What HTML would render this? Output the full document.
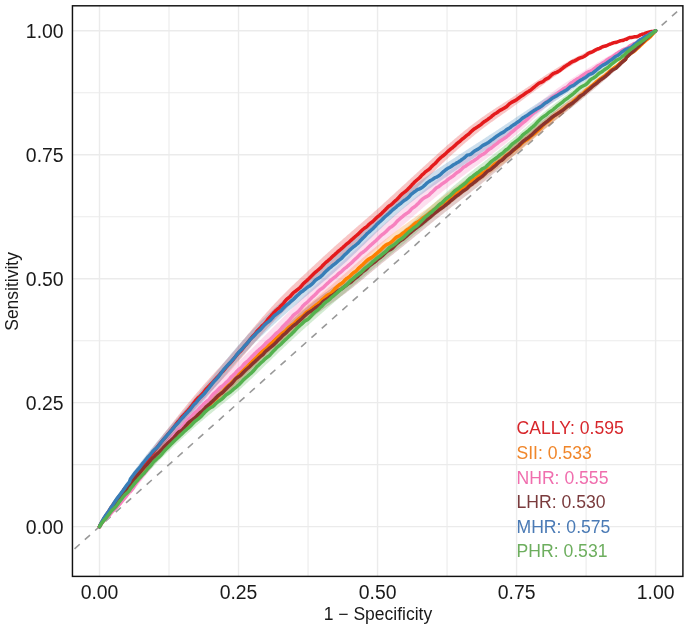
<!DOCTYPE html>
<html><head><meta charset="utf-8"><style>
html,body{margin:0;padding:0;background:#fff;}
body{width:685px;height:630px;position:relative;overflow:hidden;}
svg{position:absolute;left:0;top:0;font-family:"Liberation Sans",sans-serif;filter:blur(0.35px);}
</style></head><body>
<svg width="685" height="630" viewBox="0 0 685 630">
<defs><clipPath id="cp"><rect x="72.3" y="5.7" width="610.4" height="570.7"/></clipPath></defs>
<line x1="169.01" y1="5.7" x2="169.01" y2="576.4" stroke="#EBEBEB" stroke-width="1.1"/>
<line x1="72.3" y1="464.62" x2="682.7" y2="464.62" stroke="#EBEBEB" stroke-width="1.1"/>
<line x1="308.04" y1="5.7" x2="308.04" y2="576.4" stroke="#EBEBEB" stroke-width="1.1"/>
<line x1="72.3" y1="340.68" x2="682.7" y2="340.68" stroke="#EBEBEB" stroke-width="1.1"/>
<line x1="447.06" y1="5.7" x2="447.06" y2="576.4" stroke="#EBEBEB" stroke-width="1.1"/>
<line x1="72.3" y1="216.73" x2="682.7" y2="216.73" stroke="#EBEBEB" stroke-width="1.1"/>
<line x1="586.09" y1="5.7" x2="586.09" y2="576.4" stroke="#EBEBEB" stroke-width="1.1"/>
<line x1="72.3" y1="92.78" x2="682.7" y2="92.78" stroke="#EBEBEB" stroke-width="1.1"/>
<line x1="99.50" y1="5.7" x2="99.50" y2="576.4" stroke="#EBEBEB" stroke-width="1.4"/>
<line x1="72.3" y1="526.60" x2="682.7" y2="526.60" stroke="#EBEBEB" stroke-width="1.4"/>
<line x1="238.53" y1="5.7" x2="238.53" y2="576.4" stroke="#EBEBEB" stroke-width="1.4"/>
<line x1="72.3" y1="402.65" x2="682.7" y2="402.65" stroke="#EBEBEB" stroke-width="1.4"/>
<line x1="377.55" y1="5.7" x2="377.55" y2="576.4" stroke="#EBEBEB" stroke-width="1.4"/>
<line x1="72.3" y1="278.70" x2="682.7" y2="278.70" stroke="#EBEBEB" stroke-width="1.4"/>
<line x1="516.58" y1="5.7" x2="516.58" y2="576.4" stroke="#EBEBEB" stroke-width="1.4"/>
<line x1="72.3" y1="154.75" x2="682.7" y2="154.75" stroke="#EBEBEB" stroke-width="1.4"/>
<line x1="655.60" y1="5.7" x2="655.60" y2="576.4" stroke="#EBEBEB" stroke-width="1.4"/>
<line x1="72.3" y1="30.80" x2="682.7" y2="30.80" stroke="#EBEBEB" stroke-width="1.4"/>
<g clip-path="url(#cp)">
<line x1="72.30" y1="550.85" x2="682.70" y2="6.64" stroke="#999999" stroke-width="1.6" stroke-dasharray="6.9 6.9" stroke-dashoffset="-3.0"/>
<path d="M99.5 526.6 L100.5 524.2 L101.5 522.1 L102.5 520.2 L103.5 518.4 L104.5 516.6 L105.5 514.8 L106.5 513.1 L107.5 511.5 L108.5 509.8 L109.5 508.2 L110.5 506.6 L111.5 505.0 L112.5 503.4 L113.5 501.9 L114.5 500.4 L115.5 498.9 L116.5 497.5 L117.5 496.0 L118.5 494.6 L119.5 493.2 L120.5 491.9 L121.5 490.5 L122.5 489.1 L123.5 487.8 L124.5 486.4 L125.5 485.1 L126.5 483.8 L127.5 482.5 L128.5 481.2 L129.5 479.9 L130.5 476.8 L131.5 475.5 L132.5 474.2 L133.5 472.9 L134.5 471.6 L135.5 470.3 L136.5 469.0 L137.5 467.7 L138.5 466.4 L139.5 465.1 L140.5 463.8 L141.5 462.5 L142.5 461.2 L143.5 459.9 L144.5 458.6 L145.5 457.2 L146.5 455.9 L147.5 454.6 L148.5 453.3 L149.5 452.0 L150.5 450.7 L151.5 449.5 L152.5 448.2 L153.5 446.9 L154.5 445.6 L155.5 444.3 L156.5 443.0 L157.5 441.8 L158.5 440.5 L159.5 439.2 L160.5 437.9 L161.5 436.7 L162.5 435.4 L163.5 434.1 L164.5 432.8 L165.5 431.6 L166.5 430.3 L167.5 429.0 L168.5 427.7 L169.5 426.5 L170.5 425.2 L171.5 423.9 L172.5 422.7 L173.5 421.4 L174.5 420.1 L175.5 418.9 L176.5 417.6 L177.5 416.4 L178.5 415.1 L179.5 413.9 L180.5 412.6 L181.5 411.4 L182.5 410.1 L183.5 408.9 L184.5 407.7 L185.5 406.4 L186.5 405.2 L187.5 404.0 L188.5 402.8 L189.5 401.6 L190.5 400.4 L191.5 399.2 L192.5 398.0 L193.5 396.8 L194.5 395.6 L195.5 394.4 L196.5 393.2 L197.5 392.0 L198.5 390.9 L199.5 389.7 L200.5 388.5 L201.5 387.4 L202.5 386.2 L203.5 385.1 L204.5 383.9 L205.5 382.8 L206.5 381.7 L207.5 380.6 L208.5 379.4 L209.5 378.3 L210.5 377.2 L211.5 376.1 L212.5 375.0 L213.5 373.9 L214.5 372.8 L215.5 371.7 L216.5 370.6 L217.5 369.6 L218.5 368.5 L219.5 367.4 L220.5 366.3 L221.5 365.2 L222.5 364.1 L223.5 363.0 L224.5 361.9 L225.5 360.7 L226.5 359.6 L227.5 358.5 L228.5 357.3 L229.5 356.2 L230.5 355.0 L231.5 353.9 L232.5 352.7 L233.5 351.5 L234.5 350.4 L235.5 349.2 L236.5 348.0 L237.5 346.8 L238.5 345.6 L239.5 344.4 L240.5 343.2 L241.5 342.0 L242.5 340.8 L243.5 339.6 L244.5 338.4 L245.5 337.2 L246.5 336.0 L247.5 334.8 L248.5 333.6 L249.5 332.4 L250.5 331.2 L251.5 330.0 L252.5 328.8 L253.5 327.6 L254.5 326.5 L255.5 325.3 L256.5 324.1 L257.5 322.9 L258.5 321.8 L259.5 320.6 L260.5 319.4 L261.5 318.3 L262.5 317.1 L263.5 316.0 L264.5 314.9 L265.5 313.7 L266.5 312.6 L267.5 311.5 L268.5 310.4 L269.5 309.3 L270.5 308.2 L271.5 307.1 L272.5 306.0 L273.5 304.9 L274.5 303.8 L275.5 302.8 L276.5 301.7 L277.5 300.7 L278.5 299.6 L279.5 298.6 L280.5 297.5 L281.5 296.5 L282.5 295.5 L283.5 294.5 L284.5 293.5 L285.5 292.5 L286.5 291.5 L287.5 290.5 L288.5 289.5 L289.5 288.5 L290.5 287.6 L291.5 286.6 L292.5 285.6 L293.5 284.7 L294.5 283.7 L295.5 282.8 L296.5 281.8 L297.5 280.9 L298.5 279.9 L299.5 279.0 L300.5 278.0 L301.5 277.1 L302.5 276.2 L303.5 275.2 L304.5 274.3 L305.5 273.4 L306.5 272.4 L307.5 271.5 L308.5 270.5 L309.5 269.6 L310.5 268.7 L311.5 267.8 L312.5 266.8 L313.5 265.9 L314.5 265.0 L315.5 264.0 L316.5 263.1 L317.5 262.2 L318.5 261.2 L319.5 260.3 L320.5 259.4 L321.5 258.5 L322.5 257.6 L323.5 256.6 L324.5 255.7 L325.5 254.8 L326.5 253.9 L327.5 253.0 L328.5 252.1 L329.5 251.2 L330.5 250.2 L331.5 249.3 L332.5 248.4 L333.5 247.5 L334.5 246.6 L335.5 245.7 L336.5 244.8 L337.5 243.9 L338.5 243.1 L339.5 242.2 L340.5 241.3 L341.5 240.4 L342.5 239.5 L343.5 238.6 L344.5 237.7 L345.5 236.9 L346.5 236.0 L347.5 235.1 L348.5 234.2 L349.5 233.4 L350.5 232.5 L351.5 231.6 L352.5 230.8 L353.5 229.9 L354.5 229.1 L355.5 228.2 L356.5 227.3 L357.5 226.5 L358.5 225.6 L359.5 224.7 L360.5 223.9 L361.5 223.0 L362.5 222.2 L363.5 221.3 L364.5 220.4 L365.5 219.6 L366.5 218.7 L367.5 217.8 L368.5 216.9 L369.5 216.1 L370.5 215.2 L371.5 214.3 L372.5 213.4 L373.5 212.5 L374.5 211.6 L375.5 210.8 L376.5 209.9 L377.5 209.0 L378.5 208.1 L379.5 207.2 L380.5 206.3 L381.5 205.4 L382.5 204.4 L383.5 203.5 L384.5 202.6 L385.5 201.7 L386.5 200.8 L387.5 199.9 L388.5 199.0 L389.5 198.1 L390.5 197.1 L391.5 196.2 L392.5 195.3 L393.5 194.4 L394.5 193.5 L395.5 192.6 L396.5 191.6 L397.5 190.7 L398.5 189.8 L399.5 188.9 L400.5 188.0 L401.5 187.0 L402.5 186.1 L403.5 185.2 L404.5 184.3 L405.5 183.4 L406.5 182.4 L407.5 181.5 L408.5 180.6 L409.5 179.7 L410.5 178.8 L411.5 177.8 L412.5 176.9 L413.5 176.0 L414.5 175.1 L415.5 174.2 L416.5 173.3 L417.5 172.3 L418.5 171.4 L419.5 170.5 L420.5 169.6 L421.5 168.7 L422.5 167.7 L423.5 166.8 L424.5 165.9 L425.5 165.0 L426.5 164.1 L427.5 163.2 L428.5 162.2 L429.5 161.3 L430.5 160.4 L431.5 159.5 L432.5 158.6 L433.5 157.7 L434.5 156.8 L435.5 155.9 L436.5 154.9 L437.5 154.0 L438.5 153.1 L439.5 152.2 L440.5 151.3 L441.5 150.4 L442.5 149.6 L443.5 148.7 L444.5 147.8 L445.5 146.9 L446.5 146.0 L447.5 145.1 L448.5 144.3 L449.5 143.4 L450.5 142.5 L451.5 141.7 L452.5 140.8 L453.5 139.9 L454.5 139.1 L455.5 138.2 L456.5 137.4 L457.5 136.6 L458.5 135.7 L459.5 134.9 L460.5 134.1 L461.5 133.2 L462.5 132.4 L463.5 131.6 L464.5 130.8 L465.5 130.0 L466.5 129.2 L467.5 128.4 L468.5 127.6 L469.5 126.8 L470.5 126.1 L471.5 125.3 L472.5 124.5 L473.5 123.8 L474.5 123.0 L475.5 122.2 L476.5 121.5 L477.5 120.8 L478.5 120.0 L479.5 119.3 L480.5 118.6 L481.5 117.8 L482.5 117.1 L483.5 116.4 L484.5 115.7 L485.5 115.0 L486.5 114.3 L487.5 113.6 L488.5 112.9 L489.5 112.3 L490.5 111.6 L491.5 110.9 L492.5 110.3 L493.5 109.6 L494.5 108.9 L495.5 108.3 L496.5 107.6 L497.5 107.0 L498.5 106.3 L499.5 105.7 L500.5 105.0 L501.5 104.4 L502.5 103.7 L503.5 103.1 L504.5 102.5 L505.5 101.8 L506.5 101.2 L507.5 100.5 L508.5 99.9 L509.5 99.2 L510.5 98.6 L511.5 97.9 L512.5 97.2 L513.5 96.6 L514.5 95.9 L515.5 95.3 L516.5 94.6 L517.5 93.9 L518.5 93.3 L519.5 92.6 L520.5 91.9 L521.5 91.3 L522.5 90.6 L523.5 89.9 L524.5 89.3 L525.5 88.6 L526.5 87.9 L527.5 87.2 L528.5 86.6 L529.5 85.9 L530.5 85.2 L531.5 84.6 L532.5 83.9 L533.5 83.2 L534.5 82.5 L535.5 81.9 L536.5 81.2 L537.5 80.5 L538.5 79.9 L539.5 79.2 L540.5 78.6 L541.5 77.9 L542.5 77.2 L543.5 76.6 L544.5 75.9 L545.5 75.3 L546.5 74.6 L547.5 74.0 L548.5 73.3 L549.5 72.7 L550.5 72.1 L551.5 71.4 L552.5 70.8 L553.5 70.2 L554.5 69.5 L555.5 68.9 L556.5 68.3 L557.5 67.7 L558.5 67.1 L559.5 66.5 L560.5 65.9 L561.5 65.3 L562.5 64.7 L563.5 64.1 L564.5 63.5 L565.5 62.9 L566.5 62.4 L567.5 61.8 L568.5 61.2 L569.5 60.7 L570.5 60.1 L571.5 59.6 L572.5 59.0 L573.5 58.5 L574.5 58.0 L575.5 57.5 L576.5 56.9 L577.5 56.4 L578.5 55.9 L579.5 55.4 L580.5 54.9 L581.5 54.5 L582.5 54.0 L583.5 53.5 L584.5 53.0 L585.5 52.6 L586.5 52.1 L587.5 51.6 L588.5 51.2 L589.5 50.7 L590.5 50.3 L591.5 49.9 L592.5 49.4 L593.5 49.0 L594.5 48.6 L595.5 48.2 L596.5 47.8 L597.5 47.4 L598.5 47.0 L599.5 46.6 L600.5 46.2 L601.5 45.8 L602.5 45.4 L603.5 45.0 L604.5 44.7 L605.5 44.3 L606.5 43.9 L607.5 43.6 L608.5 43.2 L609.5 42.9 L610.5 42.6 L611.5 42.2 L612.5 41.9 L613.5 41.6 L614.5 41.3 L615.5 40.9 L616.5 40.6 L617.5 40.3 L618.5 40.0 L619.5 39.7 L620.5 39.4 L621.5 39.1 L622.5 38.8 L623.5 38.5 L624.5 38.2 L625.5 37.9 L626.5 38.4 L627.5 38.1 L628.5 37.8 L629.5 37.5 L630.5 37.1 L631.5 36.8 L632.5 36.5 L633.5 36.2 L634.5 35.9 L635.5 35.5 L636.5 35.2 L637.5 34.9 L638.5 34.6 L639.5 34.3 L640.5 34.0 L641.5 33.7 L642.5 33.4 L643.5 33.2 L644.5 32.9 L645.5 32.7 L646.5 32.4 L647.5 32.2 L648.5 32.0 L649.5 31.8 L650.5 31.6 L651.5 31.5 L652.5 31.3 L653.5 31.1 L654.5 31.0 L655.5 30.8 L655.6 30.8 L655.6 30.8 L655.5 30.8 L654.5 31.1 L653.5 31.4 L652.5 31.6 L651.5 31.9 L650.5 32.1 L649.5 32.4 L648.5 32.6 L647.5 32.9 L646.5 33.2 L645.5 33.5 L644.5 33.8 L643.5 34.2 L642.5 34.5 L641.5 34.9 L640.5 35.3 L639.5 35.6 L638.5 36.0 L637.5 36.4 L636.5 36.8 L635.5 37.2 L634.5 37.6 L633.5 38.0 L632.5 38.4 L631.5 38.8 L630.5 39.2 L629.5 39.5 L628.5 39.9 L627.5 40.3 L626.5 40.7 L625.5 40.1 L624.5 40.5 L623.5 40.8 L622.5 41.2 L621.5 41.6 L620.5 41.9 L619.5 42.3 L618.5 42.7 L617.5 43.0 L616.5 43.4 L615.5 43.8 L614.5 44.1 L613.5 44.5 L612.5 44.9 L611.5 45.3 L610.5 45.7 L609.5 46.1 L608.5 46.5 L607.5 46.9 L606.5 47.3 L605.5 47.7 L604.5 48.2 L603.5 48.6 L602.5 49.1 L601.5 49.5 L600.5 50.0 L599.5 50.4 L598.5 50.9 L597.5 51.3 L596.5 51.8 L595.5 52.3 L594.5 52.8 L593.5 53.3 L592.5 53.8 L591.5 54.3 L590.5 54.8 L589.5 55.3 L588.5 55.8 L587.5 56.3 L586.5 56.8 L585.5 57.4 L584.5 57.9 L583.5 58.4 L582.5 59.0 L581.5 59.5 L580.5 60.1 L579.5 60.7 L578.5 61.2 L577.5 61.8 L576.5 62.4 L575.5 63.0 L574.5 63.6 L573.5 64.2 L572.5 64.8 L571.5 65.4 L570.5 66.0 L569.5 66.6 L568.5 67.3 L567.5 67.9 L566.5 68.5 L565.5 69.2 L564.5 69.8 L563.5 70.5 L562.5 71.2 L561.5 71.8 L560.5 72.5 L559.5 73.2 L558.5 73.9 L557.5 74.5 L556.5 75.2 L555.5 75.9 L554.5 76.6 L553.5 77.3 L552.5 78.0 L551.5 78.7 L550.5 79.5 L549.5 80.2 L548.5 80.9 L547.5 81.6 L546.5 82.3 L545.5 83.0 L544.5 83.8 L543.5 84.5 L542.5 85.2 L541.5 86.0 L540.5 86.7 L539.5 87.4 L538.5 88.2 L537.5 88.9 L536.5 89.6 L535.5 90.4 L534.5 91.1 L533.5 91.9 L532.5 92.6 L531.5 93.3 L530.5 94.1 L529.5 94.8 L528.5 95.6 L527.5 96.3 L526.5 97.0 L525.5 97.8 L524.5 98.5 L523.5 99.2 L522.5 100.0 L521.5 100.7 L520.5 101.4 L519.5 102.2 L518.5 102.9 L517.5 103.6 L516.5 104.4 L515.5 105.1 L514.5 105.8 L513.5 106.5 L512.5 107.3 L511.5 108.0 L510.5 108.7 L509.5 109.4 L508.5 110.1 L507.5 110.8 L506.5 111.5 L505.5 112.2 L504.5 112.9 L503.5 113.6 L502.5 114.3 L501.5 115.0 L500.5 115.7 L499.5 116.4 L498.5 117.1 L497.5 117.8 L496.5 118.5 L495.5 119.2 L494.5 120.0 L493.5 120.7 L492.5 121.4 L491.5 122.1 L490.5 122.8 L489.5 123.5 L488.5 124.3 L487.5 125.0 L486.5 125.8 L485.5 126.5 L484.5 127.3 L483.5 128.0 L482.5 128.8 L481.5 129.6 L480.5 130.3 L479.5 131.1 L478.5 131.9 L477.5 132.7 L476.5 133.5 L475.5 134.3 L474.5 135.1 L473.5 135.9 L472.5 136.7 L471.5 137.6 L470.5 138.4 L469.5 139.2 L468.5 140.1 L467.5 140.9 L466.5 141.7 L465.5 142.6 L464.5 143.5 L463.5 144.3 L462.5 145.2 L461.5 146.1 L460.5 146.9 L459.5 147.8 L458.5 148.7 L457.5 149.6 L456.5 150.5 L455.5 151.4 L454.5 152.3 L453.5 153.2 L452.5 154.1 L451.5 155.0 L450.5 155.9 L449.5 156.8 L448.5 157.7 L447.5 158.7 L446.5 159.6 L445.5 160.5 L444.5 161.5 L443.5 162.4 L442.5 163.3 L441.5 164.3 L440.5 165.2 L439.5 166.2 L438.5 167.1 L437.5 168.1 L436.5 169.0 L435.5 170.0 L434.5 170.9 L433.5 171.9 L432.5 172.9 L431.5 173.8 L430.5 174.8 L429.5 175.7 L428.5 176.7 L427.5 177.7 L426.5 178.6 L425.5 179.6 L424.5 180.5 L423.5 181.5 L422.5 182.5 L421.5 183.4 L420.5 184.4 L419.5 185.3 L418.5 186.3 L417.5 187.3 L416.5 188.2 L415.5 189.2 L414.5 190.1 L413.5 191.1 L412.5 192.1 L411.5 193.0 L410.5 194.0 L409.5 194.9 L408.5 195.9 L407.5 196.8 L406.5 197.8 L405.5 198.7 L404.5 199.7 L403.5 200.7 L402.5 201.6 L401.5 202.6 L400.5 203.5 L399.5 204.5 L398.5 205.4 L397.5 206.4 L396.5 207.3 L395.5 208.3 L394.5 209.2 L393.5 210.2 L392.5 211.1 L391.5 212.1 L390.5 213.0 L389.5 213.9 L388.5 214.9 L387.5 215.8 L386.5 216.8 L385.5 217.7 L384.5 218.7 L383.5 219.6 L382.5 220.5 L381.5 221.5 L380.5 222.4 L379.5 223.3 L378.5 224.2 L377.5 225.2 L376.5 226.1 L375.5 227.0 L374.5 227.9 L373.5 228.8 L372.5 229.7 L371.5 230.6 L370.5 231.5 L369.5 232.4 L368.5 233.3 L367.5 234.2 L366.5 235.1 L365.5 236.0 L364.5 236.9 L363.5 237.8 L362.5 238.7 L361.5 239.5 L360.5 240.4 L359.5 241.3 L358.5 242.2 L357.5 243.1 L356.5 243.9 L355.5 244.8 L354.5 245.7 L353.5 246.6 L352.5 247.5 L351.5 248.3 L350.5 249.2 L349.5 250.1 L348.5 251.0 L347.5 251.9 L346.5 252.7 L345.5 253.6 L344.5 254.5 L343.5 255.4 L342.5 256.3 L341.5 257.2 L340.5 258.1 L339.5 259.0 L338.5 259.9 L337.5 260.8 L336.5 261.7 L335.5 262.6 L334.5 263.5 L333.5 264.4 L332.5 265.3 L331.5 266.2 L330.5 267.2 L329.5 268.1 L328.5 269.0 L327.5 269.9 L326.5 270.8 L325.5 271.8 L324.5 272.7 L323.5 273.6 L322.5 274.5 L321.5 275.4 L320.5 276.4 L319.5 277.3 L318.5 278.2 L317.5 279.2 L316.5 280.1 L315.5 281.0 L314.5 282.0 L313.5 282.9 L312.5 283.8 L311.5 284.7 L310.5 285.7 L309.5 286.6 L308.5 287.5 L307.5 288.5 L306.5 289.4 L305.5 290.3 L304.5 291.3 L303.5 292.2 L302.5 293.2 L301.5 294.1 L300.5 295.0 L299.5 296.0 L298.5 296.9 L297.5 297.8 L296.5 298.8 L295.5 299.7 L294.5 300.7 L293.5 301.6 L292.5 302.6 L291.5 303.5 L290.5 304.5 L289.5 305.5 L288.5 306.4 L287.5 307.4 L286.5 308.4 L285.5 309.4 L284.5 310.4 L283.5 311.4 L282.5 312.4 L281.5 313.4 L280.5 314.4 L279.5 315.4 L278.5 316.4 L277.5 317.5 L276.5 318.5 L275.5 319.6 L274.5 320.6 L273.5 321.7 L272.5 322.7 L271.5 323.8 L270.5 324.9 L269.5 326.0 L268.5 327.0 L267.5 328.1 L266.5 329.2 L265.5 330.3 L264.5 331.4 L263.5 332.6 L262.5 333.7 L261.5 334.8 L260.5 335.9 L259.5 337.1 L258.5 338.2 L257.5 339.4 L256.5 340.5 L255.5 341.6 L254.5 342.8 L253.5 344.0 L252.5 345.1 L251.5 346.3 L250.5 347.4 L249.5 348.6 L248.5 349.8 L247.5 350.9 L246.5 352.1 L245.5 353.3 L244.5 354.4 L243.5 355.6 L242.5 356.8 L241.5 357.9 L240.5 359.1 L239.5 360.3 L238.5 361.4 L237.5 362.6 L236.5 363.7 L235.5 364.9 L234.5 366.0 L233.5 367.2 L232.5 368.3 L231.5 369.4 L230.5 370.5 L229.5 371.7 L228.5 372.8 L227.5 373.9 L226.5 374.9 L225.5 376.0 L224.5 377.1 L223.5 378.2 L222.5 379.2 L221.5 380.3 L220.5 381.4 L219.5 382.4 L218.5 383.5 L217.5 384.5 L216.5 385.6 L215.5 386.6 L214.5 387.6 L213.5 388.7 L212.5 389.7 L211.5 390.8 L210.5 391.8 L209.5 392.9 L208.5 394.0 L207.5 395.0 L206.5 396.1 L205.5 397.2 L204.5 398.3 L203.5 399.3 L202.5 400.4 L201.5 401.5 L200.5 402.6 L199.5 403.7 L198.5 404.8 L197.5 405.9 L196.5 407.1 L195.5 408.2 L194.5 409.3 L193.5 410.4 L192.5 411.6 L191.5 412.7 L190.5 413.8 L189.5 415.0 L188.5 416.1 L187.5 417.2 L186.5 418.4 L185.5 419.5 L184.5 420.7 L183.5 421.9 L182.5 423.0 L181.5 424.2 L180.5 425.3 L179.5 426.5 L178.5 427.7 L177.5 428.9 L176.5 430.0 L175.5 431.2 L174.5 432.4 L173.5 433.6 L172.5 434.7 L171.5 435.9 L170.5 437.1 L169.5 438.3 L168.5 439.5 L167.5 440.6 L166.5 441.8 L165.5 443.0 L164.5 444.2 L163.5 445.4 L162.5 446.6 L161.5 447.7 L160.5 448.9 L159.5 450.1 L158.5 451.3 L157.5 452.5 L156.5 453.6 L155.5 454.8 L154.5 456.0 L153.5 457.2 L152.5 458.3 L151.5 459.5 L150.5 460.7 L149.5 461.9 L148.5 463.1 L147.5 464.2 L146.5 465.4 L145.5 466.6 L144.5 467.8 L143.5 469.0 L142.5 470.2 L141.5 471.4 L140.5 472.6 L139.5 473.8 L138.5 475.0 L137.5 476.1 L136.5 477.3 L135.5 478.5 L134.5 479.7 L133.5 480.8 L132.5 482.0 L131.5 483.2 L130.5 484.3 L129.5 487.1 L128.5 488.2 L127.5 489.4 L126.5 490.6 L125.5 491.7 L124.5 492.9 L123.5 494.1 L122.5 495.3 L121.5 496.5 L120.5 497.7 L119.5 498.9 L118.5 500.1 L117.5 501.4 L116.5 502.6 L115.5 503.9 L114.5 505.2 L113.5 506.5 L112.5 507.8 L111.5 509.1 L110.5 510.5 L109.5 511.8 L108.5 513.2 L107.5 514.6 L106.5 516.0 L105.5 517.5 L104.5 518.9 L103.5 520.4 L102.5 521.9 L101.5 523.4 L100.5 525.0 L99.5 526.6Z" fill="#E41A1C" fill-opacity="0.25"/>
<path d="M99.5 526.6 L100.5 524.6 L101.5 522.9 L102.5 521.3 L103.5 519.8 L104.5 518.3 L105.5 516.8 L106.5 515.4 L107.5 513.9 L108.5 512.5 L109.5 511.1 L110.5 509.7 L111.5 508.3 L112.5 506.9 L113.5 505.5 L114.5 504.1 L115.5 502.8 L116.5 501.4 L117.5 500.1 L118.5 498.8 L119.5 497.4 L120.5 496.1 L121.5 494.8 L122.5 493.6 L123.5 492.3 L124.5 491.0 L125.5 489.8 L126.5 488.5 L127.5 487.3 L128.5 486.1 L129.5 484.8 L130.5 482.2 L131.5 480.9 L132.5 479.7 L133.5 478.4 L134.5 477.1 L135.5 475.9 L136.5 474.6 L137.5 473.4 L138.5 472.2 L139.5 470.9 L140.5 469.7 L141.5 468.5 L142.5 467.3 L143.5 466.1 L144.5 465.0 L145.5 463.8 L146.5 462.6 L147.5 461.5 L148.5 460.3 L149.5 459.2 L150.5 458.0 L151.5 456.9 L152.5 455.8 L153.5 454.7 L154.5 453.6 L155.5 452.5 L156.5 451.4 L157.5 450.3 L158.5 449.2 L159.5 448.1 L160.5 447.1 L161.5 446.0 L162.5 444.9 L163.5 443.9 L164.5 442.8 L165.5 441.8 L166.5 440.8 L167.5 439.8 L168.5 438.7 L169.5 437.7 L170.5 436.7 L171.5 435.7 L172.5 434.7 L173.5 433.7 L174.5 432.7 L175.5 431.8 L176.5 430.8 L177.5 429.8 L178.5 428.8 L179.5 427.9 L180.5 426.9 L181.5 426.0 L182.5 425.0 L183.5 424.0 L184.5 423.1 L185.5 422.1 L186.5 421.2 L187.5 420.3 L188.5 419.3 L189.5 418.4 L190.5 417.4 L191.5 416.5 L192.5 415.6 L193.5 414.6 L194.5 413.7 L195.5 412.7 L196.5 411.8 L197.5 410.8 L198.5 409.9 L199.5 409.0 L200.5 408.0 L201.5 407.0 L202.5 406.1 L203.5 405.1 L204.5 404.2 L205.5 403.2 L206.5 402.2 L207.5 401.2 L208.5 400.3 L209.5 399.3 L210.5 398.3 L211.5 397.3 L212.5 396.3 L213.5 395.3 L214.5 394.2 L215.5 393.2 L216.5 392.2 L217.5 391.2 L218.5 390.1 L219.5 389.1 L220.5 388.1 L221.5 387.0 L222.5 386.0 L223.5 384.9 L224.5 383.9 L225.5 382.8 L226.5 381.8 L227.5 380.7 L228.5 379.7 L229.5 378.6 L230.5 377.6 L231.5 376.5 L232.5 375.5 L233.5 374.4 L234.5 373.4 L235.5 372.4 L236.5 371.3 L237.5 370.3 L238.5 369.2 L239.5 368.2 L240.5 367.2 L241.5 366.1 L242.5 365.1 L243.5 364.1 L244.5 363.0 L245.5 362.0 L246.5 361.0 L247.5 360.0 L248.5 359.0 L249.5 358.0 L250.5 356.9 L251.5 355.9 L252.5 354.9 L253.5 353.9 L254.5 352.9 L255.5 351.9 L256.5 350.9 L257.5 350.0 L258.5 349.0 L259.5 348.0 L260.5 347.0 L261.5 346.0 L262.5 345.1 L263.5 344.1 L264.5 343.1 L265.5 342.2 L266.5 341.2 L267.5 340.3 L268.5 339.3 L269.5 338.4 L270.5 337.4 L271.5 336.5 L272.5 335.6 L273.5 334.6 L274.5 333.7 L275.5 332.8 L276.5 331.9 L277.5 331.0 L278.5 330.0 L279.5 329.1 L280.5 328.2 L281.5 327.3 L282.5 326.4 L283.5 325.5 L284.5 324.6 L285.5 323.8 L286.5 322.9 L287.5 322.0 L288.5 321.1 L289.5 320.2 L290.5 319.4 L291.5 318.5 L292.5 317.6 L293.5 316.8 L294.5 315.9 L295.5 315.1 L296.5 314.2 L297.5 313.3 L298.5 312.5 L299.5 311.7 L300.5 310.8 L301.5 310.0 L302.5 309.1 L303.5 308.3 L304.5 307.5 L305.5 306.6 L306.5 305.8 L307.5 305.0 L308.5 304.1 L309.5 303.3 L310.5 302.5 L311.5 301.7 L312.5 300.8 L313.5 300.0 L314.5 299.2 L315.5 298.4 L316.5 297.5 L317.5 296.7 L318.5 295.9 L319.5 295.1 L320.5 294.2 L321.5 293.4 L322.5 292.6 L323.5 291.7 L324.5 290.9 L325.5 290.1 L326.5 289.2 L327.5 288.4 L328.5 287.5 L329.5 286.7 L330.5 285.9 L331.5 285.0 L332.5 284.2 L333.5 283.3 L334.5 282.5 L335.5 281.6 L336.5 280.8 L337.5 279.9 L338.5 279.1 L339.5 278.2 L340.5 277.3 L341.5 276.5 L342.5 275.6 L343.5 274.8 L344.5 273.9 L345.5 273.0 L346.5 272.2 L347.5 271.3 L348.5 270.4 L349.5 269.5 L350.5 268.7 L351.5 267.8 L352.5 266.9 L353.5 266.0 L354.5 265.1 L355.5 264.3 L356.5 263.4 L357.5 262.5 L358.5 261.6 L359.5 260.7 L360.5 259.9 L361.5 259.0 L362.5 258.1 L363.5 257.2 L364.5 256.4 L365.5 255.5 L366.5 254.7 L367.5 253.8 L368.5 253.0 L369.5 252.1 L370.5 251.3 L371.5 250.4 L372.5 249.6 L373.5 248.8 L374.5 247.9 L375.5 247.1 L376.5 246.3 L377.5 245.5 L378.5 244.7 L379.5 243.9 L380.5 243.1 L381.5 242.3 L382.5 241.5 L383.5 240.7 L384.5 239.9 L385.5 239.1 L386.5 238.4 L387.5 237.6 L388.5 236.8 L389.5 236.1 L390.5 235.3 L391.5 234.5 L392.5 233.8 L393.5 233.0 L394.5 232.3 L395.5 231.5 L396.5 230.8 L397.5 230.0 L398.5 229.3 L399.5 228.5 L400.5 227.8 L401.5 227.1 L402.5 226.3 L403.5 225.6 L404.5 224.9 L405.5 224.2 L406.5 223.4 L407.5 222.7 L408.5 222.0 L409.5 221.3 L410.5 220.5 L411.5 219.8 L412.5 219.1 L413.5 218.4 L414.5 217.7 L415.5 217.0 L416.5 216.2 L417.5 215.5 L418.5 214.8 L419.5 214.1 L420.5 213.3 L421.5 212.6 L422.5 211.9 L423.5 211.1 L424.5 210.4 L425.5 209.7 L426.5 208.9 L427.5 208.2 L428.5 207.4 L429.5 206.7 L430.5 205.9 L431.5 205.2 L432.5 204.4 L433.5 203.7 L434.5 202.9 L435.5 202.1 L436.5 201.4 L437.5 200.6 L438.5 199.9 L439.5 199.1 L440.5 198.4 L441.5 197.6 L442.5 196.8 L443.5 196.1 L444.5 195.3 L445.5 194.6 L446.5 193.8 L447.5 193.0 L448.5 192.3 L449.5 191.5 L450.5 190.8 L451.5 190.0 L452.5 189.3 L453.5 188.5 L454.5 187.8 L455.5 187.0 L456.5 186.3 L457.5 185.5 L458.5 184.8 L459.5 184.1 L460.5 183.3 L461.5 182.6 L462.5 181.8 L463.5 181.1 L464.5 180.4 L465.5 179.6 L466.5 178.9 L467.5 178.2 L468.5 177.4 L469.5 176.7 L470.5 176.0 L471.5 175.2 L472.5 174.5 L473.5 173.8 L474.5 173.1 L475.5 172.3 L476.5 171.6 L477.5 170.9 L478.5 170.2 L479.5 169.5 L480.5 168.8 L481.5 168.0 L482.5 167.3 L483.5 166.6 L484.5 165.9 L485.5 165.2 L486.5 164.5 L487.5 163.8 L488.5 163.1 L489.5 162.4 L490.5 161.7 L491.5 161.0 L492.5 160.3 L493.5 159.6 L494.5 158.9 L495.5 158.2 L496.5 157.4 L497.5 156.7 L498.5 156.0 L499.5 155.3 L500.5 154.6 L501.5 153.9 L502.5 153.2 L503.5 152.4 L504.5 151.7 L505.5 151.0 L506.5 150.2 L507.5 149.5 L508.5 148.7 L509.5 148.0 L510.5 147.2 L511.5 146.5 L512.5 145.7 L513.5 145.0 L514.5 144.2 L515.5 143.4 L516.5 142.6 L517.5 141.9 L518.5 141.1 L519.5 140.3 L520.5 139.5 L521.5 138.7 L522.5 137.9 L523.5 137.1 L524.5 136.3 L525.5 135.5 L526.5 134.7 L527.5 133.8 L528.5 133.0 L529.5 132.2 L530.5 131.4 L531.5 130.6 L532.5 129.8 L533.5 128.9 L534.5 128.1 L535.5 127.3 L536.5 126.5 L537.5 125.7 L538.5 124.8 L539.5 124.0 L540.5 123.2 L541.5 122.4 L542.5 121.5 L543.5 120.7 L544.5 119.9 L545.5 119.1 L546.5 118.3 L547.5 117.5 L548.5 116.6 L549.5 115.8 L550.5 115.0 L551.5 114.2 L552.5 113.4 L553.5 112.6 L554.5 111.8 L555.5 111.0 L556.5 110.2 L557.5 109.4 L558.5 108.6 L559.5 107.8 L560.5 107.1 L561.5 106.3 L562.5 105.5 L563.5 104.7 L564.5 103.9 L565.5 103.1 L566.5 102.4 L567.5 101.6 L568.5 100.8 L569.5 100.0 L570.5 99.3 L571.5 98.5 L572.5 97.7 L573.5 96.9 L574.5 96.1 L575.5 95.4 L576.5 94.6 L577.5 93.8 L578.5 93.0 L579.5 92.3 L580.5 91.5 L581.5 90.7 L582.5 89.9 L583.5 89.1 L584.5 88.4 L585.5 87.6 L586.5 86.8 L587.5 86.0 L588.5 85.3 L589.5 84.5 L590.5 83.7 L591.5 82.9 L592.5 82.1 L593.5 81.4 L594.5 80.6 L595.5 79.8 L596.5 79.0 L597.5 78.2 L598.5 77.5 L599.5 76.7 L600.5 75.9 L601.5 75.1 L602.5 74.4 L603.5 73.6 L604.5 72.8 L605.5 72.0 L606.5 71.3 L607.5 70.5 L608.5 69.7 L609.5 68.9 L610.5 68.2 L611.5 67.4 L612.5 66.6 L613.5 65.9 L614.5 65.1 L615.5 64.4 L616.5 63.7 L617.5 62.9 L618.5 62.2 L619.5 61.5 L620.5 60.7 L621.5 60.0 L622.5 59.3 L623.5 58.6 L624.5 57.8 L625.5 57.1 L626.5 55.0 L627.5 54.2 L628.5 53.4 L629.5 52.7 L630.5 51.9 L631.5 51.1 L632.5 50.3 L633.5 49.5 L634.5 48.8 L635.5 48.0 L636.5 47.2 L637.5 46.4 L638.5 45.7 L639.5 44.9 L640.5 44.1 L641.5 43.4 L642.5 42.6 L643.5 41.8 L644.5 41.1 L645.5 40.3 L646.5 39.5 L647.5 38.6 L648.5 37.7 L649.5 36.7 L650.5 35.7 L651.5 34.7 L652.5 33.8 L653.5 32.8 L654.5 31.8 L655.5 30.9 L655.6 30.8 L655.6 30.8 L655.5 30.9 L654.5 32.2 L653.5 33.5 L652.5 34.7 L651.5 35.9 L650.5 37.1 L649.5 38.3 L648.5 39.4 L647.5 40.5 L646.5 41.5 L645.5 42.5 L644.5 43.4 L643.5 44.3 L642.5 45.1 L641.5 46.0 L640.5 46.9 L639.5 47.8 L638.5 48.7 L637.5 49.5 L636.5 50.4 L635.5 51.3 L634.5 52.2 L633.5 53.1 L632.5 53.9 L631.5 54.8 L630.5 55.7 L629.5 56.6 L628.5 57.5 L627.5 58.3 L626.5 59.2 L625.5 61.6 L624.5 62.4 L623.5 63.2 L622.5 64.0 L621.5 64.8 L620.5 65.6 L619.5 66.4 L618.5 67.2 L617.5 68.0 L616.5 68.8 L615.5 69.6 L614.5 70.5 L613.5 71.3 L612.5 72.1 L611.5 73.0 L610.5 73.8 L609.5 74.7 L608.5 75.5 L607.5 76.4 L606.5 77.2 L605.5 78.1 L604.5 78.9 L603.5 79.8 L602.5 80.6 L601.5 81.5 L600.5 82.3 L599.5 83.2 L598.5 84.0 L597.5 84.9 L596.5 85.7 L595.5 86.5 L594.5 87.4 L593.5 88.2 L592.5 89.1 L591.5 89.9 L590.5 90.8 L589.5 91.6 L588.5 92.5 L587.5 93.3 L586.5 94.2 L585.5 95.0 L584.5 95.8 L583.5 96.7 L582.5 97.5 L581.5 98.4 L580.5 99.2 L579.5 100.1 L578.5 100.9 L577.5 101.7 L576.5 102.6 L575.5 103.4 L574.5 104.2 L573.5 105.1 L572.5 105.9 L571.5 106.7 L570.5 107.6 L569.5 108.4 L568.5 109.2 L567.5 110.1 L566.5 110.9 L565.5 111.8 L564.5 112.6 L563.5 113.4 L562.5 114.3 L561.5 115.1 L560.5 115.9 L559.5 116.8 L558.5 117.6 L557.5 118.5 L556.5 119.3 L555.5 120.2 L554.5 121.0 L553.5 121.9 L552.5 122.7 L551.5 123.6 L550.5 124.4 L549.5 125.3 L548.5 126.2 L547.5 127.0 L546.5 127.9 L545.5 128.8 L544.5 129.6 L543.5 130.5 L542.5 131.4 L541.5 132.2 L540.5 133.1 L539.5 134.0 L538.5 134.8 L537.5 135.7 L536.5 136.6 L535.5 137.5 L534.5 138.3 L533.5 139.2 L532.5 140.1 L531.5 140.9 L530.5 141.8 L529.5 142.6 L528.5 143.5 L527.5 144.4 L526.5 145.2 L525.5 146.1 L524.5 146.9 L523.5 147.8 L522.5 148.6 L521.5 149.5 L520.5 150.3 L519.5 151.1 L518.5 152.0 L517.5 152.8 L516.5 153.6 L515.5 154.4 L514.5 155.2 L513.5 156.0 L512.5 156.8 L511.5 157.6 L510.5 158.4 L509.5 159.2 L508.5 160.0 L507.5 160.8 L506.5 161.6 L505.5 162.3 L504.5 163.1 L503.5 163.9 L502.5 164.6 L501.5 165.4 L500.5 166.1 L499.5 166.9 L498.5 167.6 L497.5 168.4 L496.5 169.1 L495.5 169.8 L494.5 170.6 L493.5 171.3 L492.5 172.0 L491.5 172.8 L490.5 173.5 L489.5 174.2 L488.5 175.0 L487.5 175.7 L486.5 176.4 L485.5 177.2 L484.5 177.9 L483.5 178.7 L482.5 179.4 L481.5 180.1 L480.5 180.9 L479.5 181.6 L478.5 182.3 L477.5 183.1 L476.5 183.8 L475.5 184.6 L474.5 185.3 L473.5 186.1 L472.5 186.8 L471.5 187.6 L470.5 188.3 L469.5 189.1 L468.5 189.8 L467.5 190.6 L466.5 191.4 L465.5 192.1 L464.5 192.9 L463.5 193.6 L462.5 194.4 L461.5 195.2 L460.5 195.9 L459.5 196.7 L458.5 197.5 L457.5 198.2 L456.5 199.0 L455.5 199.8 L454.5 200.5 L453.5 201.3 L452.5 202.1 L451.5 202.9 L450.5 203.6 L449.5 204.4 L448.5 205.2 L447.5 206.0 L446.5 206.7 L445.5 207.5 L444.5 208.3 L443.5 209.1 L442.5 209.9 L441.5 210.6 L440.5 211.4 L439.5 212.2 L438.5 213.0 L437.5 213.7 L436.5 214.5 L435.5 215.3 L434.5 216.1 L433.5 216.9 L432.5 217.6 L431.5 218.4 L430.5 219.2 L429.5 219.9 L428.5 220.7 L427.5 221.5 L426.5 222.2 L425.5 223.0 L424.5 223.7 L423.5 224.5 L422.5 225.2 L421.5 226.0 L420.5 226.7 L419.5 227.5 L418.5 228.2 L417.5 229.0 L416.5 229.7 L415.5 230.4 L414.5 231.2 L413.5 231.9 L412.5 232.6 L411.5 233.4 L410.5 234.1 L409.5 234.8 L408.5 235.6 L407.5 236.3 L406.5 237.0 L405.5 237.8 L404.5 238.5 L403.5 239.2 L402.5 240.0 L401.5 240.7 L400.5 241.5 L399.5 242.2 L398.5 243.0 L397.5 243.7 L396.5 244.5 L395.5 245.2 L394.5 246.0 L393.5 246.7 L392.5 247.5 L391.5 248.3 L390.5 249.1 L389.5 249.8 L388.5 250.6 L387.5 251.4 L386.5 252.2 L385.5 253.0 L384.5 253.8 L383.5 254.5 L382.5 255.3 L381.5 256.1 L380.5 256.9 L379.5 257.8 L378.5 258.6 L377.5 259.4 L376.5 260.2 L375.5 261.0 L374.5 261.8 L373.5 262.7 L372.5 263.5 L371.5 264.4 L370.5 265.2 L369.5 266.0 L368.5 266.9 L367.5 267.8 L366.5 268.6 L365.5 269.5 L364.5 270.3 L363.5 271.2 L362.5 272.1 L361.5 273.0 L360.5 273.8 L359.5 274.7 L358.5 275.6 L357.5 276.5 L356.5 277.4 L355.5 278.3 L354.5 279.1 L353.5 280.0 L352.5 280.9 L351.5 281.8 L350.5 282.7 L349.5 283.5 L348.5 284.4 L347.5 285.3 L346.5 286.2 L345.5 287.0 L344.5 287.9 L343.5 288.8 L342.5 289.6 L341.5 290.5 L340.5 291.3 L339.5 292.2 L338.5 293.0 L337.5 293.9 L336.5 294.8 L335.5 295.6 L334.5 296.4 L333.5 297.3 L332.5 298.1 L331.5 299.0 L330.5 299.8 L329.5 300.7 L328.5 301.5 L327.5 302.3 L326.5 303.2 L325.5 304.0 L324.5 304.8 L323.5 305.7 L322.5 306.5 L321.5 307.3 L320.5 308.1 L319.5 309.0 L318.5 309.8 L317.5 310.6 L316.5 311.4 L315.5 312.2 L314.5 313.1 L313.5 313.9 L312.5 314.7 L311.5 315.5 L310.5 316.3 L309.5 317.1 L308.5 318.0 L307.5 318.8 L306.5 319.6 L305.5 320.4 L304.5 321.2 L303.5 322.1 L302.5 322.9 L301.5 323.7 L300.5 324.6 L299.5 325.4 L298.5 326.2 L297.5 327.1 L296.5 327.9 L295.5 328.7 L294.5 329.6 L293.5 330.4 L292.5 331.3 L291.5 332.1 L290.5 333.0 L289.5 333.8 L288.5 334.7 L287.5 335.6 L286.5 336.4 L285.5 337.3 L284.5 338.2 L283.5 339.0 L282.5 339.9 L281.5 340.8 L280.5 341.7 L279.5 342.6 L278.5 343.5 L277.5 344.4 L276.5 345.3 L275.5 346.2 L274.5 347.1 L273.5 348.0 L272.5 348.9 L271.5 349.8 L270.5 350.7 L269.5 351.6 L268.5 352.5 L267.5 353.5 L266.5 354.4 L265.5 355.3 L264.5 356.3 L263.5 357.2 L262.5 358.1 L261.5 359.1 L260.5 360.0 L259.5 361.0 L258.5 361.9 L257.5 362.9 L256.5 363.9 L255.5 364.8 L254.5 365.8 L253.5 366.8 L252.5 367.7 L251.5 368.7 L250.5 369.7 L249.5 370.7 L248.5 371.7 L247.5 372.6 L246.5 373.6 L245.5 374.6 L244.5 375.6 L243.5 376.6 L242.5 377.6 L241.5 378.6 L240.5 379.6 L239.5 380.6 L238.5 381.6 L237.5 382.6 L236.5 383.6 L235.5 384.6 L234.5 385.6 L233.5 386.6 L232.5 387.6 L231.5 388.6 L230.5 389.7 L229.5 390.7 L228.5 391.7 L227.5 392.7 L226.5 393.7 L225.5 394.7 L224.5 395.7 L223.5 396.7 L222.5 397.7 L221.5 398.7 L220.5 399.7 L219.5 400.7 L218.5 401.7 L217.5 402.7 L216.5 403.7 L215.5 404.7 L214.5 405.6 L213.5 406.6 L212.5 407.6 L211.5 408.5 L210.5 409.5 L209.5 410.4 L208.5 411.4 L207.5 412.3 L206.5 413.3 L205.5 414.2 L204.5 415.1 L203.5 416.0 L202.5 417.0 L201.5 417.9 L200.5 418.8 L199.5 419.7 L198.5 420.6 L197.5 421.5 L196.5 422.4 L195.5 423.3 L194.5 424.2 L193.5 425.1 L192.5 425.9 L191.5 426.8 L190.5 427.7 L189.5 428.6 L188.5 429.5 L187.5 430.4 L186.5 431.3 L185.5 432.2 L184.5 433.1 L183.5 434.0 L182.5 434.9 L181.5 435.8 L180.5 436.7 L179.5 437.6 L178.5 438.5 L177.5 439.4 L176.5 440.3 L175.5 441.2 L174.5 442.2 L173.5 443.1 L172.5 444.0 L171.5 445.0 L170.5 445.9 L169.5 446.8 L168.5 447.8 L167.5 448.7 L166.5 449.7 L165.5 450.7 L164.5 451.6 L163.5 452.6 L162.5 453.6 L161.5 454.6 L160.5 455.6 L159.5 456.6 L158.5 457.6 L157.5 458.6 L156.5 459.6 L155.5 460.6 L154.5 461.6 L153.5 462.7 L152.5 463.7 L151.5 464.7 L150.5 465.8 L149.5 466.8 L148.5 467.9 L147.5 469.0 L146.5 470.0 L145.5 471.1 L144.5 472.2 L143.5 473.3 L142.5 474.4 L141.5 475.5 L140.5 476.6 L139.5 477.7 L138.5 478.8 L137.5 479.9 L136.5 481.1 L135.5 482.2 L134.5 483.4 L133.5 484.5 L132.5 485.7 L131.5 486.8 L130.5 488.0 L129.5 490.4 L128.5 491.5 L127.5 492.6 L126.5 493.7 L125.5 494.8 L124.5 496.0 L123.5 497.1 L122.5 498.2 L121.5 499.4 L120.5 500.6 L119.5 501.7 L118.5 502.9 L117.5 504.1 L116.5 505.3 L115.5 506.5 L114.5 507.7 L113.5 508.9 L112.5 510.1 L111.5 511.3 L110.5 512.6 L109.5 513.8 L108.5 515.0 L107.5 516.2 L106.5 517.5 L105.5 518.7 L104.5 520.0 L103.5 521.2 L102.5 522.5 L101.5 523.8 L100.5 525.2 L99.5 526.6Z" fill="#FF7F00" fill-opacity="0.25"/>
<path d="M99.5 526.6 L100.5 524.8 L101.5 523.3 L102.5 521.9 L103.5 520.6 L104.5 519.3 L105.5 518.1 L106.5 516.9 L107.5 515.8 L108.5 514.6 L109.5 513.5 L110.5 512.3 L111.5 511.2 L112.5 510.0 L113.5 508.8 L114.5 507.7 L115.5 506.5 L116.5 505.3 L117.5 504.1 L118.5 502.9 L119.5 501.7 L120.5 500.4 L121.5 499.1 L122.5 497.8 L123.5 496.5 L124.5 495.2 L125.5 493.9 L126.5 492.5 L127.5 491.1 L128.5 489.7 L129.5 488.4 L130.5 488.0 L131.5 486.6 L132.5 485.2 L133.5 483.8 L134.5 482.4 L135.5 481.0 L136.5 479.6 L137.5 478.2 L138.5 476.8 L139.5 475.4 L140.5 474.0 L141.5 472.6 L142.5 471.2 L143.5 469.8 L144.5 468.4 L145.5 467.0 L146.5 465.6 L147.5 464.3 L148.5 462.9 L149.5 461.5 L150.5 460.1 L151.5 458.7 L152.5 457.4 L153.5 456.0 L154.5 454.6 L155.5 453.2 L156.5 451.9 L157.5 450.5 L158.5 449.2 L159.5 447.8 L160.5 446.5 L161.5 445.1 L162.5 443.8 L163.5 442.5 L164.5 441.2 L165.5 439.9 L166.5 438.6 L167.5 437.3 L168.5 436.0 L169.5 434.8 L170.5 433.5 L171.5 432.3 L172.5 431.1 L173.5 429.9 L174.5 428.7 L175.5 427.5 L176.5 426.3 L177.5 425.1 L178.5 424.0 L179.5 422.8 L180.5 421.7 L181.5 420.5 L182.5 419.4 L183.5 418.3 L184.5 417.2 L185.5 416.1 L186.5 415.0 L187.5 413.9 L188.5 412.8 L189.5 411.7 L190.5 410.6 L191.5 409.6 L192.5 408.5 L193.5 407.4 L194.5 406.4 L195.5 405.3 L196.5 404.2 L197.5 403.2 L198.5 402.1 L199.5 401.1 L200.5 400.1 L201.5 399.0 L202.5 398.0 L203.5 396.9 L204.5 395.9 L205.5 394.9 L206.5 393.9 L207.5 392.9 L208.5 391.8 L209.5 390.8 L210.5 389.8 L211.5 388.8 L212.5 387.8 L213.5 386.8 L214.5 385.8 L215.5 384.8 L216.5 383.8 L217.5 382.8 L218.5 381.8 L219.5 380.8 L220.5 379.8 L221.5 378.8 L222.5 377.8 L223.5 376.8 L224.5 375.8 L225.5 374.8 L226.5 373.8 L227.5 372.8 L228.5 371.8 L229.5 370.8 L230.5 369.8 L231.5 368.8 L232.5 367.8 L233.5 366.8 L234.5 365.8 L235.5 364.8 L236.5 363.8 L237.5 362.8 L238.5 361.8 L239.5 360.8 L240.5 359.8 L241.5 358.8 L242.5 357.8 L243.5 356.8 L244.5 355.8 L245.5 354.8 L246.5 353.8 L247.5 352.8 L248.5 351.8 L249.5 350.8 L250.5 349.9 L251.5 348.9 L252.5 347.9 L253.5 346.9 L254.5 345.9 L255.5 344.9 L256.5 343.9 L257.5 343.0 L258.5 342.0 L259.5 341.0 L260.5 340.0 L261.5 339.0 L262.5 338.0 L263.5 337.1 L264.5 336.1 L265.5 335.1 L266.5 334.1 L267.5 333.1 L268.5 332.1 L269.5 331.1 L270.5 330.1 L271.5 329.1 L272.5 328.1 L273.5 327.1 L274.5 326.1 L275.5 325.1 L276.5 324.1 L277.5 323.1 L278.5 322.1 L279.5 321.1 L280.5 320.1 L281.5 319.1 L282.5 318.1 L283.5 317.0 L284.5 316.0 L285.5 315.0 L286.5 314.0 L287.5 313.0 L288.5 311.9 L289.5 310.9 L290.5 309.9 L291.5 308.9 L292.5 307.9 L293.5 306.8 L294.5 305.8 L295.5 304.8 L296.5 303.8 L297.5 302.8 L298.5 301.8 L299.5 300.8 L300.5 299.8 L301.5 298.8 L302.5 297.8 L303.5 296.8 L304.5 295.8 L305.5 294.8 L306.5 293.9 L307.5 292.9 L308.5 291.9 L309.5 291.0 L310.5 290.0 L311.5 289.1 L312.5 288.2 L313.5 287.2 L314.5 286.3 L315.5 285.4 L316.5 284.5 L317.5 283.6 L318.5 282.7 L319.5 281.8 L320.5 280.9 L321.5 280.0 L322.5 279.1 L323.5 278.2 L324.5 277.3 L325.5 276.4 L326.5 275.5 L327.5 274.6 L328.5 273.8 L329.5 272.9 L330.5 272.0 L331.5 271.1 L332.5 270.3 L333.5 269.4 L334.5 268.5 L335.5 267.6 L336.5 266.7 L337.5 265.9 L338.5 265.0 L339.5 264.1 L340.5 263.2 L341.5 262.3 L342.5 261.5 L343.5 260.6 L344.5 259.7 L345.5 258.8 L346.5 257.9 L347.5 257.0 L348.5 256.1 L349.5 255.2 L350.5 254.3 L351.5 253.4 L352.5 252.5 L353.5 251.6 L354.5 250.7 L355.5 249.8 L356.5 248.9 L357.5 247.9 L358.5 247.0 L359.5 246.1 L360.5 245.2 L361.5 244.3 L362.5 243.4 L363.5 242.5 L364.5 241.6 L365.5 240.7 L366.5 239.8 L367.5 238.9 L368.5 238.0 L369.5 237.1 L370.5 236.2 L371.5 235.3 L372.5 234.4 L373.5 233.5 L374.5 232.6 L375.5 231.7 L376.5 230.8 L377.5 230.0 L378.5 229.1 L379.5 228.2 L380.5 227.3 L381.5 226.5 L382.5 225.6 L383.5 224.7 L384.5 223.9 L385.5 223.0 L386.5 222.1 L387.5 221.3 L388.5 220.4 L389.5 219.6 L390.5 218.7 L391.5 217.9 L392.5 217.0 L393.5 216.1 L394.5 215.3 L395.5 214.4 L396.5 213.6 L397.5 212.7 L398.5 211.9 L399.5 211.0 L400.5 210.2 L401.5 209.3 L402.5 208.5 L403.5 207.6 L404.5 206.8 L405.5 205.9 L406.5 205.1 L407.5 204.2 L408.5 203.4 L409.5 202.5 L410.5 201.7 L411.5 200.8 L412.5 200.0 L413.5 199.1 L414.5 198.3 L415.5 197.4 L416.5 196.6 L417.5 195.7 L418.5 194.9 L419.5 194.1 L420.5 193.2 L421.5 192.4 L422.5 191.5 L423.5 190.7 L424.5 189.9 L425.5 189.1 L426.5 188.3 L427.5 187.4 L428.5 186.6 L429.5 185.8 L430.5 185.0 L431.5 184.2 L432.5 183.4 L433.5 182.6 L434.5 181.8 L435.5 181.0 L436.5 180.3 L437.5 179.5 L438.5 178.7 L439.5 177.9 L440.5 177.2 L441.5 176.4 L442.5 175.6 L443.5 174.9 L444.5 174.1 L445.5 173.4 L446.5 172.6 L447.5 171.9 L448.5 171.1 L449.5 170.4 L450.5 169.6 L451.5 168.9 L452.5 168.2 L453.5 167.4 L454.5 166.7 L455.5 166.0 L456.5 165.3 L457.5 164.5 L458.5 163.8 L459.5 163.1 L460.5 162.4 L461.5 161.7 L462.5 161.0 L463.5 160.3 L464.5 159.6 L465.5 158.9 L466.5 158.2 L467.5 157.5 L468.5 156.8 L469.5 156.1 L470.5 155.4 L471.5 154.7 L472.5 154.0 L473.5 153.3 L474.5 152.6 L475.5 151.9 L476.5 151.2 L477.5 150.5 L478.5 149.8 L479.5 149.1 L480.5 148.4 L481.5 147.7 L482.5 147.0 L483.5 146.3 L484.5 145.6 L485.5 144.9 L486.5 144.2 L487.5 143.5 L488.5 142.7 L489.5 142.0 L490.5 141.3 L491.5 140.6 L492.5 139.9 L493.5 139.1 L494.5 138.4 L495.5 137.7 L496.5 136.9 L497.5 136.2 L498.5 135.5 L499.5 134.7 L500.5 134.0 L501.5 133.2 L502.5 132.5 L503.5 131.7 L504.5 131.0 L505.5 130.2 L506.5 129.5 L507.5 128.7 L508.5 127.9 L509.5 127.1 L510.5 126.4 L511.5 125.6 L512.5 124.8 L513.5 124.0 L514.5 123.2 L515.5 122.5 L516.5 121.7 L517.5 120.9 L518.5 120.1 L519.5 119.3 L520.5 118.4 L521.5 117.6 L522.5 116.8 L523.5 116.0 L524.5 115.2 L525.5 114.3 L526.5 113.5 L527.5 112.7 L528.5 111.8 L529.5 111.0 L530.5 110.1 L531.5 109.3 L532.5 108.4 L533.5 107.6 L534.5 106.7 L535.5 105.9 L536.5 105.0 L537.5 104.2 L538.5 103.3 L539.5 102.5 L540.5 101.6 L541.5 100.8 L542.5 99.9 L543.5 99.1 L544.5 98.3 L545.5 97.5 L546.5 96.7 L547.5 95.9 L548.5 95.1 L549.5 94.3 L550.5 93.5 L551.5 92.8 L552.5 92.0 L553.5 91.2 L554.5 90.5 L555.5 89.8 L556.5 89.0 L557.5 88.3 L558.5 87.6 L559.5 86.9 L560.5 86.2 L561.5 85.5 L562.5 84.8 L563.5 84.1 L564.5 83.5 L565.5 82.8 L566.5 82.1 L567.5 81.5 L568.5 80.8 L569.5 80.1 L570.5 79.5 L571.5 78.8 L572.5 78.2 L573.5 77.5 L574.5 76.9 L575.5 76.2 L576.5 75.6 L577.5 75.0 L578.5 74.3 L579.5 73.7 L580.5 73.1 L581.5 72.4 L582.5 71.8 L583.5 71.2 L584.5 70.5 L585.5 69.9 L586.5 69.3 L587.5 68.7 L588.5 68.1 L589.5 67.4 L590.5 66.8 L591.5 66.2 L592.5 65.6 L593.5 65.0 L594.5 64.4 L595.5 63.8 L596.5 63.2 L597.5 62.6 L598.5 62.0 L599.5 61.4 L600.5 60.8 L601.5 60.2 L602.5 59.6 L603.5 59.0 L604.5 58.4 L605.5 57.8 L606.5 57.2 L607.5 56.7 L608.5 56.1 L609.5 55.5 L610.5 54.9 L611.5 54.3 L612.5 53.8 L613.5 53.2 L614.5 52.6 L615.5 52.0 L616.5 51.4 L617.5 50.9 L618.5 50.3 L619.5 49.7 L620.5 49.2 L621.5 48.6 L622.5 48.0 L623.5 47.5 L624.5 46.9 L625.5 46.4 L626.5 46.2 L627.5 45.7 L628.5 45.1 L629.5 44.5 L630.5 44.0 L631.5 43.4 L632.5 42.9 L633.5 42.3 L634.5 41.8 L635.5 41.2 L636.5 40.7 L637.5 40.1 L638.5 39.6 L639.5 39.0 L640.5 38.5 L641.5 38.0 L642.5 37.4 L643.5 36.9 L644.5 36.4 L645.5 35.9 L646.5 35.3 L647.5 34.8 L648.5 34.3 L649.5 33.8 L650.5 33.3 L651.5 32.8 L652.5 32.3 L653.5 31.8 L654.5 31.3 L655.5 30.8 L655.6 30.8 L655.6 30.8 L655.5 30.9 L654.5 31.6 L653.5 32.3 L652.5 33.0 L651.5 33.7 L650.5 34.4 L649.5 35.0 L648.5 35.7 L647.5 36.4 L646.5 37.0 L645.5 37.7 L644.5 38.3 L643.5 39.0 L642.5 39.7 L641.5 40.3 L640.5 41.0 L639.5 41.6 L638.5 42.3 L637.5 42.9 L636.5 43.6 L635.5 44.3 L634.5 44.9 L633.5 45.6 L632.5 46.2 L631.5 46.9 L630.5 47.6 L629.5 48.2 L628.5 48.9 L627.5 49.6 L626.5 50.2 L625.5 50.4 L624.5 51.1 L623.5 51.7 L622.5 52.4 L621.5 53.0 L620.5 53.7 L619.5 54.4 L618.5 55.0 L617.5 55.7 L616.5 56.4 L615.5 57.0 L614.5 57.7 L613.5 58.4 L612.5 59.1 L611.5 59.7 L610.5 60.4 L609.5 61.1 L608.5 61.8 L607.5 62.4 L606.5 63.1 L605.5 63.8 L604.5 64.4 L603.5 65.1 L602.5 65.8 L601.5 66.5 L600.5 67.2 L599.5 67.8 L598.5 68.5 L597.5 69.2 L596.5 69.9 L595.5 70.6 L594.5 71.3 L593.5 71.9 L592.5 72.6 L591.5 73.3 L590.5 74.0 L589.5 74.7 L588.5 75.4 L587.5 76.1 L586.5 76.8 L585.5 77.5 L584.5 78.2 L583.5 78.9 L582.5 79.6 L581.5 80.3 L580.5 81.0 L579.5 81.7 L578.5 82.5 L577.5 83.2 L576.5 83.9 L575.5 84.6 L574.5 85.3 L573.5 86.0 L572.5 86.8 L571.5 87.5 L570.5 88.2 L569.5 89.0 L568.5 89.7 L567.5 90.4 L566.5 91.2 L565.5 91.9 L564.5 92.7 L563.5 93.4 L562.5 94.2 L561.5 94.9 L560.5 95.7 L559.5 96.5 L558.5 97.3 L557.5 98.0 L556.5 98.8 L555.5 99.6 L554.5 100.4 L553.5 101.3 L552.5 102.1 L551.5 102.9 L550.5 103.8 L549.5 104.6 L548.5 105.5 L547.5 106.4 L546.5 107.2 L545.5 108.1 L544.5 109.0 L543.5 109.9 L542.5 110.8 L541.5 111.7 L540.5 112.7 L539.5 113.6 L538.5 114.5 L537.5 115.4 L536.5 116.4 L535.5 117.3 L534.5 118.2 L533.5 119.1 L532.5 120.1 L531.5 121.0 L530.5 121.9 L529.5 122.8 L528.5 123.8 L527.5 124.7 L526.5 125.6 L525.5 126.5 L524.5 127.4 L523.5 128.3 L522.5 129.2 L521.5 130.0 L520.5 130.9 L519.5 131.8 L518.5 132.7 L517.5 133.5 L516.5 134.4 L515.5 135.3 L514.5 136.1 L513.5 137.0 L512.5 137.8 L511.5 138.6 L510.5 139.5 L509.5 140.3 L508.5 141.1 L507.5 142.0 L506.5 142.8 L505.5 143.6 L504.5 144.4 L503.5 145.2 L502.5 146.0 L501.5 146.8 L500.5 147.6 L499.5 148.4 L498.5 149.2 L497.5 150.0 L496.5 150.8 L495.5 151.6 L494.5 152.3 L493.5 153.1 L492.5 153.9 L491.5 154.7 L490.5 155.4 L489.5 156.2 L488.5 157.0 L487.5 157.7 L486.5 158.5 L485.5 159.2 L484.5 160.0 L483.5 160.7 L482.5 161.5 L481.5 162.2 L480.5 162.9 L479.5 163.7 L478.5 164.4 L477.5 165.2 L476.5 165.9 L475.5 166.6 L474.5 167.4 L473.5 168.1 L472.5 168.8 L471.5 169.6 L470.5 170.3 L469.5 171.1 L468.5 171.8 L467.5 172.5 L466.5 173.3 L465.5 174.0 L464.5 174.8 L463.5 175.5 L462.5 176.2 L461.5 177.0 L460.5 177.7 L459.5 178.5 L458.5 179.2 L457.5 180.0 L456.5 180.8 L455.5 181.5 L454.5 182.3 L453.5 183.0 L452.5 183.8 L451.5 184.6 L450.5 185.3 L449.5 186.1 L448.5 186.9 L447.5 187.7 L446.5 188.5 L445.5 189.2 L444.5 190.0 L443.5 190.8 L442.5 191.6 L441.5 192.4 L440.5 193.2 L439.5 194.0 L438.5 194.8 L437.5 195.6 L436.5 196.4 L435.5 197.3 L434.5 198.1 L433.5 198.9 L432.5 199.7 L431.5 200.5 L430.5 201.4 L429.5 202.2 L428.5 203.1 L427.5 203.9 L426.5 204.7 L425.5 205.6 L424.5 206.4 L423.5 207.3 L422.5 208.2 L421.5 209.0 L420.5 209.9 L419.5 210.8 L418.5 211.6 L417.5 212.5 L416.5 213.4 L415.5 214.2 L414.5 215.1 L413.5 216.0 L412.5 216.9 L411.5 217.7 L410.5 218.6 L409.5 219.5 L408.5 220.4 L407.5 221.3 L406.5 222.1 L405.5 223.0 L404.5 223.9 L403.5 224.8 L402.5 225.6 L401.5 226.5 L400.5 227.4 L399.5 228.3 L398.5 229.1 L397.5 230.0 L396.5 230.9 L395.5 231.8 L394.5 232.6 L393.5 233.5 L392.5 234.4 L391.5 235.3 L390.5 236.1 L389.5 237.0 L388.5 237.9 L387.5 238.8 L386.5 239.6 L385.5 240.5 L384.5 241.4 L383.5 242.3 L382.5 243.2 L381.5 244.1 L380.5 244.9 L379.5 245.8 L378.5 246.7 L377.5 247.6 L376.5 248.5 L375.5 249.4 L374.5 250.3 L373.5 251.2 L372.5 252.1 L371.5 253.0 L370.5 253.9 L369.5 254.8 L368.5 255.7 L367.5 256.6 L366.5 257.6 L365.5 258.5 L364.5 259.4 L363.5 260.3 L362.5 261.2 L361.5 262.2 L360.5 263.1 L359.5 264.0 L358.5 264.9 L357.5 265.8 L356.5 266.8 L355.5 267.7 L354.5 268.6 L353.5 269.5 L352.5 270.4 L351.5 271.3 L350.5 272.2 L349.5 273.2 L348.5 274.1 L347.5 275.0 L346.5 275.9 L345.5 276.8 L344.5 277.7 L343.5 278.5 L342.5 279.4 L341.5 280.3 L340.5 281.2 L339.5 282.1 L338.5 283.0 L337.5 283.9 L336.5 284.7 L335.5 285.6 L334.5 286.5 L333.5 287.4 L332.5 288.3 L331.5 289.1 L330.5 290.0 L329.5 290.9 L328.5 291.8 L327.5 292.6 L326.5 293.5 L325.5 294.4 L324.5 295.3 L323.5 296.2 L322.5 297.1 L321.5 297.9 L320.5 298.8 L319.5 299.7 L318.5 300.6 L317.5 301.5 L316.5 302.4 L315.5 303.3 L314.5 304.3 L313.5 305.2 L312.5 306.1 L311.5 307.0 L310.5 308.0 L309.5 308.9 L308.5 309.8 L307.5 310.8 L306.5 311.7 L305.5 312.7 L304.5 313.7 L303.5 314.6 L302.5 315.6 L301.5 316.6 L300.5 317.6 L299.5 318.6 L298.5 319.6 L297.5 320.5 L296.5 321.5 L295.5 322.5 L294.5 323.5 L293.5 324.5 L292.5 325.5 L291.5 326.5 L290.5 327.5 L289.5 328.5 L288.5 329.6 L287.5 330.6 L286.5 331.6 L285.5 332.6 L284.5 333.6 L283.5 334.5 L282.5 335.5 L281.5 336.5 L280.5 337.5 L279.5 338.5 L278.5 339.5 L277.5 340.5 L276.5 341.5 L275.5 342.5 L274.5 343.4 L273.5 344.4 L272.5 345.4 L271.5 346.4 L270.5 347.3 L269.5 348.3 L268.5 349.3 L267.5 350.2 L266.5 351.2 L265.5 352.1 L264.5 353.1 L263.5 354.1 L262.5 355.0 L261.5 356.0 L260.5 356.9 L259.5 357.9 L258.5 358.8 L257.5 359.8 L256.5 360.7 L255.5 361.7 L254.5 362.6 L253.5 363.6 L252.5 364.5 L251.5 365.5 L250.5 366.5 L249.5 367.4 L248.5 368.4 L247.5 369.3 L246.5 370.3 L245.5 371.2 L244.5 372.2 L243.5 373.1 L242.5 374.1 L241.5 375.0 L240.5 376.0 L239.5 376.9 L238.5 377.9 L237.5 378.9 L236.5 379.8 L235.5 380.8 L234.5 381.7 L233.5 382.7 L232.5 383.7 L231.5 384.6 L230.5 385.6 L229.5 386.5 L228.5 387.5 L227.5 388.5 L226.5 389.4 L225.5 390.4 L224.5 391.3 L223.5 392.3 L222.5 393.2 L221.5 394.2 L220.5 395.1 L219.5 396.1 L218.5 397.0 L217.5 398.0 L216.5 398.9 L215.5 399.9 L214.5 400.8 L213.5 401.8 L212.5 402.7 L211.5 403.7 L210.5 404.6 L209.5 405.6 L208.5 406.5 L207.5 407.5 L206.5 408.5 L205.5 409.4 L204.5 410.4 L203.5 411.4 L202.5 412.3 L201.5 413.3 L200.5 414.3 L199.5 415.3 L198.5 416.3 L197.5 417.2 L196.5 418.2 L195.5 419.2 L194.5 420.2 L193.5 421.2 L192.5 422.2 L191.5 423.2 L190.5 424.2 L189.5 425.2 L188.5 426.2 L187.5 427.3 L186.5 428.3 L185.5 429.3 L184.5 430.3 L183.5 431.4 L182.5 432.4 L181.5 433.5 L180.5 434.5 L179.5 435.6 L178.5 436.6 L177.5 437.7 L176.5 438.8 L175.5 439.9 L174.5 441.0 L173.5 442.1 L172.5 443.2 L171.5 444.3 L170.5 445.5 L169.5 446.6 L168.5 447.8 L167.5 448.9 L166.5 450.1 L165.5 451.3 L164.5 452.5 L163.5 453.7 L162.5 454.9 L161.5 456.1 L160.5 457.4 L159.5 458.6 L158.5 459.8 L157.5 461.1 L156.5 462.3 L155.5 463.5 L154.5 464.8 L153.5 466.0 L152.5 467.3 L151.5 468.5 L150.5 469.8 L149.5 471.0 L148.5 472.3 L147.5 473.5 L146.5 474.7 L145.5 476.0 L144.5 477.2 L143.5 478.5 L142.5 479.7 L141.5 481.0 L140.5 482.2 L139.5 483.5 L138.5 484.7 L137.5 486.0 L136.5 487.2 L135.5 488.5 L134.5 489.7 L133.5 491.0 L132.5 492.2 L131.5 493.4 L130.5 494.7 L129.5 494.9 L128.5 496.2 L127.5 497.4 L126.5 498.6 L125.5 499.8 L124.5 500.9 L123.5 502.1 L122.5 503.2 L121.5 504.3 L120.5 505.4 L119.5 506.5 L118.5 507.5 L117.5 508.6 L116.5 509.6 L115.5 510.6 L114.5 511.6 L113.5 512.6 L112.5 513.6 L111.5 514.5 L110.5 515.5 L109.5 516.5 L108.5 517.4 L107.5 518.4 L106.5 519.3 L105.5 520.3 L104.5 521.2 L103.5 522.2 L102.5 523.3 L101.5 524.3 L100.5 525.4 L99.5 526.6Z" fill="#F781BF" fill-opacity="0.25"/>
<path d="M99.5 526.6 L100.5 524.4 L101.5 522.6 L102.5 520.8 L103.5 519.2 L104.5 517.6 L105.5 516.1 L106.5 514.6 L107.5 513.2 L108.5 511.7 L109.5 510.3 L110.5 508.9 L111.5 507.4 L112.5 506.0 L113.5 504.6 L114.5 503.2 L115.5 501.8 L116.5 500.4 L117.5 499.0 L118.5 497.6 L119.5 496.2 L120.5 494.9 L121.5 493.5 L122.5 492.2 L123.5 490.9 L124.5 489.6 L125.5 488.3 L126.5 487.0 L127.5 485.8 L128.5 484.5 L129.5 483.3 L130.5 480.6 L131.5 479.4 L132.5 478.1 L133.5 476.8 L134.5 475.6 L135.5 474.3 L136.5 473.1 L137.5 471.8 L138.5 470.6 L139.5 469.4 L140.5 468.2 L141.5 467.0 L142.5 465.8 L143.5 464.6 L144.5 463.5 L145.5 462.3 L146.5 461.1 L147.5 460.0 L148.5 458.9 L149.5 457.7 L150.5 456.6 L151.5 455.5 L152.5 454.4 L153.5 453.3 L154.5 452.2 L155.5 451.1 L156.5 450.0 L157.5 449.0 L158.5 447.9 L159.5 446.9 L160.5 445.8 L161.5 444.8 L162.5 443.7 L163.5 442.7 L164.5 441.7 L165.5 440.7 L166.5 439.6 L167.5 438.6 L168.5 437.6 L169.5 436.6 L170.5 435.6 L171.5 434.6 L172.5 433.7 L173.5 432.7 L174.5 431.7 L175.5 430.7 L176.5 429.7 L177.5 428.7 L178.5 427.8 L179.5 426.8 L180.5 425.8 L181.5 424.8 L182.5 423.9 L183.5 422.9 L184.5 421.9 L185.5 420.9 L186.5 420.0 L187.5 419.0 L188.5 418.0 L189.5 417.0 L190.5 416.1 L191.5 415.1 L192.5 414.1 L193.5 413.1 L194.5 412.2 L195.5 411.2 L196.5 410.2 L197.5 409.3 L198.5 408.3 L199.5 407.3 L200.5 406.4 L201.5 405.4 L202.5 404.5 L203.5 403.5 L204.5 402.5 L205.5 401.6 L206.5 400.6 L207.5 399.7 L208.5 398.7 L209.5 397.8 L210.5 396.8 L211.5 395.9 L212.5 394.9 L213.5 394.0 L214.5 393.0 L215.5 392.1 L216.5 391.1 L217.5 390.2 L218.5 389.2 L219.5 388.3 L220.5 387.3 L221.5 386.4 L222.5 385.4 L223.5 384.5 L224.5 383.5 L225.5 382.6 L226.5 381.6 L227.5 380.7 L228.5 379.7 L229.5 378.8 L230.5 377.8 L231.5 376.9 L232.5 375.9 L233.5 375.0 L234.5 374.0 L235.5 373.1 L236.5 372.1 L237.5 371.2 L238.5 370.2 L239.5 369.3 L240.5 368.4 L241.5 367.4 L242.5 366.5 L243.5 365.5 L244.5 364.6 L245.5 363.6 L246.5 362.7 L247.5 361.8 L248.5 360.8 L249.5 359.9 L250.5 358.9 L251.5 358.0 L252.5 357.1 L253.5 356.1 L254.5 355.2 L255.5 354.2 L256.5 353.3 L257.5 352.4 L258.5 351.4 L259.5 350.5 L260.5 349.5 L261.5 348.6 L262.5 347.6 L263.5 346.7 L264.5 345.8 L265.5 344.8 L266.5 343.9 L267.5 342.9 L268.5 342.0 L269.5 341.0 L270.5 340.1 L271.5 339.2 L272.5 338.2 L273.5 337.3 L274.5 336.3 L275.5 335.4 L276.5 334.4 L277.5 333.5 L278.5 332.5 L279.5 331.6 L280.5 330.7 L281.5 329.7 L282.5 328.8 L283.5 327.8 L284.5 326.9 L285.5 326.0 L286.5 325.0 L287.5 324.1 L288.5 323.2 L289.5 322.2 L290.5 321.3 L291.5 320.4 L292.5 319.5 L293.5 318.6 L294.5 317.7 L295.5 316.8 L296.5 315.9 L297.5 315.0 L298.5 314.1 L299.5 313.2 L300.5 312.4 L301.5 311.5 L302.5 310.6 L303.5 309.8 L304.5 308.9 L305.5 308.1 L306.5 307.2 L307.5 306.4 L308.5 305.6 L309.5 304.8 L310.5 304.0 L311.5 303.2 L312.5 302.4 L313.5 301.6 L314.5 300.8 L315.5 300.1 L316.5 299.3 L317.5 298.5 L318.5 297.8 L319.5 297.0 L320.5 296.3 L321.5 295.5 L322.5 294.8 L323.5 294.1 L324.5 293.3 L325.5 292.6 L326.5 291.9 L327.5 291.2 L328.5 290.5 L329.5 289.8 L330.5 289.0 L331.5 288.3 L332.5 287.6 L333.5 286.9 L334.5 286.2 L335.5 285.5 L336.5 284.8 L337.5 284.0 L338.5 283.3 L339.5 282.6 L340.5 281.9 L341.5 281.1 L342.5 280.4 L343.5 279.7 L344.5 278.9 L345.5 278.2 L346.5 277.4 L347.5 276.6 L348.5 275.9 L349.5 275.1 L350.5 274.3 L351.5 273.5 L352.5 272.7 L353.5 271.9 L354.5 271.1 L355.5 270.3 L356.5 269.5 L357.5 268.7 L358.5 267.9 L359.5 267.0 L360.5 266.2 L361.5 265.4 L362.5 264.5 L363.5 263.7 L364.5 262.8 L365.5 262.0 L366.5 261.2 L367.5 260.3 L368.5 259.5 L369.5 258.6 L370.5 257.8 L371.5 257.0 L372.5 256.1 L373.5 255.3 L374.5 254.5 L375.5 253.6 L376.5 252.8 L377.5 252.0 L378.5 251.2 L379.5 250.4 L380.5 249.5 L381.5 248.7 L382.5 247.9 L383.5 247.1 L384.5 246.3 L385.5 245.5 L386.5 244.7 L387.5 243.9 L388.5 243.1 L389.5 242.3 L390.5 241.5 L391.5 240.7 L392.5 239.9 L393.5 239.1 L394.5 238.3 L395.5 237.5 L396.5 236.7 L397.5 235.9 L398.5 235.1 L399.5 234.3 L400.5 233.5 L401.5 232.7 L402.5 231.9 L403.5 231.2 L404.5 230.4 L405.5 229.6 L406.5 228.8 L407.5 228.0 L408.5 227.2 L409.5 226.4 L410.5 225.6 L411.5 224.8 L412.5 224.0 L413.5 223.2 L414.5 222.4 L415.5 221.6 L416.5 220.8 L417.5 220.0 L418.5 219.2 L419.5 218.4 L420.5 217.6 L421.5 216.8 L422.5 216.0 L423.5 215.2 L424.5 214.4 L425.5 213.6 L426.5 212.8 L427.5 212.0 L428.5 211.2 L429.5 210.4 L430.5 209.6 L431.5 208.8 L432.5 208.0 L433.5 207.2 L434.5 206.4 L435.5 205.6 L436.5 204.8 L437.5 204.0 L438.5 203.2 L439.5 202.5 L440.5 201.7 L441.5 200.9 L442.5 200.1 L443.5 199.4 L444.5 198.6 L445.5 197.8 L446.5 197.0 L447.5 196.3 L448.5 195.5 L449.5 194.8 L450.5 194.0 L451.5 193.2 L452.5 192.5 L453.5 191.7 L454.5 191.0 L455.5 190.2 L456.5 189.5 L457.5 188.7 L458.5 188.0 L459.5 187.2 L460.5 186.5 L461.5 185.7 L462.5 185.0 L463.5 184.2 L464.5 183.5 L465.5 182.7 L466.5 182.0 L467.5 181.3 L468.5 180.5 L469.5 179.8 L470.5 179.0 L471.5 178.3 L472.5 177.5 L473.5 176.7 L474.5 176.0 L475.5 175.2 L476.5 174.5 L477.5 173.7 L478.5 172.9 L479.5 172.1 L480.5 171.4 L481.5 170.6 L482.5 169.8 L483.5 169.0 L484.5 168.2 L485.5 167.4 L486.5 166.6 L487.5 165.8 L488.5 165.0 L489.5 164.2 L490.5 163.4 L491.5 162.6 L492.5 161.7 L493.5 160.9 L494.5 160.1 L495.5 159.3 L496.5 158.4 L497.5 157.6 L498.5 156.8 L499.5 155.9 L500.5 155.1 L501.5 154.2 L502.5 153.4 L503.5 152.5 L504.5 151.7 L505.5 150.9 L506.5 150.0 L507.5 149.2 L508.5 148.3 L509.5 147.5 L510.5 146.6 L511.5 145.8 L512.5 144.9 L513.5 144.1 L514.5 143.2 L515.5 142.4 L516.5 141.6 L517.5 140.7 L518.5 139.9 L519.5 139.0 L520.5 138.2 L521.5 137.4 L522.5 136.5 L523.5 135.7 L524.5 134.9 L525.5 134.0 L526.5 133.2 L527.5 132.4 L528.5 131.6 L529.5 130.7 L530.5 129.9 L531.5 129.1 L532.5 128.3 L533.5 127.5 L534.5 126.7 L535.5 125.9 L536.5 125.1 L537.5 124.3 L538.5 123.5 L539.5 122.7 L540.5 121.9 L541.5 121.1 L542.5 120.3 L543.5 119.5 L544.5 118.7 L545.5 118.0 L546.5 117.2 L547.5 116.4 L548.5 115.7 L549.5 114.9 L550.5 114.2 L551.5 113.4 L552.5 112.7 L553.5 111.9 L554.5 111.2 L555.5 110.4 L556.5 109.7 L557.5 109.0 L558.5 108.3 L559.5 107.5 L560.5 106.8 L561.5 106.1 L562.5 105.4 L563.5 104.6 L564.5 103.9 L565.5 103.2 L566.5 102.5 L567.5 101.8 L568.5 101.0 L569.5 100.3 L570.5 99.6 L571.5 98.8 L572.5 98.1 L573.5 97.4 L574.5 96.6 L575.5 95.9 L576.5 95.1 L577.5 94.4 L578.5 93.6 L579.5 92.9 L580.5 92.1 L581.5 91.4 L582.5 90.6 L583.5 89.8 L584.5 89.1 L585.5 88.3 L586.5 87.5 L587.5 86.8 L588.5 86.0 L589.5 85.2 L590.5 84.4 L591.5 83.7 L592.5 82.9 L593.5 82.1 L594.5 81.3 L595.5 80.6 L596.5 79.8 L597.5 79.0 L598.5 78.2 L599.5 77.4 L600.5 76.6 L601.5 75.8 L602.5 75.1 L603.5 74.3 L604.5 73.5 L605.5 72.7 L606.5 71.9 L607.5 71.1 L608.5 70.3 L609.5 69.5 L610.5 68.8 L611.5 68.0 L612.5 67.2 L613.5 66.4 L614.5 65.7 L615.5 64.9 L616.5 64.1 L617.5 63.3 L618.5 62.6 L619.5 61.8 L620.5 61.0 L621.5 60.2 L622.5 59.4 L623.5 58.6 L624.5 57.8 L625.5 57.0 L626.5 55.0 L627.5 54.2 L628.5 53.4 L629.5 52.6 L630.5 51.8 L631.5 50.9 L632.5 50.1 L633.5 49.3 L634.5 48.5 L635.5 47.6 L636.5 46.8 L637.5 45.9 L638.5 45.1 L639.5 44.2 L640.5 43.3 L641.5 42.3 L642.5 41.4 L643.5 40.5 L644.5 39.6 L645.5 38.6 L646.5 37.7 L647.5 36.9 L648.5 36.1 L649.5 35.3 L650.5 34.5 L651.5 33.7 L652.5 33.0 L653.5 32.3 L654.5 31.5 L655.5 30.9 L655.6 30.8 L655.6 30.8 L655.5 30.9 L654.5 31.9 L653.5 32.9 L652.5 33.8 L651.5 34.8 L650.5 35.7 L649.5 36.6 L648.5 37.6 L647.5 38.6 L646.5 39.6 L645.5 40.7 L644.5 41.8 L643.5 42.9 L642.5 44.0 L641.5 45.0 L640.5 46.1 L639.5 47.2 L638.5 48.2 L637.5 49.2 L636.5 50.2 L635.5 51.1 L634.5 52.1 L633.5 53.0 L632.5 54.0 L631.5 54.9 L630.5 55.8 L629.5 56.8 L628.5 57.7 L627.5 58.6 L626.5 59.5 L625.5 61.8 L624.5 62.7 L623.5 63.6 L622.5 64.5 L621.5 65.4 L620.5 66.3 L619.5 67.1 L618.5 68.0 L617.5 68.9 L616.5 69.7 L615.5 70.6 L614.5 71.4 L613.5 72.3 L612.5 73.2 L611.5 74.0 L610.5 74.9 L609.5 75.8 L608.5 76.6 L607.5 77.5 L606.5 78.4 L605.5 79.2 L604.5 80.1 L603.5 81.0 L602.5 81.9 L601.5 82.7 L600.5 83.6 L599.5 84.4 L598.5 85.3 L597.5 86.2 L596.5 87.0 L595.5 87.9 L594.5 88.7 L593.5 89.6 L592.5 90.4 L591.5 91.3 L590.5 92.1 L589.5 93.0 L588.5 93.8 L587.5 94.7 L586.5 95.5 L585.5 96.3 L584.5 97.2 L583.5 98.0 L582.5 98.8 L581.5 99.7 L580.5 100.5 L579.5 101.3 L578.5 102.1 L577.5 102.9 L576.5 103.7 L575.5 104.5 L574.5 105.3 L573.5 106.1 L572.5 106.9 L571.5 107.7 L570.5 108.5 L569.5 109.3 L568.5 110.1 L567.5 110.9 L566.5 111.7 L565.5 112.5 L564.5 113.2 L563.5 114.0 L562.5 114.8 L561.5 115.6 L560.5 116.3 L559.5 117.1 L558.5 117.9 L557.5 118.7 L556.5 119.4 L555.5 120.2 L554.5 121.0 L553.5 121.8 L552.5 122.6 L551.5 123.4 L550.5 124.2 L549.5 125.0 L548.5 125.8 L547.5 126.6 L546.5 127.4 L545.5 128.3 L544.5 129.1 L543.5 129.9 L542.5 130.7 L541.5 131.6 L540.5 132.4 L539.5 133.3 L538.5 134.1 L537.5 135.0 L536.5 135.8 L535.5 136.7 L534.5 137.5 L533.5 138.4 L532.5 139.2 L531.5 140.1 L530.5 141.0 L529.5 141.9 L528.5 142.7 L527.5 143.6 L526.5 144.5 L525.5 145.3 L524.5 146.2 L523.5 147.1 L522.5 148.0 L521.5 148.9 L520.5 149.7 L519.5 150.6 L518.5 151.5 L517.5 152.4 L516.5 153.3 L515.5 154.2 L514.5 155.1 L513.5 155.9 L512.5 156.8 L511.5 157.7 L510.5 158.6 L509.5 159.5 L508.5 160.4 L507.5 161.3 L506.5 162.2 L505.5 163.1 L504.5 163.9 L503.5 164.8 L502.5 165.7 L501.5 166.6 L500.5 167.5 L499.5 168.4 L498.5 169.2 L497.5 170.1 L496.5 171.0 L495.5 171.9 L494.5 172.7 L493.5 173.6 L492.5 174.4 L491.5 175.3 L490.5 176.2 L489.5 177.0 L488.5 177.9 L487.5 178.7 L486.5 179.5 L485.5 180.4 L484.5 181.2 L483.5 182.0 L482.5 182.8 L481.5 183.7 L480.5 184.5 L479.5 185.3 L478.5 186.1 L477.5 186.9 L476.5 187.7 L475.5 188.5 L474.5 189.3 L473.5 190.0 L472.5 190.8 L471.5 191.6 L470.5 192.4 L469.5 193.2 L468.5 193.9 L467.5 194.7 L466.5 195.5 L465.5 196.3 L464.5 197.0 L463.5 197.8 L462.5 198.6 L461.5 199.3 L460.5 200.1 L459.5 200.9 L458.5 201.7 L457.5 202.4 L456.5 203.2 L455.5 204.0 L454.5 204.8 L453.5 205.5 L452.5 206.3 L451.5 207.1 L450.5 207.9 L449.5 208.7 L448.5 209.4 L447.5 210.2 L446.5 211.0 L445.5 211.8 L444.5 212.6 L443.5 213.4 L442.5 214.2 L441.5 215.0 L440.5 215.8 L439.5 216.6 L438.5 217.4 L437.5 218.2 L436.5 219.0 L435.5 219.8 L434.5 220.6 L433.5 221.4 L432.5 222.2 L431.5 223.0 L430.5 223.8 L429.5 224.7 L428.5 225.5 L427.5 226.3 L426.5 227.1 L425.5 227.9 L424.5 228.8 L423.5 229.6 L422.5 230.4 L421.5 231.2 L420.5 232.0 L419.5 232.9 L418.5 233.7 L417.5 234.5 L416.5 235.3 L415.5 236.1 L414.5 236.9 L413.5 237.8 L412.5 238.6 L411.5 239.4 L410.5 240.2 L409.5 241.0 L408.5 241.8 L407.5 242.6 L406.5 243.4 L405.5 244.2 L404.5 245.1 L403.5 245.9 L402.5 246.7 L401.5 247.5 L400.5 248.3 L399.5 249.1 L398.5 249.9 L397.5 250.7 L396.5 251.5 L395.5 252.3 L394.5 253.1 L393.5 253.9 L392.5 254.7 L391.5 255.5 L390.5 256.3 L389.5 257.1 L388.5 257.9 L387.5 258.7 L386.5 259.5 L385.5 260.4 L384.5 261.2 L383.5 262.0 L382.5 262.8 L381.5 263.6 L380.5 264.4 L379.5 265.3 L378.5 266.1 L377.5 266.9 L376.5 267.8 L375.5 268.6 L374.5 269.4 L373.5 270.3 L372.5 271.1 L371.5 271.9 L370.5 272.8 L369.5 273.6 L368.5 274.4 L367.5 275.3 L366.5 276.1 L365.5 277.0 L364.5 277.8 L363.5 278.7 L362.5 279.5 L361.5 280.3 L360.5 281.2 L359.5 282.0 L358.5 282.8 L357.5 283.7 L356.5 284.5 L355.5 285.3 L354.5 286.1 L353.5 286.9 L352.5 287.7 L351.5 288.5 L350.5 289.3 L349.5 290.1 L348.5 290.9 L347.5 291.6 L346.5 292.4 L345.5 293.2 L344.5 293.9 L343.5 294.6 L342.5 295.4 L341.5 296.1 L340.5 296.8 L339.5 297.6 L338.5 298.3 L337.5 299.0 L336.5 299.7 L335.5 300.4 L334.5 301.1 L333.5 301.9 L332.5 302.6 L331.5 303.3 L330.5 304.0 L329.5 304.7 L328.5 305.4 L327.5 306.1 L326.5 306.8 L325.5 307.5 L324.5 308.3 L323.5 309.0 L322.5 309.7 L321.5 310.4 L320.5 311.2 L319.5 311.9 L318.5 312.6 L317.5 313.4 L316.5 314.1 L315.5 314.9 L314.5 315.7 L313.5 316.4 L312.5 317.2 L311.5 318.0 L310.5 318.8 L309.5 319.6 L308.5 320.4 L307.5 321.2 L306.5 322.0 L305.5 322.8 L304.5 323.7 L303.5 324.5 L302.5 325.3 L301.5 326.2 L300.5 327.0 L299.5 327.9 L298.5 328.8 L297.5 329.6 L296.5 330.5 L295.5 331.4 L294.5 332.3 L293.5 333.2 L292.5 334.1 L291.5 335.0 L290.5 335.9 L289.5 336.8 L288.5 337.7 L287.5 338.6 L286.5 339.5 L285.5 340.4 L284.5 341.3 L283.5 342.3 L282.5 343.2 L281.5 344.1 L280.5 345.0 L279.5 345.9 L278.5 346.9 L277.5 347.8 L276.5 348.7 L275.5 349.6 L274.5 350.5 L273.5 351.5 L272.5 352.4 L271.5 353.3 L270.5 354.2 L269.5 355.2 L268.5 356.1 L267.5 357.0 L266.5 357.9 L265.5 358.8 L264.5 359.7 L263.5 360.7 L262.5 361.6 L261.5 362.5 L260.5 363.4 L259.5 364.3 L258.5 365.2 L257.5 366.1 L256.5 367.1 L255.5 368.0 L254.5 368.9 L253.5 369.8 L252.5 370.7 L251.5 371.6 L250.5 372.5 L249.5 373.4 L248.5 374.3 L247.5 375.3 L246.5 376.2 L245.5 377.1 L244.5 378.0 L243.5 378.9 L242.5 379.8 L241.5 380.7 L240.5 381.6 L239.5 382.5 L238.5 383.4 L237.5 384.4 L236.5 385.3 L235.5 386.2 L234.5 387.1 L233.5 388.0 L232.5 388.9 L231.5 389.8 L230.5 390.7 L229.5 391.6 L228.5 392.6 L227.5 393.5 L226.5 394.4 L225.5 395.3 L224.5 396.2 L223.5 397.1 L222.5 398.0 L221.5 398.9 L220.5 399.8 L219.5 400.7 L218.5 401.6 L217.5 402.6 L216.5 403.5 L215.5 404.4 L214.5 405.3 L213.5 406.2 L212.5 407.1 L211.5 408.0 L210.5 408.9 L209.5 409.8 L208.5 410.7 L207.5 411.6 L206.5 412.5 L205.5 413.4 L204.5 414.3 L203.5 415.3 L202.5 416.2 L201.5 417.1 L200.5 418.0 L199.5 418.9 L198.5 419.8 L197.5 420.7 L196.5 421.6 L195.5 422.6 L194.5 423.5 L193.5 424.4 L192.5 425.3 L191.5 426.2 L190.5 427.1 L189.5 428.1 L188.5 429.0 L187.5 429.9 L186.5 430.8 L185.5 431.7 L184.5 432.6 L183.5 433.6 L182.5 434.5 L181.5 435.4 L180.5 436.3 L179.5 437.2 L178.5 438.2 L177.5 439.1 L176.5 440.0 L175.5 440.9 L174.5 441.8 L173.5 442.8 L172.5 443.7 L171.5 444.6 L170.5 445.5 L169.5 446.5 L168.5 447.4 L167.5 448.3 L166.5 449.3 L165.5 450.2 L164.5 451.2 L163.5 452.1 L162.5 453.1 L161.5 454.0 L160.5 455.0 L159.5 456.0 L158.5 456.9 L157.5 457.9 L156.5 458.9 L155.5 459.9 L154.5 460.9 L153.5 461.9 L152.5 462.9 L151.5 464.0 L150.5 465.0 L149.5 466.0 L148.5 467.1 L147.5 468.1 L146.5 469.2 L145.5 470.2 L144.5 471.3 L143.5 472.4 L142.5 473.4 L141.5 474.5 L140.5 475.6 L139.5 476.7 L138.5 477.8 L137.5 479.0 L136.5 480.1 L135.5 481.2 L134.5 482.4 L133.5 483.5 L132.5 484.6 L131.5 485.8 L130.5 487.0 L129.5 489.3 L128.5 490.4 L127.5 491.6 L126.5 492.7 L125.5 493.8 L124.5 495.0 L123.5 496.2 L122.5 497.3 L121.5 498.5 L120.5 499.7 L119.5 500.9 L118.5 502.1 L117.5 503.4 L116.5 504.6 L115.5 505.8 L114.5 507.1 L113.5 508.3 L112.5 509.5 L111.5 510.8 L110.5 512.0 L109.5 513.3 L108.5 514.5 L107.5 515.8 L106.5 517.0 L105.5 518.3 L104.5 519.5 L103.5 520.8 L102.5 522.2 L101.5 523.6 L100.5 525.1 L99.5 526.6Z" fill="#8A332D" fill-opacity="0.25"/>
<path d="M99.5 526.6 L100.5 523.9 L101.5 521.7 L102.5 519.6 L103.5 517.7 L104.5 516.0 L105.5 514.4 L106.5 512.8 L107.5 511.2 L108.5 509.7 L109.5 508.1 L110.5 506.5 L111.5 505.0 L112.5 503.4 L113.5 501.8 L114.5 500.3 L115.5 498.8 L116.5 497.2 L117.5 495.7 L118.5 494.2 L119.5 492.7 L120.5 491.3 L121.5 489.8 L122.5 488.4 L123.5 487.0 L124.5 485.5 L125.5 484.1 L126.5 482.8 L127.5 481.4 L128.5 480.0 L129.5 478.7 L130.5 475.6 L131.5 474.3 L132.5 472.9 L133.5 471.6 L134.5 470.2 L135.5 468.9 L136.5 467.6 L137.5 466.3 L138.5 465.0 L139.5 463.6 L140.5 462.3 L141.5 461.0 L142.5 459.7 L143.5 458.5 L144.5 457.2 L145.5 455.9 L146.5 454.6 L147.5 453.4 L148.5 452.1 L149.5 450.9 L150.5 449.6 L151.5 448.4 L152.5 447.2 L153.5 445.9 L154.5 444.7 L155.5 443.5 L156.5 442.3 L157.5 441.1 L158.5 439.9 L159.5 438.7 L160.5 437.6 L161.5 436.4 L162.5 435.2 L163.5 434.0 L164.5 432.9 L165.5 431.7 L166.5 430.5 L167.5 429.4 L168.5 428.2 L169.5 427.1 L170.5 425.9 L171.5 424.8 L172.5 423.6 L173.5 422.5 L174.5 421.4 L175.5 420.2 L176.5 419.1 L177.5 417.9 L178.5 416.8 L179.5 415.6 L180.5 414.5 L181.5 413.3 L182.5 412.2 L183.5 411.0 L184.5 409.8 L185.5 408.7 L186.5 407.5 L187.5 406.4 L188.5 405.2 L189.5 404.0 L190.5 402.9 L191.5 401.7 L192.5 400.5 L193.5 399.4 L194.5 398.2 L195.5 397.0 L196.5 395.8 L197.5 394.7 L198.5 393.5 L199.5 392.3 L200.5 391.1 L201.5 389.9 L202.5 388.7 L203.5 387.5 L204.5 386.3 L205.5 385.1 L206.5 383.9 L207.5 382.7 L208.5 381.5 L209.5 380.3 L210.5 379.1 L211.5 377.9 L212.5 376.7 L213.5 375.4 L214.5 374.2 L215.5 373.0 L216.5 371.7 L217.5 370.5 L218.5 369.3 L219.5 368.0 L220.5 366.8 L221.5 365.6 L222.5 364.3 L223.5 363.1 L224.5 361.8 L225.5 360.6 L226.5 359.4 L227.5 358.2 L228.5 356.9 L229.5 355.7 L230.5 354.5 L231.5 353.3 L232.5 352.1 L233.5 350.9 L234.5 349.8 L235.5 348.6 L236.5 347.4 L237.5 346.3 L238.5 345.1 L239.5 344.0 L240.5 342.8 L241.5 341.7 L242.5 340.6 L243.5 339.5 L244.5 338.4 L245.5 337.3 L246.5 336.2 L247.5 335.1 L248.5 334.0 L249.5 332.9 L250.5 331.9 L251.5 330.8 L252.5 329.8 L253.5 328.7 L254.5 327.7 L255.5 326.7 L256.5 325.6 L257.5 324.6 L258.5 323.6 L259.5 322.6 L260.5 321.6 L261.5 320.6 L262.5 319.6 L263.5 318.6 L264.5 317.7 L265.5 316.7 L266.5 315.7 L267.5 314.7 L268.5 313.8 L269.5 312.8 L270.5 311.9 L271.5 310.9 L272.5 310.0 L273.5 309.1 L274.5 308.1 L275.5 307.2 L276.5 306.3 L277.5 305.3 L278.5 304.4 L279.5 303.5 L280.5 302.6 L281.5 301.7 L282.5 300.8 L283.5 299.9 L284.5 299.0 L285.5 298.1 L286.5 297.2 L287.5 296.3 L288.5 295.4 L289.5 294.5 L290.5 293.7 L291.5 292.8 L292.5 291.9 L293.5 291.0 L294.5 290.2 L295.5 289.3 L296.5 288.4 L297.5 287.6 L298.5 286.7 L299.5 285.9 L300.5 285.0 L301.5 284.2 L302.5 283.3 L303.5 282.5 L304.5 281.6 L305.5 280.8 L306.5 279.9 L307.5 279.1 L308.5 278.2 L309.5 277.4 L310.5 276.6 L311.5 275.7 L312.5 274.9 L313.5 274.0 L314.5 273.2 L315.5 272.4 L316.5 271.5 L317.5 270.7 L318.5 269.9 L319.5 269.0 L320.5 268.2 L321.5 267.3 L322.5 266.5 L323.5 265.6 L324.5 264.8 L325.5 263.9 L326.5 263.1 L327.5 262.2 L328.5 261.4 L329.5 260.5 L330.5 259.7 L331.5 258.8 L332.5 257.9 L333.5 257.1 L334.5 256.2 L335.5 255.3 L336.5 254.4 L337.5 253.6 L338.5 252.7 L339.5 251.8 L340.5 250.9 L341.5 250.0 L342.5 249.1 L343.5 248.2 L344.5 247.3 L345.5 246.4 L346.5 245.5 L347.5 244.6 L348.5 243.7 L349.5 242.7 L350.5 241.8 L351.5 240.9 L352.5 239.9 L353.5 239.0 L354.5 238.1 L355.5 237.1 L356.5 236.2 L357.5 235.2 L358.5 234.3 L359.5 233.3 L360.5 232.4 L361.5 231.4 L362.5 230.5 L363.5 229.5 L364.5 228.5 L365.5 227.6 L366.5 226.6 L367.5 225.7 L368.5 224.7 L369.5 223.8 L370.5 222.8 L371.5 221.9 L372.5 220.9 L373.5 220.0 L374.5 219.1 L375.5 218.1 L376.5 217.2 L377.5 216.3 L378.5 215.4 L379.5 214.4 L380.5 213.5 L381.5 212.6 L382.5 211.7 L383.5 210.8 L384.5 209.9 L385.5 209.0 L386.5 208.1 L387.5 207.2 L388.5 206.3 L389.5 205.4 L390.5 204.6 L391.5 203.7 L392.5 202.8 L393.5 202.0 L394.5 201.1 L395.5 200.3 L396.5 199.4 L397.5 198.6 L398.5 197.7 L399.5 196.9 L400.5 196.1 L401.5 195.3 L402.5 194.4 L403.5 193.6 L404.5 192.8 L405.5 192.0 L406.5 191.3 L407.5 190.5 L408.5 189.7 L409.5 188.9 L410.5 188.1 L411.5 187.4 L412.5 186.6 L413.5 185.9 L414.5 185.1 L415.5 184.4 L416.5 183.7 L417.5 182.9 L418.5 182.2 L419.5 181.5 L420.5 180.8 L421.5 180.1 L422.5 179.3 L423.5 178.6 L424.5 177.9 L425.5 177.2 L426.5 176.6 L427.5 175.9 L428.5 175.2 L429.5 174.5 L430.5 173.8 L431.5 173.1 L432.5 172.4 L433.5 171.8 L434.5 171.1 L435.5 170.4 L436.5 169.8 L437.5 169.1 L438.5 168.4 L439.5 167.8 L440.5 167.1 L441.5 166.4 L442.5 165.8 L443.5 165.1 L444.5 164.4 L445.5 163.8 L446.5 163.1 L447.5 162.5 L448.5 161.8 L449.5 161.1 L450.5 160.5 L451.5 159.8 L452.5 159.2 L453.5 158.5 L454.5 157.9 L455.5 157.2 L456.5 156.6 L457.5 155.9 L458.5 155.3 L459.5 154.6 L460.5 154.0 L461.5 153.3 L462.5 152.7 L463.5 152.0 L464.5 151.4 L465.5 150.7 L466.5 150.1 L467.5 149.4 L468.5 148.8 L469.5 148.1 L470.5 147.5 L471.5 146.8 L472.5 146.2 L473.5 145.5 L474.5 144.9 L475.5 144.2 L476.5 143.6 L477.5 143.0 L478.5 142.3 L479.5 141.7 L480.5 141.0 L481.5 140.4 L482.5 139.7 L483.5 139.1 L484.5 138.4 L485.5 137.8 L486.5 137.1 L487.5 136.5 L488.5 135.8 L489.5 135.1 L490.5 134.5 L491.5 133.8 L492.5 133.2 L493.5 132.5 L494.5 131.9 L495.5 131.2 L496.5 130.5 L497.5 129.9 L498.5 129.2 L499.5 128.5 L500.5 127.9 L501.5 127.2 L502.5 126.5 L503.5 125.9 L504.5 125.2 L505.5 124.5 L506.5 123.9 L507.5 123.2 L508.5 122.5 L509.5 121.9 L510.5 121.2 L511.5 120.5 L512.5 119.9 L513.5 119.2 L514.5 118.5 L515.5 117.8 L516.5 117.2 L517.5 116.5 L518.5 115.8 L519.5 115.2 L520.5 114.5 L521.5 113.8 L522.5 113.2 L523.5 112.5 L524.5 111.8 L525.5 111.2 L526.5 110.5 L527.5 109.8 L528.5 109.2 L529.5 108.5 L530.5 107.8 L531.5 107.2 L532.5 106.5 L533.5 105.9 L534.5 105.2 L535.5 104.6 L536.5 103.9 L537.5 103.3 L538.5 102.6 L539.5 102.0 L540.5 101.3 L541.5 100.7 L542.5 100.1 L543.5 99.4 L544.5 98.8 L545.5 98.2 L546.5 97.5 L547.5 96.9 L548.5 96.3 L549.5 95.7 L550.5 95.1 L551.5 94.4 L552.5 93.8 L553.5 93.2 L554.5 92.6 L555.5 92.0 L556.5 91.4 L557.5 90.8 L558.5 90.2 L559.5 89.6 L560.5 89.0 L561.5 88.3 L562.5 87.7 L563.5 87.1 L564.5 86.5 L565.5 85.9 L566.5 85.3 L567.5 84.7 L568.5 84.1 L569.5 83.5 L570.5 82.9 L571.5 82.3 L572.5 81.7 L573.5 81.0 L574.5 80.4 L575.5 79.8 L576.5 79.2 L577.5 78.6 L578.5 78.0 L579.5 77.3 L580.5 76.7 L581.5 76.1 L582.5 75.5 L583.5 74.9 L584.5 74.2 L585.5 73.6 L586.5 73.0 L587.5 72.4 L588.5 71.7 L589.5 71.1 L590.5 70.5 L591.5 69.9 L592.5 69.2 L593.5 68.6 L594.5 68.0 L595.5 67.4 L596.5 66.7 L597.5 66.1 L598.5 65.5 L599.5 64.8 L600.5 64.2 L601.5 63.6 L602.5 63.0 L603.5 62.3 L604.5 61.7 L605.5 61.1 L606.5 60.4 L607.5 59.8 L608.5 59.1 L609.5 58.5 L610.5 57.9 L611.5 57.2 L612.5 56.6 L613.5 55.9 L614.5 55.3 L615.5 54.6 L616.5 54.0 L617.5 53.3 L618.5 52.7 L619.5 52.1 L620.5 51.4 L621.5 50.8 L622.5 50.1 L623.5 49.5 L624.5 48.8 L625.5 48.2 L626.5 47.8 L627.5 47.2 L628.5 46.6 L629.5 45.9 L630.5 45.3 L631.5 44.7 L632.5 44.0 L633.5 43.4 L634.5 42.8 L635.5 42.1 L636.5 41.5 L637.5 40.8 L638.5 40.2 L639.5 39.5 L640.5 38.9 L641.5 38.2 L642.5 37.6 L643.5 36.9 L644.5 36.3 L645.5 35.7 L646.5 35.2 L647.5 34.6 L648.5 34.1 L649.5 33.6 L650.5 33.1 L651.5 32.6 L652.5 32.2 L653.5 31.7 L654.5 31.3 L655.5 30.8 L655.6 30.8 L655.6 30.8 L655.5 30.9 L654.5 31.6 L653.5 32.2 L652.5 32.8 L651.5 33.4 L650.5 34.1 L649.5 34.7 L648.5 35.3 L647.5 35.9 L646.5 36.6 L645.5 37.3 L644.5 38.0 L643.5 38.8 L642.5 39.5 L641.5 40.3 L640.5 41.1 L639.5 41.9 L638.5 42.7 L637.5 43.4 L636.5 44.2 L635.5 45.0 L634.5 45.7 L633.5 46.5 L632.5 47.2 L631.5 48.0 L630.5 48.7 L629.5 49.4 L628.5 50.2 L627.5 50.9 L626.5 51.6 L625.5 52.1 L624.5 52.8 L623.5 53.5 L622.5 54.3 L621.5 55.0 L620.5 55.8 L619.5 56.5 L618.5 57.2 L617.5 58.0 L616.5 58.7 L615.5 59.4 L614.5 60.2 L613.5 60.9 L612.5 61.6 L611.5 62.4 L610.5 63.1 L609.5 63.8 L608.5 64.5 L607.5 65.3 L606.5 66.0 L605.5 66.7 L604.5 67.4 L603.5 68.1 L602.5 68.8 L601.5 69.5 L600.5 70.2 L599.5 71.0 L598.5 71.7 L597.5 72.4 L596.5 73.1 L595.5 73.8 L594.5 74.5 L593.5 75.2 L592.5 75.9 L591.5 76.6 L590.5 77.3 L589.5 78.0 L588.5 78.7 L587.5 79.3 L586.5 80.0 L585.5 80.7 L584.5 81.4 L583.5 82.1 L582.5 82.8 L581.5 83.5 L580.5 84.2 L579.5 84.8 L578.5 85.5 L577.5 86.2 L576.5 86.9 L575.5 87.6 L574.5 88.2 L573.5 88.9 L572.5 89.6 L571.5 90.3 L570.5 90.9 L569.5 91.6 L568.5 92.3 L567.5 93.0 L566.5 93.6 L565.5 94.3 L564.5 95.0 L563.5 95.6 L562.5 96.3 L561.5 96.9 L560.5 97.6 L559.5 98.3 L558.5 98.9 L557.5 99.6 L556.5 100.3 L555.5 100.9 L554.5 101.6 L553.5 102.3 L552.5 102.9 L551.5 103.6 L550.5 104.3 L549.5 104.9 L548.5 105.6 L547.5 106.3 L546.5 107.0 L545.5 107.6 L544.5 108.3 L543.5 109.0 L542.5 109.7 L541.5 110.4 L540.5 111.1 L539.5 111.8 L538.5 112.5 L537.5 113.2 L536.5 113.9 L535.5 114.6 L534.5 115.3 L533.5 116.0 L532.5 116.7 L531.5 117.4 L530.5 118.1 L529.5 118.8 L528.5 119.5 L527.5 120.2 L526.5 121.0 L525.5 121.7 L524.5 122.4 L523.5 123.1 L522.5 123.8 L521.5 124.5 L520.5 125.3 L519.5 126.0 L518.5 126.7 L517.5 127.4 L516.5 128.1 L515.5 128.8 L514.5 129.6 L513.5 130.3 L512.5 131.0 L511.5 131.7 L510.5 132.4 L509.5 133.2 L508.5 133.9 L507.5 134.6 L506.5 135.3 L505.5 136.0 L504.5 136.7 L503.5 137.4 L502.5 138.1 L501.5 138.9 L500.5 139.6 L499.5 140.3 L498.5 141.0 L497.5 141.7 L496.5 142.4 L495.5 143.1 L494.5 143.8 L493.5 144.5 L492.5 145.2 L491.5 145.9 L490.5 146.6 L489.5 147.3 L488.5 148.0 L487.5 148.7 L486.5 149.4 L485.5 150.1 L484.5 150.8 L483.5 151.4 L482.5 152.1 L481.5 152.8 L480.5 153.5 L479.5 154.2 L478.5 154.9 L477.5 155.6 L476.5 156.2 L475.5 156.9 L474.5 157.6 L473.5 158.3 L472.5 159.0 L471.5 159.6 L470.5 160.3 L469.5 161.0 L468.5 161.7 L467.5 162.4 L466.5 163.1 L465.5 163.7 L464.5 164.4 L463.5 165.1 L462.5 165.8 L461.5 166.5 L460.5 167.1 L459.5 167.8 L458.5 168.5 L457.5 169.2 L456.5 169.9 L455.5 170.6 L454.5 171.2 L453.5 171.9 L452.5 172.6 L451.5 173.3 L450.5 174.0 L449.5 174.7 L448.5 175.4 L447.5 176.1 L446.5 176.7 L445.5 177.4 L444.5 178.1 L443.5 178.8 L442.5 179.5 L441.5 180.2 L440.5 180.9 L439.5 181.6 L438.5 182.3 L437.5 183.0 L436.5 183.7 L435.5 184.4 L434.5 185.1 L433.5 185.8 L432.5 186.5 L431.5 187.2 L430.5 187.9 L429.5 188.6 L428.5 189.3 L427.5 190.0 L426.5 190.8 L425.5 191.5 L424.5 192.2 L423.5 192.9 L422.5 193.7 L421.5 194.4 L420.5 195.1 L419.5 195.9 L418.5 196.6 L417.5 197.4 L416.5 198.1 L415.5 198.9 L414.5 199.7 L413.5 200.4 L412.5 201.2 L411.5 202.0 L410.5 202.8 L409.5 203.6 L408.5 204.4 L407.5 205.2 L406.5 206.0 L405.5 206.8 L404.5 207.6 L403.5 208.4 L402.5 209.3 L401.5 210.1 L400.5 211.0 L399.5 211.8 L398.5 212.7 L397.5 213.5 L396.5 214.4 L395.5 215.3 L394.5 216.1 L393.5 217.0 L392.5 217.9 L391.5 218.8 L390.5 219.7 L389.5 220.6 L388.5 221.5 L387.5 222.4 L386.5 223.3 L385.5 224.2 L384.5 225.1 L383.5 226.1 L382.5 227.0 L381.5 227.9 L380.5 228.9 L379.5 229.8 L378.5 230.7 L377.5 231.7 L376.5 232.6 L375.5 233.6 L374.5 234.5 L373.5 235.5 L372.5 236.5 L371.5 237.4 L370.5 238.4 L369.5 239.3 L368.5 240.3 L367.5 241.3 L366.5 242.3 L365.5 243.2 L364.5 244.2 L363.5 245.2 L362.5 246.1 L361.5 247.1 L360.5 248.1 L359.5 249.0 L358.5 250.0 L357.5 251.0 L356.5 251.9 L355.5 252.9 L354.5 253.8 L353.5 254.8 L352.5 255.7 L351.5 256.7 L350.5 257.6 L349.5 258.6 L348.5 259.5 L347.5 260.4 L346.5 261.4 L345.5 262.3 L344.5 263.2 L343.5 264.1 L342.5 265.0 L341.5 265.9 L340.5 266.8 L339.5 267.7 L338.5 268.6 L337.5 269.5 L336.5 270.4 L335.5 271.3 L334.5 272.2 L333.5 273.0 L332.5 273.9 L331.5 274.8 L330.5 275.6 L329.5 276.5 L328.5 277.4 L327.5 278.2 L326.5 279.1 L325.5 279.9 L324.5 280.8 L323.5 281.6 L322.5 282.5 L321.5 283.3 L320.5 284.2 L319.5 285.0 L318.5 285.9 L317.5 286.7 L316.5 287.5 L315.5 288.4 L314.5 289.2 L313.5 290.0 L312.5 290.9 L311.5 291.7 L310.5 292.6 L309.5 293.4 L308.5 294.2 L307.5 295.1 L306.5 295.9 L305.5 296.7 L304.5 297.6 L303.5 298.4 L302.5 299.3 L301.5 300.1 L300.5 301.0 L299.5 301.8 L298.5 302.7 L297.5 303.5 L296.5 304.4 L295.5 305.2 L294.5 306.1 L293.5 307.0 L292.5 307.8 L291.5 308.7 L290.5 309.6 L289.5 310.4 L288.5 311.3 L287.5 312.2 L286.5 313.1 L285.5 313.9 L284.5 314.8 L283.5 315.7 L282.5 316.6 L281.5 317.5 L280.5 318.4 L279.5 319.3 L278.5 320.2 L277.5 321.1 L276.5 322.0 L275.5 322.9 L274.5 323.8 L273.5 324.8 L272.5 325.7 L271.5 326.6 L270.5 327.5 L269.5 328.5 L268.5 329.4 L267.5 330.4 L266.5 331.3 L265.5 332.3 L264.5 333.2 L263.5 334.2 L262.5 335.2 L261.5 336.1 L260.5 337.1 L259.5 338.1 L258.5 339.1 L257.5 340.1 L256.5 341.1 L255.5 342.1 L254.5 343.1 L253.5 344.1 L252.5 345.1 L251.5 346.1 L250.5 347.2 L249.5 348.2 L248.5 349.2 L247.5 350.3 L246.5 351.3 L245.5 352.4 L244.5 353.5 L243.5 354.5 L242.5 355.6 L241.5 356.7 L240.5 357.8 L239.5 358.9 L238.5 360.0 L237.5 361.1 L236.5 362.3 L235.5 363.4 L234.5 364.5 L233.5 365.7 L232.5 366.8 L231.5 368.0 L230.5 369.1 L229.5 370.3 L228.5 371.5 L227.5 372.7 L226.5 373.9 L225.5 375.0 L224.5 376.2 L223.5 377.4 L222.5 378.6 L221.5 379.8 L220.5 381.0 L219.5 382.2 L218.5 383.4 L217.5 384.6 L216.5 385.7 L215.5 386.9 L214.5 388.1 L213.5 389.3 L212.5 390.5 L211.5 391.6 L210.5 392.8 L209.5 394.0 L208.5 395.1 L207.5 396.3 L206.5 397.4 L205.5 398.6 L204.5 399.7 L203.5 400.8 L202.5 402.0 L201.5 403.1 L200.5 404.3 L199.5 405.4 L198.5 406.5 L197.5 407.6 L196.5 408.7 L195.5 409.9 L194.5 411.0 L193.5 412.1 L192.5 413.2 L191.5 414.3 L190.5 415.4 L189.5 416.5 L188.5 417.6 L187.5 418.7 L186.5 419.8 L185.5 420.9 L184.5 422.0 L183.5 423.1 L182.5 424.2 L181.5 425.3 L180.5 426.4 L179.5 427.4 L178.5 428.5 L177.5 429.6 L176.5 430.7 L175.5 431.7 L174.5 432.8 L173.5 433.9 L172.5 435.0 L171.5 436.0 L170.5 437.1 L169.5 438.2 L168.5 439.3 L167.5 440.3 L166.5 441.4 L165.5 442.5 L164.5 443.6 L163.5 444.7 L162.5 445.8 L161.5 446.8 L160.5 447.9 L159.5 449.0 L158.5 450.1 L157.5 451.2 L156.5 452.4 L155.5 453.5 L154.5 454.6 L153.5 455.7 L152.5 456.8 L151.5 458.0 L150.5 459.1 L149.5 460.3 L148.5 461.4 L147.5 462.6 L146.5 463.7 L145.5 464.9 L144.5 466.0 L143.5 467.2 L142.5 468.4 L141.5 469.6 L140.5 470.8 L139.5 472.0 L138.5 473.2 L137.5 474.4 L136.5 475.6 L135.5 476.8 L134.5 478.0 L133.5 479.2 L132.5 480.4 L131.5 481.6 L130.5 482.8 L129.5 485.6 L128.5 486.8 L127.5 488.0 L126.5 489.3 L125.5 490.5 L124.5 491.8 L123.5 493.0 L122.5 494.3 L121.5 495.6 L120.5 496.9 L119.5 498.2 L118.5 499.5 L117.5 500.8 L116.5 502.1 L115.5 503.5 L114.5 504.8 L113.5 506.2 L112.5 507.5 L111.5 508.9 L110.5 510.2 L109.5 511.6 L108.5 512.9 L107.5 514.3 L106.5 515.6 L105.5 516.9 L104.5 518.3 L103.5 519.7 L102.5 521.3 L101.5 523.0 L100.5 524.7 L99.5 526.6Z" fill="#377EB8" fill-opacity="0.25"/>
<path d="M99.5 526.6 L100.5 524.7 L101.5 523.0 L102.5 521.5 L103.5 520.0 L104.5 518.7 L105.5 517.4 L106.5 516.1 L107.5 514.8 L108.5 513.6 L109.5 512.3 L110.5 511.0 L111.5 509.7 L112.5 508.5 L113.5 507.2 L114.5 505.9 L115.5 504.7 L116.5 503.4 L117.5 502.1 L118.5 500.9 L119.5 499.6 L120.5 498.4 L121.5 497.1 L122.5 495.9 L123.5 494.7 L124.5 493.4 L125.5 492.2 L126.5 491.0 L127.5 489.8 L128.5 488.6 L129.5 487.4 L130.5 485.5 L131.5 484.3 L132.5 483.1 L133.5 481.9 L134.5 480.7 L135.5 479.5 L136.5 478.3 L137.5 477.1 L138.5 475.9 L139.5 474.7 L140.5 473.5 L141.5 472.4 L142.5 471.2 L143.5 470.0 L144.5 468.9 L145.5 467.7 L146.5 466.6 L147.5 465.4 L148.5 464.3 L149.5 463.2 L150.5 462.0 L151.5 460.9 L152.5 459.8 L153.5 458.7 L154.5 457.6 L155.5 456.5 L156.5 455.4 L157.5 454.3 L158.5 453.2 L159.5 452.1 L160.5 451.0 L161.5 449.9 L162.5 448.9 L163.5 447.8 L164.5 446.7 L165.5 445.7 L166.5 444.6 L167.5 443.6 L168.5 442.5 L169.5 441.5 L170.5 440.5 L171.5 439.5 L172.5 438.4 L173.5 437.4 L174.5 436.4 L175.5 435.4 L176.5 434.4 L177.5 433.4 L178.5 432.4 L179.5 431.4 L180.5 430.4 L181.5 429.5 L182.5 428.5 L183.5 427.5 L184.5 426.5 L185.5 425.6 L186.5 424.6 L187.5 423.6 L188.5 422.7 L189.5 421.7 L190.5 420.8 L191.5 419.8 L192.5 418.9 L193.5 418.0 L194.5 417.0 L195.5 416.1 L196.5 415.2 L197.5 414.3 L198.5 413.3 L199.5 412.4 L200.5 411.5 L201.5 410.6 L202.5 409.7 L203.5 408.8 L204.5 407.9 L205.5 407.0 L206.5 406.1 L207.5 405.3 L208.5 404.4 L209.5 403.5 L210.5 402.7 L211.5 401.8 L212.5 400.9 L213.5 400.1 L214.5 399.2 L215.5 398.4 L216.5 397.6 L217.5 396.7 L218.5 395.9 L219.5 395.0 L220.5 394.2 L221.5 393.4 L222.5 392.5 L223.5 391.7 L224.5 390.8 L225.5 390.0 L226.5 389.1 L227.5 388.3 L228.5 387.4 L229.5 386.6 L230.5 385.7 L231.5 384.8 L232.5 383.9 L233.5 383.1 L234.5 382.2 L235.5 381.3 L236.5 380.4 L237.5 379.5 L238.5 378.6 L239.5 377.6 L240.5 376.7 L241.5 375.8 L242.5 374.8 L243.5 373.9 L244.5 372.9 L245.5 372.0 L246.5 371.0 L247.5 370.1 L248.5 369.1 L249.5 368.1 L250.5 367.2 L251.5 366.2 L252.5 365.2 L253.5 364.2 L254.5 363.2 L255.5 362.2 L256.5 361.2 L257.5 360.2 L258.5 359.2 L259.5 358.2 L260.5 357.2 L261.5 356.2 L262.5 355.2 L263.5 354.2 L264.5 353.2 L265.5 352.2 L266.5 351.2 L267.5 350.2 L268.5 349.2 L269.5 348.2 L270.5 347.2 L271.5 346.2 L272.5 345.2 L273.5 344.2 L274.5 343.2 L275.5 342.3 L276.5 341.3 L277.5 340.3 L278.5 339.3 L279.5 338.3 L280.5 337.4 L281.5 336.4 L282.5 335.4 L283.5 334.5 L284.5 333.5 L285.5 332.5 L286.5 331.6 L287.5 330.6 L288.5 329.6 L289.5 328.7 L290.5 327.7 L291.5 326.8 L292.5 325.8 L293.5 324.9 L294.5 324.0 L295.5 323.0 L296.5 322.1 L297.5 321.2 L298.5 320.2 L299.5 319.3 L300.5 318.4 L301.5 317.5 L302.5 316.6 L303.5 315.6 L304.5 314.7 L305.5 313.8 L306.5 312.9 L307.5 312.0 L308.5 311.1 L309.5 310.2 L310.5 309.3 L311.5 308.5 L312.5 307.6 L313.5 306.7 L314.5 305.8 L315.5 304.9 L316.5 304.0 L317.5 303.1 L318.5 302.3 L319.5 301.4 L320.5 300.5 L321.5 299.6 L322.5 298.7 L323.5 297.8 L324.5 297.0 L325.5 296.1 L326.5 295.2 L327.5 294.3 L328.5 293.4 L329.5 292.5 L330.5 291.7 L331.5 290.8 L332.5 289.9 L333.5 289.0 L334.5 288.1 L335.5 287.2 L336.5 286.4 L337.5 285.5 L338.5 284.6 L339.5 283.7 L340.5 282.8 L341.5 282.0 L342.5 281.1 L343.5 280.2 L344.5 279.3 L345.5 278.4 L346.5 277.5 L347.5 276.7 L348.5 275.8 L349.5 274.9 L350.5 274.0 L351.5 273.2 L352.5 272.3 L353.5 271.4 L354.5 270.5 L355.5 269.7 L356.5 268.8 L357.5 267.9 L358.5 267.1 L359.5 266.2 L360.5 265.3 L361.5 264.5 L362.5 263.6 L363.5 262.8 L364.5 261.9 L365.5 261.1 L366.5 260.2 L367.5 259.4 L368.5 258.5 L369.5 257.7 L370.5 256.8 L371.5 256.0 L372.5 255.2 L373.5 254.4 L374.5 253.5 L375.5 252.7 L376.5 251.9 L377.5 251.1 L378.5 250.2 L379.5 249.4 L380.5 248.6 L381.5 247.8 L382.5 247.0 L383.5 246.2 L384.5 245.4 L385.5 244.6 L386.5 243.7 L387.5 242.9 L388.5 242.1 L389.5 241.3 L390.5 240.5 L391.5 239.7 L392.5 238.9 L393.5 238.1 L394.5 237.3 L395.5 236.5 L396.5 235.7 L397.5 234.9 L398.5 234.1 L399.5 233.3 L400.5 232.4 L401.5 231.6 L402.5 230.8 L403.5 230.0 L404.5 229.2 L405.5 228.3 L406.5 227.5 L407.5 226.7 L408.5 225.8 L409.5 225.0 L410.5 224.1 L411.5 223.3 L412.5 222.4 L413.5 221.6 L414.5 220.7 L415.5 219.8 L416.5 218.9 L417.5 218.1 L418.5 217.2 L419.5 216.3 L420.5 215.4 L421.5 214.5 L422.5 213.6 L423.5 212.7 L424.5 211.8 L425.5 210.9 L426.5 210.0 L427.5 209.1 L428.5 208.2 L429.5 207.3 L430.5 206.4 L431.5 205.5 L432.5 204.6 L433.5 203.7 L434.5 202.8 L435.5 201.9 L436.5 201.0 L437.5 200.1 L438.5 199.2 L439.5 198.3 L440.5 197.4 L441.5 196.5 L442.5 195.7 L443.5 194.8 L444.5 193.9 L445.5 193.0 L446.5 192.2 L447.5 191.3 L448.5 190.4 L449.5 189.6 L450.5 188.7 L451.5 187.8 L452.5 187.0 L453.5 186.1 L454.5 185.3 L455.5 184.4 L456.5 183.6 L457.5 182.8 L458.5 181.9 L459.5 181.1 L460.5 180.3 L461.5 179.5 L462.5 178.6 L463.5 177.8 L464.5 177.0 L465.5 176.2 L466.5 175.4 L467.5 174.6 L468.5 173.8 L469.5 173.0 L470.5 172.2 L471.5 171.5 L472.5 170.7 L473.5 169.9 L474.5 169.1 L475.5 168.3 L476.5 167.6 L477.5 166.8 L478.5 166.0 L479.5 165.3 L480.5 164.5 L481.5 163.7 L482.5 163.0 L483.5 162.2 L484.5 161.4 L485.5 160.6 L486.5 159.9 L487.5 159.1 L488.5 158.3 L489.5 157.5 L490.5 156.8 L491.5 156.0 L492.5 155.2 L493.5 154.4 L494.5 153.6 L495.5 152.8 L496.5 152.0 L497.5 151.2 L498.5 150.4 L499.5 149.6 L500.5 148.8 L501.5 148.0 L502.5 147.2 L503.5 146.4 L504.5 145.6 L505.5 144.7 L506.5 143.9 L507.5 143.1 L508.5 142.3 L509.5 141.4 L510.5 140.6 L511.5 139.8 L512.5 139.0 L513.5 138.1 L514.5 137.3 L515.5 136.4 L516.5 135.6 L517.5 134.8 L518.5 133.9 L519.5 133.1 L520.5 132.2 L521.5 131.4 L522.5 130.5 L523.5 129.6 L524.5 128.8 L525.5 127.9 L526.5 127.1 L527.5 126.2 L528.5 125.3 L529.5 124.5 L530.5 123.6 L531.5 122.7 L532.5 121.9 L533.5 121.0 L534.5 120.1 L535.5 119.3 L536.5 118.4 L537.5 117.6 L538.5 116.7 L539.5 115.9 L540.5 115.0 L541.5 114.2 L542.5 113.3 L543.5 112.5 L544.5 111.7 L545.5 110.9 L546.5 110.0 L547.5 109.2 L548.5 108.4 L549.5 107.6 L550.5 106.8 L551.5 106.1 L552.5 105.3 L553.5 104.5 L554.5 103.7 L555.5 103.0 L556.5 102.2 L557.5 101.4 L558.5 100.7 L559.5 99.9 L560.5 99.2 L561.5 98.4 L562.5 97.7 L563.5 96.9 L564.5 96.2 L565.5 95.4 L566.5 94.7 L567.5 93.9 L568.5 93.2 L569.5 92.5 L570.5 91.7 L571.5 91.0 L572.5 90.3 L573.5 89.5 L574.5 88.8 L575.5 88.1 L576.5 87.3 L577.5 86.6 L578.5 85.9 L579.5 85.1 L580.5 84.4 L581.5 83.7 L582.5 82.9 L583.5 82.2 L584.5 81.5 L585.5 80.8 L586.5 80.0 L587.5 79.3 L588.5 78.6 L589.5 77.9 L590.5 77.1 L591.5 76.4 L592.5 75.7 L593.5 75.0 L594.5 74.2 L595.5 73.5 L596.5 72.8 L597.5 72.1 L598.5 71.3 L599.5 70.6 L600.5 69.9 L601.5 69.2 L602.5 68.5 L603.5 67.7 L604.5 67.0 L605.5 66.3 L606.5 65.6 L607.5 64.8 L608.5 64.1 L609.5 63.4 L610.5 62.7 L611.5 62.0 L612.5 61.3 L613.5 60.5 L614.5 59.8 L615.5 59.1 L616.5 58.4 L617.5 57.6 L618.5 56.9 L619.5 56.2 L620.5 55.5 L621.5 54.8 L622.5 54.1 L623.5 53.3 L624.5 52.6 L625.5 51.9 L626.5 51.2 L627.5 50.4 L628.5 49.7 L629.5 49.0 L630.5 48.3 L631.5 47.6 L632.5 46.9 L633.5 46.2 L634.5 45.5 L635.5 44.7 L636.5 44.0 L637.5 43.3 L638.5 42.6 L639.5 41.9 L640.5 41.2 L641.5 40.5 L642.5 39.8 L643.5 39.1 L644.5 38.4 L645.5 37.7 L646.5 37.0 L647.5 36.3 L648.5 35.6 L649.5 34.9 L650.5 34.2 L651.5 33.5 L652.5 32.8 L653.5 32.2 L654.5 31.5 L655.5 30.9 L655.6 30.8 L655.6 30.8 L655.5 30.9 L654.5 31.8 L653.5 32.7 L652.5 33.6 L651.5 34.4 L650.5 35.3 L649.5 36.1 L648.5 36.9 L647.5 37.7 L646.5 38.6 L645.5 39.4 L644.5 40.2 L643.5 41.0 L642.5 41.9 L641.5 42.7 L640.5 43.5 L639.5 44.3 L638.5 45.1 L637.5 46.0 L636.5 46.8 L635.5 47.6 L634.5 48.4 L633.5 49.2 L632.5 50.0 L631.5 50.8 L630.5 51.7 L629.5 52.5 L628.5 53.3 L627.5 54.1 L626.5 54.9 L625.5 55.7 L624.5 56.5 L623.5 57.3 L622.5 58.1 L621.5 59.0 L620.5 59.8 L619.5 60.6 L618.5 61.4 L617.5 62.2 L616.5 63.0 L615.5 63.8 L614.5 64.6 L613.5 65.4 L612.5 66.2 L611.5 67.0 L610.5 67.8 L609.5 68.6 L608.5 69.4 L607.5 70.2 L606.5 70.9 L605.5 71.7 L604.5 72.5 L603.5 73.3 L602.5 74.1 L601.5 74.9 L600.5 75.7 L599.5 76.5 L598.5 77.3 L597.5 78.1 L596.5 78.9 L595.5 79.7 L594.5 80.5 L593.5 81.3 L592.5 82.1 L591.5 82.8 L590.5 83.6 L589.5 84.4 L588.5 85.2 L587.5 86.0 L586.5 86.8 L585.5 87.6 L584.5 88.4 L583.5 89.2 L582.5 90.0 L581.5 90.8 L580.5 91.5 L579.5 92.3 L578.5 93.1 L577.5 93.9 L576.5 94.7 L575.5 95.5 L574.5 96.3 L573.5 97.1 L572.5 97.9 L571.5 98.7 L570.5 99.5 L569.5 100.3 L568.5 101.1 L567.5 101.9 L566.5 102.7 L565.5 103.5 L564.5 104.3 L563.5 105.1 L562.5 105.9 L561.5 106.7 L560.5 107.5 L559.5 108.3 L558.5 109.1 L557.5 109.9 L556.5 110.7 L555.5 111.5 L554.5 112.4 L553.5 113.2 L552.5 114.0 L551.5 114.9 L550.5 115.7 L549.5 116.6 L548.5 117.4 L547.5 118.3 L546.5 119.1 L545.5 120.0 L544.5 120.9 L543.5 121.8 L542.5 122.6 L541.5 123.5 L540.5 124.4 L539.5 125.3 L538.5 126.2 L537.5 127.1 L536.5 128.0 L535.5 128.9 L534.5 129.9 L533.5 130.8 L532.5 131.7 L531.5 132.6 L530.5 133.5 L529.5 134.4 L528.5 135.4 L527.5 136.3 L526.5 137.2 L525.5 138.1 L524.5 139.0 L523.5 139.9 L522.5 140.8 L521.5 141.7 L520.5 142.6 L519.5 143.5 L518.5 144.4 L517.5 145.3 L516.5 146.2 L515.5 147.1 L514.5 148.0 L513.5 148.9 L512.5 149.7 L511.5 150.6 L510.5 151.5 L509.5 152.4 L508.5 153.2 L507.5 154.1 L506.5 155.0 L505.5 155.8 L504.5 156.7 L503.5 157.5 L502.5 158.4 L501.5 159.2 L500.5 160.1 L499.5 160.9 L498.5 161.8 L497.5 162.6 L496.5 163.4 L495.5 164.3 L494.5 165.1 L493.5 165.9 L492.5 166.8 L491.5 167.6 L490.5 168.4 L489.5 169.2 L488.5 170.0 L487.5 170.8 L486.5 171.6 L485.5 172.4 L484.5 173.2 L483.5 174.0 L482.5 174.8 L481.5 175.6 L480.5 176.4 L479.5 177.2 L478.5 178.0 L477.5 178.8 L476.5 179.6 L475.5 180.4 L474.5 181.2 L473.5 182.1 L472.5 182.9 L471.5 183.7 L470.5 184.5 L469.5 185.3 L468.5 186.1 L467.5 186.9 L466.5 187.8 L465.5 188.6 L464.5 189.4 L463.5 190.3 L462.5 191.1 L461.5 192.0 L460.5 192.8 L459.5 193.7 L458.5 194.5 L457.5 195.4 L456.5 196.2 L455.5 197.1 L454.5 198.0 L453.5 198.8 L452.5 199.7 L451.5 200.6 L450.5 201.5 L449.5 202.4 L448.5 203.3 L447.5 204.1 L446.5 205.0 L445.5 205.9 L444.5 206.8 L443.5 207.7 L442.5 208.6 L441.5 209.5 L440.5 210.5 L439.5 211.4 L438.5 212.3 L437.5 213.2 L436.5 214.1 L435.5 215.0 L434.5 215.9 L433.5 216.9 L432.5 217.8 L431.5 218.7 L430.5 219.6 L429.5 220.6 L428.5 221.5 L427.5 222.4 L426.5 223.3 L425.5 224.3 L424.5 225.2 L423.5 226.1 L422.5 227.0 L421.5 227.9 L420.5 228.8 L419.5 229.8 L418.5 230.7 L417.5 231.6 L416.5 232.5 L415.5 233.4 L414.5 234.2 L413.5 235.1 L412.5 236.0 L411.5 236.9 L410.5 237.7 L409.5 238.6 L408.5 239.5 L407.5 240.3 L406.5 241.2 L405.5 242.0 L404.5 242.9 L403.5 243.7 L402.5 244.5 L401.5 245.4 L400.5 246.2 L399.5 247.0 L398.5 247.8 L397.5 248.6 L396.5 249.5 L395.5 250.3 L394.5 251.1 L393.5 251.9 L392.5 252.7 L391.5 253.5 L390.5 254.4 L389.5 255.2 L388.5 256.0 L387.5 256.8 L386.5 257.6 L385.5 258.4 L384.5 259.2 L383.5 260.1 L382.5 260.9 L381.5 261.7 L380.5 262.5 L379.5 263.3 L378.5 264.2 L377.5 265.0 L376.5 265.8 L375.5 266.6 L374.5 267.5 L373.5 268.3 L372.5 269.1 L371.5 270.0 L370.5 270.8 L369.5 271.6 L368.5 272.5 L367.5 273.3 L366.5 274.2 L365.5 275.0 L364.5 275.9 L363.5 276.7 L362.5 277.6 L361.5 278.5 L360.5 279.3 L359.5 280.2 L358.5 281.0 L357.5 281.9 L356.5 282.8 L355.5 283.7 L354.5 284.5 L353.5 285.4 L352.5 286.3 L351.5 287.2 L350.5 288.0 L349.5 288.9 L348.5 289.8 L347.5 290.7 L346.5 291.5 L345.5 292.4 L344.5 293.3 L343.5 294.2 L342.5 295.1 L341.5 295.9 L340.5 296.8 L339.5 297.7 L338.5 298.6 L337.5 299.4 L336.5 300.3 L335.5 301.2 L334.5 302.1 L333.5 303.0 L332.5 303.8 L331.5 304.7 L330.5 305.6 L329.5 306.5 L328.5 307.3 L327.5 308.2 L326.5 309.1 L325.5 310.0 L324.5 310.8 L323.5 311.7 L322.5 312.6 L321.5 313.5 L320.5 314.3 L319.5 315.2 L318.5 316.1 L317.5 317.0 L316.5 317.8 L315.5 318.7 L314.5 319.6 L313.5 320.5 L312.5 321.3 L311.5 322.2 L310.5 323.1 L309.5 324.0 L308.5 324.9 L307.5 325.7 L306.5 326.6 L305.5 327.5 L304.5 328.4 L303.5 329.3 L302.5 330.2 L301.5 331.1 L300.5 332.0 L299.5 332.9 L298.5 333.8 L297.5 334.7 L296.5 335.7 L295.5 336.6 L294.5 337.5 L293.5 338.4 L292.5 339.3 L291.5 340.3 L290.5 341.2 L289.5 342.1 L288.5 343.1 L287.5 344.0 L286.5 345.0 L285.5 345.9 L284.5 346.8 L283.5 347.8 L282.5 348.7 L281.5 349.7 L280.5 350.6 L279.5 351.6 L278.5 352.5 L277.5 353.5 L276.5 354.5 L275.5 355.4 L274.5 356.4 L273.5 357.3 L272.5 358.3 L271.5 359.3 L270.5 360.2 L269.5 361.2 L268.5 362.2 L267.5 363.2 L266.5 364.1 L265.5 365.1 L264.5 366.1 L263.5 367.0 L262.5 368.0 L261.5 369.0 L260.5 370.0 L259.5 370.9 L258.5 371.9 L257.5 372.9 L256.5 373.9 L255.5 374.8 L254.5 375.8 L253.5 376.7 L252.5 377.7 L251.5 378.7 L250.5 379.6 L249.5 380.5 L248.5 381.5 L247.5 382.4 L246.5 383.3 L245.5 384.3 L244.5 385.2 L243.5 386.1 L242.5 387.0 L241.5 387.9 L240.5 388.8 L239.5 389.7 L238.5 390.6 L237.5 391.5 L236.5 392.3 L235.5 393.2 L234.5 394.1 L233.5 394.9 L232.5 395.8 L231.5 396.6 L230.5 397.5 L229.5 398.3 L228.5 399.1 L227.5 399.9 L226.5 400.8 L225.5 401.6 L224.5 402.4 L223.5 403.2 L222.5 404.0 L221.5 404.8 L220.5 405.6 L219.5 406.4 L218.5 407.2 L217.5 408.0 L216.5 408.8 L215.5 409.6 L214.5 410.4 L213.5 411.2 L212.5 412.0 L211.5 412.9 L210.5 413.7 L209.5 414.5 L208.5 415.3 L207.5 416.2 L206.5 417.0 L205.5 417.8 L204.5 418.7 L203.5 419.5 L202.5 420.4 L201.5 421.2 L200.5 422.1 L199.5 423.0 L198.5 423.8 L197.5 424.7 L196.5 425.6 L195.5 426.5 L194.5 427.3 L193.5 428.2 L192.5 429.1 L191.5 430.0 L190.5 430.9 L189.5 431.8 L188.5 432.7 L187.5 433.6 L186.5 434.5 L185.5 435.4 L184.5 436.3 L183.5 437.2 L182.5 438.2 L181.5 439.1 L180.5 440.0 L179.5 440.9 L178.5 441.9 L177.5 442.8 L176.5 443.7 L175.5 444.7 L174.5 445.6 L173.5 446.6 L172.5 447.5 L171.5 448.5 L170.5 449.4 L169.5 450.4 L168.5 451.4 L167.5 452.3 L166.5 453.3 L165.5 454.3 L164.5 455.3 L163.5 456.3 L162.5 457.3 L161.5 458.2 L160.5 459.2 L159.5 460.3 L158.5 461.3 L157.5 462.3 L156.5 463.3 L155.5 464.3 L154.5 465.3 L153.5 466.4 L152.5 467.4 L151.5 468.4 L150.5 469.5 L149.5 470.5 L148.5 471.6 L147.5 472.6 L146.5 473.7 L145.5 474.7 L144.5 475.8 L143.5 476.8 L142.5 477.9 L141.5 479.0 L140.5 480.1 L139.5 481.2 L138.5 482.2 L137.5 483.3 L136.5 484.4 L135.5 485.5 L134.5 486.6 L133.5 487.7 L132.5 488.8 L131.5 489.9 L130.5 491.0 L129.5 492.7 L128.5 493.8 L127.5 494.9 L126.5 496.0 L125.5 497.1 L124.5 498.1 L123.5 499.2 L122.5 500.3 L121.5 501.5 L120.5 502.6 L119.5 503.7 L118.5 504.8 L117.5 505.9 L116.5 507.0 L115.5 508.1 L114.5 509.3 L113.5 510.4 L112.5 511.5 L111.5 512.6 L110.5 513.7 L109.5 514.8 L108.5 515.9 L107.5 517.0 L106.5 518.1 L105.5 519.2 L104.5 520.3 L103.5 521.4 L102.5 522.6 L101.5 523.9 L100.5 525.2 L99.5 526.6Z" fill="#55B24F" fill-opacity="0.25"/>
<path d="M99.5 526.6L100.5 524.6L101.5 522.8L102.5 521.0L103.5 519.4L104.5 517.8L105.5 516.2L106.5 514.7L107.5 513.2L108.5 511.7L109.5 510.1L110.5 508.5L111.5 506.9L112.5 505.5L113.5 504.1L114.5 502.7L115.5 501.3L116.5 499.9L117.5 498.5L118.5 497.2L119.5 496.0L120.5 494.9L121.5 493.6L122.5 492.0L123.5 490.3L124.5 488.8L125.5 487.8L126.5 486.9L127.5 486.0L128.5 485.0L129.5 483.8L130.5 480.8L131.5 479.7L132.5 478.6L133.5 477.4L134.5 475.8L135.5 474.2L136.5 472.8L137.5 471.5L138.5 470.3L139.5 469.0L140.5 467.7L141.5 466.5L142.5 465.4L143.5 464.2L144.5 463.1L145.5 461.9L146.5 460.8L147.5 459.7L148.5 458.4L149.5 457.1L150.5 455.8L151.5 454.5L152.5 453.3L153.5 452.1L154.5 450.8L155.5 449.5L156.5 448.2L157.5 446.8L158.5 445.6L159.5 444.4L160.5 443.2L161.5 441.8L162.5 440.6L163.5 439.5L164.5 438.4L165.5 437.2L166.5 436.0L167.5 434.7L168.5 433.6L169.5 432.5L170.5 431.2L171.5 430.0L172.5 428.8L173.5 427.7L174.5 426.3L175.5 424.9L176.5 423.5L177.5 422.3L178.5 421.2L179.5 420.1L180.5 418.7L181.5 417.4L182.5 416.3L183.5 415.3L184.5 414.2L185.5 413.1L186.5 411.9L187.5 410.9L188.5 409.8L189.5 408.6L190.5 407.3L191.5 406.0L192.5 404.7L193.5 403.4L194.5 402.0L195.5 400.8L196.5 399.7L197.5 398.6L198.5 397.6L199.5 396.7L200.5 395.7L201.5 394.8L202.5 393.7L203.5 392.6L204.5 391.2L205.5 389.9L206.5 388.8L207.5 387.8L208.5 386.7L209.5 385.6L210.5 384.5L211.5 383.5L212.5 382.5L213.5 381.4L214.5 380.2L215.5 379.1L216.5 378.0L217.5 377.0L218.5 376.0L219.5 374.8L220.5 373.5L221.5 372.4L222.5 371.6L223.5 370.7L224.5 369.5L225.5 368.2L226.5 367.0L227.5 365.8L228.5 364.8L229.5 363.7L230.5 362.7L231.5 361.6L232.5 360.4L233.5 359.1L234.5 357.8L235.5 356.6L236.5 355.4L237.5 354.2L238.5 353.1L239.5 352.1L240.5 351.2L241.5 350.1L242.5 348.9L243.5 347.7L244.5 346.4L245.5 345.2L246.5 344.1L247.5 342.8L248.5 341.6L249.5 340.3L250.5 339.0L251.5 337.7L252.5 336.6L253.5 335.6L254.5 334.5L255.5 333.3L256.5 331.9L257.5 330.7L258.5 329.7L259.5 328.7L260.5 327.7L261.5 326.6L262.5 325.6L263.5 324.7L264.5 323.8L265.5 322.6L266.5 321.3L267.5 319.9L268.5 318.7L269.5 317.5L270.5 316.5L271.5 315.3L272.5 314.2L273.5 313.0L274.5 311.9L275.5 310.9L276.5 310.0L277.5 309.2L278.5 308.4L279.5 307.4L280.5 306.3L281.5 305.4L282.5 304.5L283.5 303.3L284.5 301.9L285.5 300.6L286.5 299.5L287.5 298.6L288.5 297.8L289.5 297.0L290.5 296.1L291.5 294.9L292.5 293.7L293.5 292.6L294.5 291.9L295.5 291.2L296.5 290.4L297.5 289.6L298.5 288.8L299.5 288.0L300.5 287.1L301.5 285.9L302.5 284.6L303.5 283.5L304.5 282.6L305.5 281.7L306.5 280.9L307.5 279.9L308.5 279.0L309.5 278.0L310.5 277.0L311.5 276.0L312.5 275.0L313.5 274.0L314.5 273.0L315.5 272.1L316.5 271.3L317.5 270.5L318.5 269.7L319.5 268.8L320.5 267.9L321.5 266.9L322.5 265.8L323.5 264.7L324.5 263.7L325.5 262.8L326.5 261.9L327.5 261.1L328.5 260.2L329.5 259.4L330.5 258.5L331.5 257.5L332.5 256.5L333.5 255.6L334.5 254.8L335.5 253.9L336.5 253.0L337.5 252.0L338.5 251.1L339.5 250.3L340.5 249.5L341.5 248.6L342.5 247.8L343.5 246.9L344.5 246.0L345.5 245.0L346.5 244.2L347.5 243.4L348.5 242.6L349.5 241.7L350.5 240.8L351.5 239.9L352.5 239.0L353.5 238.1L354.5 237.2L355.5 236.3L356.5 235.5L357.5 234.7L358.5 233.7L359.5 232.7L360.5 231.7L361.5 230.7L362.5 229.8L363.5 229.0L364.5 228.2L365.5 227.6L366.5 226.8L367.5 226.0L368.5 224.9L369.5 224.0L370.5 223.1L371.5 222.4L372.5 221.7L373.5 220.8L374.5 219.8L375.5 218.8L376.5 217.8L377.5 216.9L378.5 216.1L379.5 215.3L380.5 214.4L381.5 213.4L382.5 212.4L383.5 211.5L384.5 210.5L385.5 209.5L386.5 208.4L387.5 207.4L388.5 206.5L389.5 205.8L390.5 205.2L391.5 204.4L392.5 203.5L393.5 202.5L394.5 201.5L395.5 200.6L396.5 199.8L397.5 198.9L398.5 197.8L399.5 196.6L400.5 195.5L401.5 194.5L402.5 193.6L403.5 192.9L404.5 192.1L405.5 191.4L406.5 190.5L407.5 189.6L408.5 188.6L409.5 187.6L410.5 186.5L411.5 185.4L412.5 184.2L413.5 183.2L414.5 182.1L415.5 181.2L416.5 180.3L417.5 179.5L418.5 178.7L419.5 177.8L420.5 176.7L421.5 175.6L422.5 174.6L423.5 173.7L424.5 172.7L425.5 171.8L426.5 171.1L427.5 170.4L428.5 169.7L429.5 168.9L430.5 167.9L431.5 166.7L432.5 165.7L433.5 164.8L434.5 164.0L435.5 163.1L436.5 162.0L437.5 160.8L438.5 159.8L439.5 158.8L440.5 157.9L441.5 157.0L442.5 156.2L443.5 155.5L444.5 154.6L445.5 153.7L446.5 152.7L447.5 151.8L448.5 150.9L449.5 150.0L450.5 149.1L451.5 148.4L452.5 147.7L453.5 146.8L454.5 145.9L455.5 144.9L456.5 143.9L457.5 143.1L458.5 142.3L459.5 141.6L460.5 140.7L461.5 139.8L462.5 138.9L463.5 138.2L464.5 137.4L465.5 136.5L466.5 135.6L467.5 134.9L468.5 134.2L469.5 133.3L470.5 132.3L471.5 131.3L472.5 130.4L473.5 129.5L474.5 128.8L475.5 128.2L476.5 127.6L477.5 126.9L478.5 126.2L479.5 125.6L480.5 124.9L481.5 124.1L482.5 123.1L483.5 122.2L484.5 121.5L485.5 120.9L486.5 120.3L487.5 119.6L488.5 118.8L489.5 118.1L490.5 117.4L491.5 116.6L492.5 115.6L493.5 114.8L494.5 114.0L495.5 113.5L496.5 112.9L497.5 112.2L498.5 111.5L499.5 110.7L500.5 110.1L501.5 109.6L502.5 109.1L503.5 108.5L504.5 107.9L505.5 107.4L506.5 106.7L507.5 105.7L508.5 104.7L509.5 103.8L510.5 103.1L511.5 102.4L512.5 101.9L513.5 101.4L514.5 100.9L515.5 100.4L516.5 99.7L517.5 99.0L518.5 98.2L519.5 97.5L520.5 96.7L521.5 96.1L522.5 95.4L523.5 94.8L524.5 94.0L525.5 93.3L526.5 92.6L527.5 92.0L528.5 91.5L529.5 90.8L530.5 90.2L531.5 89.4L532.5 88.5L533.5 87.6L534.5 86.8L535.5 86.0L536.5 85.2L537.5 84.3L538.5 83.5L539.5 82.9L540.5 82.6L541.5 82.3L542.5 81.8L543.5 81.1L544.5 80.2L545.5 79.4L546.5 78.9L547.5 78.4L548.5 77.9L549.5 77.0L550.5 76.0L551.5 75.0L552.5 74.2L553.5 73.5L554.5 73.1L555.5 72.7L556.5 72.4L557.5 71.9L558.5 71.3L559.5 70.7L560.5 70.0L561.5 69.2L562.5 68.4L563.5 67.5L564.5 66.8L565.5 66.1L566.5 65.4L567.5 64.8L568.5 64.2L569.5 63.5L570.5 62.8L571.5 62.1L572.5 61.6L573.5 61.2L574.5 60.9L575.5 60.4L576.5 59.9L577.5 59.2L578.5 58.6L579.5 58.2L580.5 57.8L581.5 57.6L582.5 57.3L583.5 56.8L584.5 56.2L585.5 55.6L586.5 54.9L587.5 54.0L588.5 53.3L589.5 52.8L590.5 52.5L591.5 52.3L592.5 51.8L593.5 51.2L594.5 50.6L595.5 50.0L596.5 49.4L597.5 49.0L598.5 48.7L599.5 48.4L600.5 47.9L601.5 47.3L602.5 46.8L603.5 46.4L604.5 46.2L605.5 46.0L606.5 45.8L607.5 45.3L608.5 44.8L609.5 44.3L610.5 43.9L611.5 43.6L612.5 43.2L613.5 42.8L614.5 42.6L615.5 42.5L616.5 42.2L617.5 41.9L618.5 41.5L619.5 41.1L620.5 40.8L621.5 40.6L622.5 40.5L623.5 40.2L624.5 39.7L625.5 39.2L626.5 39.4L627.5 38.6L628.5 38.0L629.5 37.6L630.5 37.5L631.5 37.5L632.5 37.3L633.5 37.1L634.5 36.8L635.5 36.8L636.5 36.7L637.5 36.5L638.5 36.0L639.5 35.4L640.5 34.9L641.5 34.5L642.5 34.2L643.5 33.9L644.5 33.6L645.5 33.2L646.5 32.8L647.5 32.6L648.5 32.3L649.5 31.9L650.5 31.7L651.5 31.5L652.5 31.4L653.5 31.3L654.5 31.1L655.5 30.8L655.6 30.8" fill="none" stroke="#E41A1C" stroke-width="3.5" stroke-linejoin="round" stroke-linecap="round"/>
<path d="M99.5 526.6L100.5 524.9L101.5 523.3L102.5 521.9L103.5 520.6L104.5 519.3L105.5 518.0L106.5 516.6L107.5 515.2L108.5 513.9L109.5 512.5L110.5 511.1L111.5 509.7L112.5 508.4L113.5 507.1L114.5 505.9L115.5 504.6L116.5 503.3L117.5 502.0L118.5 500.8L119.5 499.7L120.5 498.5L121.5 497.3L122.5 496.0L123.5 494.8L124.5 493.7L125.5 492.3L126.5 490.8L127.5 489.4L128.5 488.3L129.5 487.5L130.5 485.3L131.5 484.3L132.5 483.0L133.5 481.7L134.5 480.4L135.5 479.1L136.5 477.8L137.5 476.6L138.5 475.5L139.5 474.4L140.5 473.3L141.5 471.9L142.5 470.7L143.5 469.6L144.5 468.6L145.5 467.6L146.5 466.4L147.5 465.3L148.5 464.2L149.5 463.1L150.5 462.0L151.5 461.0L152.5 460.1L153.5 459.2L154.5 458.3L155.5 457.2L156.5 455.9L157.5 454.6L158.5 453.4L159.5 452.3L160.5 451.3L161.5 450.2L162.5 449.2L163.5 448.0L164.5 446.7L165.5 445.6L166.5 444.7L167.5 444.1L168.5 443.4L169.5 442.6L170.5 441.5L171.5 440.3L172.5 439.3L173.5 438.2L174.5 437.2L175.5 436.4L176.5 435.7L177.5 434.9L178.5 433.8L179.5 432.8L180.5 431.8L181.5 430.8L182.5 429.8L183.5 428.8L184.5 427.9L185.5 427.0L186.5 426.3L187.5 425.5L188.5 424.6L189.5 423.6L190.5 422.6L191.5 421.5L192.5 420.6L193.5 419.6L194.5 418.7L195.5 417.7L196.5 416.7L197.5 415.6L198.5 414.7L199.5 413.8L200.5 413.2L201.5 412.6L202.5 412.0L203.5 411.2L204.5 410.3L205.5 409.3L206.5 408.1L207.5 407.1L208.5 406.0L209.5 404.9L210.5 403.7L211.5 402.7L212.5 401.7L213.5 400.8L214.5 399.9L215.5 399.1L216.5 398.2L217.5 397.2L218.5 396.0L219.5 394.9L220.5 393.9L221.5 392.9L222.5 392.0L223.5 390.9L224.5 389.7L225.5 388.4L226.5 387.3L227.5 386.3L228.5 385.4L229.5 384.6L230.5 383.8L231.5 382.8L232.5 381.8L233.5 380.7L234.5 379.8L235.5 378.8L236.5 377.7L237.5 376.5L238.5 375.3L239.5 374.2L240.5 373.2L241.5 372.2L242.5 371.2L243.5 370.1L244.5 369.2L245.5 368.4L246.5 367.5L247.5 366.5L248.5 365.4L249.5 364.2L250.5 363.1L251.5 362.1L252.5 361.1L253.5 360.2L254.5 359.4L255.5 358.5L256.5 357.6L257.5 356.5L258.5 355.3L259.5 354.1L260.5 353.0L261.5 352.0L262.5 351.2L263.5 350.4L264.5 349.6L265.5 348.9L266.5 348.0L267.5 347.1L268.5 346.0L269.5 345.0L270.5 344.0L271.5 343.1L272.5 342.3L273.5 341.3L274.5 340.3L275.5 339.2L276.5 338.3L277.5 337.5L278.5 336.8L279.5 335.8L280.5 334.8L281.5 333.9L282.5 333.1L283.5 332.5L284.5 331.7L285.5 330.8L286.5 329.8L287.5 328.7L288.5 327.7L289.5 326.9L290.5 326.2L291.5 325.4L292.5 324.6L293.5 323.9L294.5 323.1L295.5 322.1L296.5 321.1L297.5 320.1L298.5 319.2L299.5 318.4L300.5 317.6L301.5 316.9L302.5 316.1L303.5 315.2L304.5 314.2L305.5 313.0L306.5 312.2L307.5 311.6L308.5 311.1L309.5 310.4L310.5 309.6L311.5 308.7L312.5 307.9L313.5 307.1L314.5 306.3L315.5 305.5L316.5 304.8L317.5 304.0L318.5 303.2L319.5 302.4L320.5 301.4L321.5 300.3L322.5 299.3L323.5 298.5L324.5 297.7L325.5 296.8L326.5 295.9L327.5 295.2L328.5 294.6L329.5 294.2L330.5 293.7L331.5 292.9L332.5 291.8L333.5 290.5L334.5 289.3L335.5 288.2L336.5 287.2L337.5 286.3L338.5 285.5L339.5 284.7L340.5 284.1L341.5 283.5L342.5 282.7L343.5 281.7L344.5 280.5L345.5 279.5L346.5 278.6L347.5 278.0L348.5 277.3L349.5 276.5L350.5 275.6L351.5 274.5L352.5 273.5L353.5 272.7L354.5 272.0L355.5 271.4L356.5 270.5L357.5 269.4L358.5 268.3L359.5 267.4L360.5 266.5L361.5 265.6L362.5 264.7L363.5 263.7L364.5 262.8L365.5 261.8L366.5 260.9L367.5 260.0L368.5 259.3L369.5 258.6L370.5 258.1L371.5 257.6L372.5 256.9L373.5 256.1L374.5 255.2L375.5 254.3L376.5 253.5L377.5 252.7L378.5 251.8L379.5 250.9L380.5 249.9L381.5 248.9L382.5 247.9L383.5 246.9L384.5 246.1L385.5 245.3L386.5 244.6L387.5 244.2L388.5 243.8L389.5 243.4L390.5 242.7L391.5 241.9L392.5 241.0L393.5 240.0L394.5 238.9L395.5 237.9L396.5 237.1L397.5 236.6L398.5 236.3L399.5 235.8L400.5 235.1L401.5 234.2L402.5 233.5L403.5 232.8L404.5 232.0L405.5 231.1L406.5 230.2L407.5 229.6L408.5 229.0L409.5 228.3L410.5 227.5L411.5 226.7L412.5 225.8L413.5 224.8L414.5 223.9L415.5 223.1L416.5 222.5L417.5 222.1L418.5 221.6L419.5 220.8L420.5 220.0L421.5 219.2L422.5 218.4L423.5 217.6L424.5 217.0L425.5 216.3L426.5 215.6L427.5 214.8L428.5 214.0L429.5 213.0L430.5 212.2L431.5 211.5L432.5 210.9L433.5 210.2L434.5 209.4L435.5 208.7L436.5 208.0L437.5 207.4L438.5 206.8L439.5 205.9L440.5 204.9L441.5 203.9L442.5 203.1L443.5 202.6L444.5 202.1L445.5 201.5L446.5 200.9L447.5 200.1L448.5 199.3L449.5 198.3L450.5 197.5L451.5 196.7L452.5 196.0L453.5 195.3L454.5 194.7L455.5 193.8L456.5 192.8L457.5 191.8L458.5 190.9L459.5 190.1L460.5 189.4L461.5 188.7L462.5 188.1L463.5 187.4L464.5 186.7L465.5 185.7L466.5 184.7L467.5 183.7L468.5 183.0L469.5 182.4L470.5 181.9L471.5 181.2L472.5 180.4L473.5 179.8L474.5 179.3L475.5 178.7L476.5 177.9L477.5 177.0L478.5 176.1L479.5 175.4L480.5 174.6L481.5 173.9L482.5 173.2L483.5 172.6L484.5 172.1L485.5 171.6L486.5 170.9L487.5 170.1L488.5 169.3L489.5 168.7L490.5 168.1L491.5 167.3L492.5 166.3L493.5 165.3L494.5 164.3L495.5 163.6L496.5 163.1L497.5 162.6L498.5 162.0L499.5 161.3L500.5 160.6L501.5 159.8L502.5 158.9L503.5 158.0L504.5 157.1L505.5 156.2L506.5 155.4L507.5 154.7L508.5 153.9L509.5 153.2L510.5 152.6L511.5 152.0L512.5 151.2L513.5 150.4L514.5 149.5L515.5 148.7L516.5 148.0L517.5 147.2L518.5 146.4L519.5 145.6L520.5 144.7L521.5 143.8L522.5 142.8L523.5 141.9L524.5 141.2L525.5 140.6L526.5 140.0L527.5 139.4L528.5 138.6L529.5 137.7L530.5 136.7L531.5 135.8L532.5 135.0L533.5 134.3L534.5 133.6L535.5 132.8L536.5 131.9L537.5 130.9L538.5 130.1L539.5 129.3L540.5 128.4L541.5 127.3L542.5 126.0L543.5 124.9L544.5 124.0L545.5 123.2L546.5 122.4L547.5 121.7L548.5 121.0L549.5 120.4L550.5 119.5L551.5 118.6L552.5 117.5L553.5 116.5L554.5 115.7L555.5 114.9L556.5 114.3L557.5 113.7L558.5 113.1L559.5 112.3L560.5 111.6L561.5 110.8L562.5 109.9L563.5 109.1L564.5 108.3L565.5 107.5L566.5 106.7L567.5 105.8L568.5 105.1L569.5 104.5L570.5 104.0L571.5 103.2L572.5 102.3L573.5 101.3L574.5 100.4L575.5 99.5L576.5 98.6L577.5 97.8L578.5 96.9L579.5 96.2L580.5 95.6L581.5 94.9L582.5 94.2L583.5 93.3L584.5 92.2L585.5 91.1L586.5 90.1L587.5 89.3L588.5 88.6L589.5 87.9L590.5 87.0L591.5 86.2L592.5 85.3L593.5 84.5L594.5 83.7L595.5 82.8L596.5 81.9L597.5 81.0L598.5 80.2L599.5 79.5L600.5 78.8L601.5 78.1L602.5 77.4L603.5 76.8L604.5 76.1L605.5 75.3L606.5 74.4L607.5 73.5L608.5 72.6L609.5 71.6L610.5 70.7L611.5 69.9L612.5 69.2L613.5 68.4L614.5 67.7L615.5 67.0L616.5 66.4L617.5 65.7L618.5 64.7L619.5 63.7L620.5 62.8L621.5 62.1L622.5 61.5L623.5 60.8L624.5 60.2L625.5 59.4L626.5 57.0L627.5 56.0L628.5 55.2L629.5 54.4L630.5 53.6L631.5 52.9L632.5 52.3L633.5 51.7L634.5 51.0L635.5 50.1L636.5 49.2L637.5 48.3L638.5 47.5L639.5 46.5L640.5 45.5L641.5 44.5L642.5 43.6L643.5 42.6L644.5 41.7L645.5 40.8L646.5 40.0L647.5 39.2L648.5 38.4L649.5 37.5L650.5 36.6L651.5 35.5L652.5 34.3L653.5 33.1L654.5 32.0L655.5 30.9L655.6 30.8" fill="none" stroke="#FF7F00" stroke-width="3.5" stroke-linejoin="round" stroke-linecap="round"/>
<path d="M99.5 526.6L100.5 525.1L101.5 523.8L102.5 522.5L103.5 521.2L104.5 520.0L105.5 518.9L106.5 517.9L107.5 517.2L108.5 516.4L109.5 515.3L110.5 514.0L111.5 512.7L112.5 511.4L113.5 510.4L114.5 509.4L115.5 508.5L116.5 507.6L117.5 506.5L118.5 505.5L119.5 504.4L120.5 503.3L121.5 502.0L122.5 500.7L123.5 499.5L124.5 498.4L125.5 497.2L126.5 495.8L127.5 494.4L128.5 493.0L129.5 491.7L130.5 491.4L131.5 490.2L132.5 488.9L133.5 487.5L134.5 485.9L135.5 484.4L136.5 483.0L137.5 481.6L138.5 480.4L139.5 479.2L140.5 478.0L141.5 476.6L142.5 475.3L143.5 474.1L144.5 473.0L145.5 471.9L146.5 470.6L147.5 469.3L148.5 467.8L149.5 466.4L150.5 465.0L151.5 463.7L152.5 462.3L153.5 460.9L154.5 459.4L155.5 458.0L156.5 456.7L157.5 455.5L158.5 454.2L159.5 452.9L160.5 451.6L161.5 450.3L162.5 449.0L163.5 447.7L164.5 446.5L165.5 445.4L166.5 444.2L167.5 442.8L168.5 441.6L169.5 440.5L170.5 439.5L171.5 438.3L172.5 437.1L173.5 435.9L174.5 434.8L175.5 433.7L176.5 432.5L177.5 431.3L178.5 430.3L179.5 429.4L180.5 428.6L181.5 427.5L182.5 426.3L183.5 425.0L184.5 423.7L185.5 422.5L186.5 421.4L187.5 420.4L188.5 419.3L189.5 418.2L190.5 417.2L191.5 416.3L192.5 415.1L193.5 413.9L194.5 412.9L195.5 412.2L196.5 411.4L197.5 410.5L198.5 409.4L199.5 408.3L200.5 407.2L201.5 406.2L202.5 405.2L203.5 404.1L204.5 403.2L205.5 402.3L206.5 401.5L207.5 400.8L208.5 400.0L209.5 399.0L210.5 397.6L211.5 396.2L212.5 395.0L213.5 393.9L214.5 393.0L215.5 392.1L216.5 391.3L217.5 390.3L218.5 389.2L219.5 388.1L220.5 387.2L221.5 386.5L222.5 385.9L223.5 385.0L224.5 384.1L225.5 383.1L226.5 382.1L227.5 381.2L228.5 380.2L229.5 379.0L230.5 377.7L231.5 376.6L232.5 375.8L233.5 374.9L234.5 374.0L235.5 372.9L236.5 371.7L237.5 370.7L238.5 369.7L239.5 368.9L240.5 368.1L241.5 367.2L242.5 366.1L243.5 364.7L244.5 363.6L245.5 362.7L246.5 362.0L247.5 361.2L248.5 360.3L249.5 359.2L250.5 358.1L251.5 357.0L252.5 355.9L253.5 354.9L254.5 353.9L255.5 353.0L256.5 352.0L257.5 351.1L258.5 350.3L259.5 349.4L260.5 348.5L261.5 347.7L262.5 346.8L263.5 345.9L264.5 344.8L265.5 343.6L266.5 342.6L267.5 341.7L268.5 340.9L269.5 340.1L270.5 339.3L271.5 338.3L272.5 337.3L273.5 336.2L274.5 335.1L275.5 334.0L276.5 333.1L277.5 332.3L278.5 331.5L279.5 330.6L280.5 329.5L281.5 328.2L282.5 327.0L283.5 325.9L284.5 324.9L285.5 323.9L286.5 322.9L287.5 322.0L288.5 321.0L289.5 319.9L290.5 318.7L291.5 317.5L292.5 316.3L293.5 315.2L294.5 314.4L295.5 313.6L296.5 312.9L297.5 312.1L298.5 311.2L299.5 310.2L300.5 309.0L301.5 307.8L302.5 306.5L303.5 305.4L304.5 304.4L305.5 303.6L306.5 302.8L307.5 302.0L308.5 301.0L309.5 300.0L310.5 298.9L311.5 297.9L312.5 297.0L313.5 296.1L314.5 295.2L315.5 294.2L316.5 293.2L317.5 292.1L318.5 291.1L319.5 290.2L320.5 289.4L321.5 288.7L322.5 288.1L323.5 287.2L324.5 286.2L325.5 285.2L326.5 284.3L327.5 283.4L328.5 282.5L329.5 281.5L330.5 280.6L331.5 279.7L332.5 279.0L333.5 278.2L334.5 277.4L335.5 276.6L336.5 275.7L337.5 274.7L338.5 273.7L339.5 273.0L340.5 272.3L341.5 271.5L342.5 270.5L343.5 269.5L344.5 268.6L345.5 267.9L346.5 267.2L347.5 266.3L348.5 265.4L349.5 264.5L350.5 263.7L351.5 262.8L352.5 261.9L353.5 260.8L354.5 259.8L355.5 258.9L356.5 258.0L357.5 257.1L358.5 256.1L359.5 255.0L360.5 254.0L361.5 253.1L362.5 252.5L363.5 251.8L364.5 251.0L365.5 250.1L366.5 249.2L367.5 248.2L368.5 247.2L369.5 246.3L370.5 245.4L371.5 244.5L372.5 243.6L373.5 242.7L374.5 241.8L375.5 241.0L376.5 240.1L377.5 239.1L378.5 238.0L379.5 237.1L380.5 236.1L381.5 235.2L382.5 234.4L383.5 233.7L384.5 232.9L385.5 232.0L386.5 231.1L387.5 230.0L388.5 229.0L389.5 228.0L390.5 227.3L391.5 226.7L392.5 226.0L393.5 225.2L394.5 224.3L395.5 223.2L396.5 222.0L397.5 220.9L398.5 220.0L399.5 219.2L400.5 218.3L401.5 217.4L402.5 216.6L403.5 215.7L404.5 214.9L405.5 214.2L406.5 213.6L407.5 212.9L408.5 212.2L409.5 211.3L410.5 210.2L411.5 209.0L412.5 208.1L413.5 207.4L414.5 206.8L415.5 206.0L416.5 205.1L417.5 204.1L418.5 203.2L419.5 202.1L420.5 201.1L421.5 200.1L422.5 199.1L423.5 198.3L424.5 197.7L425.5 197.1L426.5 196.6L427.5 196.1L428.5 195.5L429.5 194.6L430.5 193.6L431.5 192.6L432.5 191.7L433.5 190.8L434.5 189.8L435.5 188.7L436.5 187.8L437.5 187.2L438.5 186.7L439.5 186.0L440.5 185.2L441.5 184.3L442.5 183.6L443.5 182.9L444.5 182.3L445.5 181.6L446.5 180.8L447.5 179.9L448.5 179.1L449.5 178.4L450.5 177.7L451.5 177.1L452.5 176.5L453.5 175.7L454.5 174.7L455.5 173.8L456.5 173.0L457.5 172.3L458.5 171.7L459.5 171.0L460.5 170.1L461.5 169.2L462.5 168.2L463.5 167.3L464.5 166.7L465.5 166.2L466.5 165.5L467.5 164.7L468.5 164.0L469.5 163.4L470.5 162.7L471.5 162.1L472.5 161.5L473.5 160.9L474.5 160.2L475.5 159.6L476.5 158.9L477.5 158.1L478.5 157.2L479.5 156.4L480.5 155.7L481.5 155.1L482.5 154.5L483.5 153.9L484.5 153.3L485.5 152.5L486.5 151.6L487.5 150.6L488.5 149.7L489.5 149.0L490.5 148.5L491.5 147.8L492.5 147.0L493.5 146.1L494.5 145.3L495.5 144.6L496.5 143.9L497.5 143.1L498.5 142.2L499.5 141.4L500.5 140.8L501.5 140.2L502.5 139.6L503.5 138.9L504.5 138.2L505.5 137.6L506.5 136.8L507.5 136.0L508.5 135.1L509.5 134.2L510.5 133.3L511.5 132.4L512.5 131.7L513.5 130.9L514.5 130.0L515.5 129.0L516.5 128.2L517.5 127.4L518.5 126.6L519.5 125.8L520.5 124.9L521.5 124.0L522.5 123.1L523.5 122.3L524.5 121.6L525.5 120.8L526.5 119.9L527.5 118.9L528.5 117.9L529.5 116.9L530.5 115.8L531.5 114.7L532.5 113.8L533.5 113.0L534.5 112.2L535.5 111.4L536.5 110.6L537.5 109.6L538.5 108.7L539.5 107.7L540.5 106.7L541.5 105.8L542.5 104.9L543.5 104.2L544.5 103.4L545.5 102.6L546.5 101.8L547.5 101.1L548.5 100.3L549.5 99.6L550.5 98.7L551.5 97.8L552.5 97.0L553.5 96.3L554.5 95.8L555.5 95.2L556.5 94.4L557.5 93.5L558.5 92.6L559.5 91.9L560.5 91.2L561.5 90.4L562.5 89.6L563.5 88.8L564.5 88.2L565.5 87.7L566.5 87.3L567.5 86.6L568.5 85.6L569.5 84.4L570.5 83.5L571.5 82.8L572.5 82.2L573.5 81.5L574.5 80.8L575.5 80.1L576.5 79.4L577.5 78.8L578.5 78.3L579.5 77.7L580.5 77.0L581.5 76.1L582.5 75.4L583.5 74.8L584.5 74.1L585.5 73.4L586.5 72.8L587.5 72.3L588.5 71.8L589.5 71.4L590.5 71.0L591.5 70.5L592.5 69.9L593.5 69.2L594.5 68.5L595.5 67.7L596.5 66.9L597.5 66.1L598.5 65.5L599.5 65.0L600.5 64.4L601.5 63.8L602.5 63.1L603.5 62.5L604.5 61.9L605.5 61.1L606.5 60.3L607.5 59.6L608.5 58.9L609.5 58.3L610.5 57.8L611.5 57.4L612.5 56.8L613.5 56.0L614.5 55.3L615.5 54.5L616.5 53.8L617.5 53.1L618.5 52.4L619.5 51.9L620.5 51.4L621.5 50.7L622.5 50.1L623.5 49.6L624.5 49.2L625.5 48.7L626.5 48.6L627.5 47.8L628.5 47.0L629.5 46.2L630.5 45.6L631.5 45.0L632.5 44.5L633.5 43.9L634.5 43.4L635.5 43.0L636.5 42.5L637.5 41.9L638.5 41.2L639.5 40.5L640.5 39.9L641.5 39.2L642.5 38.7L643.5 38.2L644.5 37.6L645.5 36.9L646.5 36.2L647.5 35.6L648.5 35.0L649.5 34.3L650.5 33.7L651.5 33.1L652.5 32.6L653.5 32.1L654.5 31.5L655.5 30.9L655.6 30.8" fill="none" stroke="#F781BF" stroke-width="3.5" stroke-linejoin="round" stroke-linecap="round"/>
<path d="M99.5 526.6L100.5 524.7L101.5 523.1L102.5 521.5L103.5 520.0L104.5 518.5L105.5 517.0L106.5 515.6L107.5 514.3L108.5 513.1L109.5 512.0L110.5 510.8L111.5 509.4L112.5 507.9L113.5 506.5L114.5 505.1L115.5 503.8L116.5 502.4L117.5 501.0L118.5 499.6L119.5 498.3L120.5 497.1L121.5 496.0L122.5 494.8L123.5 493.5L124.5 492.1L125.5 490.8L126.5 489.5L127.5 488.3L128.5 487.1L129.5 485.9L130.5 483.5L131.5 482.5L132.5 481.4L133.5 480.4L134.5 479.3L135.5 477.9L136.5 476.5L137.5 475.3L138.5 474.2L139.5 473.2L140.5 472.0L141.5 470.6L142.5 469.3L143.5 468.1L144.5 467.1L145.5 466.2L146.5 465.3L147.5 464.3L148.5 463.1L149.5 461.9L150.5 460.7L151.5 459.6L152.5 458.5L153.5 457.5L154.5 456.6L155.5 455.6L156.5 454.6L157.5 453.6L158.5 452.7L159.5 451.8L160.5 450.8L161.5 449.8L162.5 448.7L163.5 447.5L164.5 446.4L165.5 445.4L166.5 444.4L167.5 443.4L168.5 442.5L169.5 441.6L170.5 440.7L171.5 439.8L172.5 438.9L173.5 437.9L174.5 436.8L175.5 435.6L176.5 434.4L177.5 433.2L178.5 432.2L179.5 431.5L180.5 431.0L181.5 430.4L182.5 429.6L183.5 428.5L184.5 427.4L185.5 426.2L186.5 425.0L187.5 423.8L188.5 422.8L189.5 421.9L190.5 421.1L191.5 420.4L192.5 419.7L193.5 418.9L194.5 418.1L195.5 417.2L196.5 416.3L197.5 415.3L198.5 414.2L199.5 413.3L200.5 412.4L201.5 411.6L202.5 410.7L203.5 409.7L204.5 408.7L205.5 407.6L206.5 406.6L207.5 405.7L208.5 404.8L209.5 404.0L210.5 403.1L211.5 402.1L212.5 401.2L213.5 400.2L214.5 399.3L215.5 398.3L216.5 397.2L217.5 396.2L218.5 395.4L219.5 394.6L220.5 393.9L221.5 393.2L222.5 392.5L223.5 391.6L224.5 390.6L225.5 389.6L226.5 388.6L227.5 387.6L228.5 386.6L229.5 385.6L230.5 384.7L231.5 383.7L232.5 382.7L233.5 381.5L234.5 380.2L235.5 379.0L236.5 378.1L237.5 377.4L238.5 376.8L239.5 376.1L240.5 375.3L241.5 374.4L242.5 373.3L243.5 372.2L244.5 371.2L245.5 370.2L246.5 369.3L247.5 368.5L248.5 367.7L249.5 366.8L250.5 365.8L251.5 364.8L252.5 363.8L253.5 362.9L254.5 362.0L255.5 361.1L256.5 360.1L257.5 359.2L258.5 358.2L259.5 357.3L260.5 356.5L261.5 355.7L262.5 354.9L263.5 353.9L264.5 352.7L265.5 351.5L266.5 350.7L267.5 349.9L268.5 349.1L269.5 348.1L270.5 347.3L271.5 346.5L272.5 345.8L273.5 344.9L274.5 344.0L275.5 342.9L276.5 341.9L277.5 340.8L278.5 339.8L279.5 338.9L280.5 337.9L281.5 336.9L282.5 335.8L283.5 334.9L284.5 334.1L285.5 333.3L286.5 332.4L287.5 331.3L288.5 330.3L289.5 329.3L290.5 328.4L291.5 327.5L292.5 326.5L293.5 325.7L294.5 325.0L295.5 324.3L296.5 323.6L297.5 322.6L298.5 321.6L299.5 320.7L300.5 319.8L301.5 319.0L302.5 318.0L303.5 316.9L304.5 315.9L305.5 315.1L306.5 314.2L307.5 313.4L308.5 312.6L309.5 312.0L310.5 311.4L311.5 310.8L312.5 310.1L313.5 309.3L314.5 308.6L315.5 307.8L316.5 307.1L317.5 306.4L318.5 305.8L319.5 305.2L320.5 304.5L321.5 303.4L322.5 302.3L323.5 301.3L324.5 300.5L325.5 299.9L326.5 299.3L327.5 298.6L328.5 297.9L329.5 297.1L330.5 296.3L331.5 295.7L332.5 295.2L333.5 294.6L334.5 293.9L335.5 293.0L336.5 292.1L337.5 291.3L338.5 290.6L339.5 290.0L340.5 289.5L341.5 289.0L342.5 288.2L343.5 287.5L344.5 286.7L345.5 285.9L346.5 285.1L347.5 284.3L348.5 283.6L349.5 283.0L350.5 282.4L351.5 281.7L352.5 280.8L353.5 279.8L354.5 278.9L355.5 278.1L356.5 277.4L357.5 276.6L358.5 275.7L359.5 274.8L360.5 273.9L361.5 272.9L362.5 272.0L363.5 271.2L364.5 270.6L365.5 269.9L366.5 269.0L367.5 268.0L368.5 266.8L369.5 265.9L370.5 265.1L371.5 264.4L372.5 263.6L373.5 262.9L374.5 262.2L375.5 261.4L376.5 260.5L377.5 259.5L378.5 258.7L379.5 258.0L380.5 257.3L381.5 256.5L382.5 255.6L383.5 254.7L384.5 253.8L385.5 252.8L386.5 251.9L387.5 251.1L388.5 250.5L389.5 250.0L390.5 249.6L391.5 249.0L392.5 248.2L393.5 247.1L394.5 246.0L395.5 244.9L396.5 243.9L397.5 243.1L398.5 242.3L399.5 241.5L400.5 240.7L401.5 240.1L402.5 239.5L403.5 238.8L404.5 237.9L405.5 237.0L406.5 236.1L407.5 235.2L408.5 234.3L409.5 233.5L410.5 232.7L411.5 231.8L412.5 231.0L413.5 230.1L414.5 229.3L415.5 228.5L416.5 227.8L417.5 227.0L418.5 226.3L419.5 225.6L420.5 224.9L421.5 224.1L422.5 223.3L423.5 222.4L424.5 221.6L425.5 220.8L426.5 220.0L427.5 219.2L428.5 218.4L429.5 217.6L430.5 216.8L431.5 215.9L432.5 215.0L433.5 214.1L434.5 213.3L435.5 212.6L436.5 211.9L437.5 211.1L438.5 210.3L439.5 209.6L440.5 208.9L441.5 208.3L442.5 207.6L443.5 206.9L444.5 206.0L445.5 205.2L446.5 204.5L447.5 203.7L448.5 202.9L449.5 201.9L450.5 201.0L451.5 200.2L452.5 199.5L453.5 198.7L454.5 197.8L455.5 196.9L456.5 196.1L457.5 195.4L458.5 194.8L459.5 194.0L460.5 193.2L461.5 192.3L462.5 191.5L463.5 190.8L464.5 190.2L465.5 189.6L466.5 188.9L467.5 187.9L468.5 186.9L469.5 186.0L470.5 185.2L471.5 184.6L472.5 183.8L473.5 183.0L474.5 182.2L475.5 181.5L476.5 180.6L477.5 179.7L478.5 178.9L479.5 178.3L480.5 177.6L481.5 176.9L482.5 176.1L483.5 175.2L484.5 174.3L485.5 173.2L486.5 172.2L487.5 171.3L488.5 170.7L489.5 170.2L490.5 169.7L491.5 168.9L492.5 168.0L493.5 167.1L494.5 166.3L495.5 165.5L496.5 164.6L497.5 163.6L498.5 162.5L499.5 161.6L500.5 161.0L501.5 160.5L502.5 159.8L503.5 158.9L504.5 157.8L505.5 156.8L506.5 155.9L507.5 155.1L508.5 154.4L509.5 153.7L510.5 152.8L511.5 151.8L512.5 150.8L513.5 149.9L514.5 149.1L515.5 148.2L516.5 147.5L517.5 146.7L518.5 145.9L519.5 144.8L520.5 143.7L521.5 142.8L522.5 141.9L523.5 141.0L524.5 140.3L525.5 139.5L526.5 138.8L527.5 138.1L528.5 137.3L529.5 136.5L530.5 135.7L531.5 135.0L532.5 134.1L533.5 133.1L534.5 132.0L535.5 131.1L536.5 130.2L537.5 129.4L538.5 128.5L539.5 127.6L540.5 126.7L541.5 125.8L542.5 125.0L543.5 124.2L544.5 123.5L545.5 122.7L546.5 121.9L547.5 121.1L548.5 120.2L549.5 119.4L550.5 118.5L551.5 117.7L552.5 116.9L553.5 116.2L554.5 115.6L555.5 115.0L556.5 114.3L557.5 113.7L558.5 113.0L559.5 112.4L560.5 111.7L561.5 111.0L562.5 110.4L563.5 109.7L564.5 108.9L565.5 108.0L566.5 107.1L567.5 106.3L568.5 105.5L569.5 104.8L570.5 104.2L571.5 103.6L572.5 103.0L573.5 102.3L574.5 101.5L575.5 100.6L576.5 99.8L577.5 99.0L578.5 97.9L579.5 96.8L580.5 95.9L581.5 95.3L582.5 94.8L583.5 94.2L584.5 93.3L585.5 92.4L586.5 91.5L587.5 90.7L588.5 89.8L589.5 89.0L590.5 88.2L591.5 87.2L592.5 86.3L593.5 85.5L594.5 84.8L595.5 84.2L596.5 83.4L597.5 82.6L598.5 81.6L599.5 80.7L600.5 79.9L601.5 79.2L602.5 78.6L603.5 78.0L604.5 77.2L605.5 76.4L606.5 75.5L607.5 74.6L608.5 73.7L609.5 72.7L610.5 71.8L611.5 70.9L612.5 70.1L613.5 69.5L614.5 69.0L615.5 68.5L616.5 67.8L617.5 66.8L618.5 65.8L619.5 64.7L620.5 63.7L621.5 62.8L622.5 61.9L623.5 61.0L624.5 60.3L625.5 59.4L626.5 57.3L627.5 56.4L628.5 55.4L629.5 54.4L630.5 53.5L631.5 52.7L632.5 52.0L633.5 51.2L634.5 50.3L635.5 49.3L636.5 48.3L637.5 47.3L638.5 46.3L639.5 45.2L640.5 44.3L641.5 43.4L642.5 42.5L643.5 41.5L644.5 40.4L645.5 39.5L646.5 38.6L647.5 37.8L648.5 36.9L649.5 36.0L650.5 35.1L651.5 34.2L652.5 33.4L653.5 32.5L654.5 31.7L655.5 30.9L655.6 30.8" fill="none" stroke="#8A332D" stroke-width="3.5" stroke-linejoin="round" stroke-linecap="round"/>
<path d="M99.5 526.6L100.5 524.3L101.5 522.3L102.5 520.5L103.5 518.8L104.5 517.2L105.5 515.6L106.5 514.2L107.5 512.9L108.5 511.5L109.5 510.0L110.5 508.3L111.5 506.8L112.5 505.4L113.5 503.9L114.5 502.2L115.5 500.7L116.5 499.2L117.5 497.8L118.5 496.5L119.5 495.2L120.5 494.0L121.5 492.6L122.5 491.3L123.5 490.0L124.5 488.5L125.5 487.0L126.5 485.6L127.5 484.3L128.5 483.0L129.5 481.8L130.5 478.9L131.5 477.7L132.5 476.3L133.5 475.0L134.5 473.6L135.5 472.3L136.5 471.1L137.5 470.0L138.5 468.9L139.5 467.8L140.5 466.5L141.5 465.1L142.5 463.7L143.5 462.5L144.5 461.3L145.5 460.0L146.5 458.8L147.5 457.6L148.5 456.6L149.5 455.5L150.5 454.3L151.5 453.0L152.5 451.8L153.5 450.7L154.5 449.7L155.5 448.9L156.5 448.0L157.5 447.0L158.5 445.7L159.5 444.4L160.5 443.1L161.5 441.8L162.5 440.6L163.5 439.5L164.5 438.4L165.5 437.2L166.5 436.1L167.5 434.9L168.5 433.8L169.5 432.6L170.5 431.5L171.5 430.4L172.5 429.2L173.5 427.9L174.5 426.7L175.5 425.5L176.5 424.5L177.5 423.5L178.5 422.4L179.5 421.2L180.5 420.0L181.5 418.9L182.5 417.8L183.5 416.7L184.5 415.6L185.5 414.5L186.5 413.4L187.5 412.4L188.5 411.3L189.5 410.3L190.5 409.1L191.5 407.8L192.5 406.4L193.5 405.1L194.5 404.1L195.5 403.2L196.5 402.1L197.5 400.9L198.5 399.7L199.5 398.5L200.5 397.4L201.5 396.4L202.5 395.4L203.5 394.4L204.5 393.4L205.5 392.1L206.5 390.9L207.5 389.7L208.5 388.5L209.5 387.2L210.5 386.0L211.5 384.7L212.5 383.3L213.5 382.1L214.5 380.9L215.5 379.9L216.5 378.9L217.5 377.8L218.5 376.6L219.5 375.3L220.5 374.0L221.5 372.5L222.5 371.2L223.5 369.9L224.5 368.7L225.5 367.6L226.5 366.5L227.5 365.4L228.5 364.3L229.5 363.3L230.5 362.2L231.5 361.1L232.5 359.9L233.5 358.9L234.5 357.7L235.5 356.5L236.5 355.1L237.5 353.8L238.5 352.6L239.5 351.5L240.5 350.6L241.5 349.6L242.5 348.5L243.5 347.2L244.5 346.1L245.5 345.1L246.5 344.1L247.5 342.9L248.5 341.7L249.5 340.4L250.5 339.2L251.5 338.2L252.5 337.3L253.5 336.4L254.5 335.3L255.5 334.2L256.5 333.1L257.5 332.1L258.5 331.2L259.5 330.4L260.5 329.5L261.5 328.4L262.5 327.2L263.5 326.1L264.5 325.1L265.5 324.1L266.5 323.2L267.5 322.4L268.5 321.7L269.5 320.9L270.5 319.9L271.5 318.9L272.5 317.8L273.5 316.6L274.5 315.6L275.5 314.8L276.5 314.1L277.5 313.3L278.5 312.5L279.5 311.8L280.5 311.1L281.5 310.2L282.5 309.1L283.5 308.1L284.5 307.1L285.5 306.1L286.5 305.1L287.5 304.3L288.5 303.6L289.5 302.7L290.5 301.8L291.5 300.9L292.5 300.1L293.5 299.3L294.5 298.4L295.5 297.3L296.5 296.2L297.5 295.3L298.5 294.5L299.5 293.5L300.5 292.5L301.5 291.8L302.5 291.2L303.5 290.5L304.5 289.7L305.5 288.9L306.5 288.0L307.5 287.2L308.5 286.6L309.5 286.0L310.5 285.3L311.5 284.4L312.5 283.4L313.5 282.4L314.5 281.3L315.5 280.3L316.5 279.4L317.5 278.8L318.5 278.2L319.5 277.6L320.5 276.8L321.5 275.9L322.5 275.0L323.5 273.9L324.5 272.8L325.5 271.8L326.5 270.8L327.5 269.9L328.5 268.9L329.5 268.1L330.5 267.4L331.5 266.6L332.5 265.6L333.5 264.8L334.5 264.1L335.5 263.3L336.5 262.5L337.5 261.5L338.5 260.6L339.5 259.9L340.5 259.1L341.5 258.3L342.5 257.2L343.5 256.1L344.5 255.0L345.5 254.1L346.5 253.3L347.5 252.3L348.5 251.2L349.5 250.2L350.5 249.4L351.5 248.5L352.5 247.7L353.5 246.8L354.5 246.1L355.5 245.3L356.5 244.5L357.5 243.7L358.5 242.7L359.5 241.6L360.5 240.4L361.5 239.4L362.5 238.4L363.5 237.5L364.5 236.5L365.5 235.5L366.5 234.3L367.5 233.3L368.5 232.5L369.5 231.6L370.5 230.7L371.5 229.8L372.5 229.0L373.5 228.0L374.5 226.9L375.5 225.9L376.5 224.8L377.5 223.8L378.5 222.9L379.5 222.0L380.5 221.2L381.5 220.3L382.5 219.3L383.5 218.2L384.5 217.2L385.5 216.3L386.5 215.5L387.5 214.6L388.5 213.8L389.5 212.9L390.5 211.9L391.5 211.0L392.5 210.0L393.5 209.2L394.5 208.5L395.5 207.7L396.5 206.7L397.5 205.8L398.5 205.1L399.5 204.3L400.5 203.6L401.5 202.7L402.5 201.8L403.5 201.0L404.5 200.3L405.5 199.7L406.5 199.0L407.5 198.3L408.5 197.4L409.5 196.3L410.5 195.1L411.5 194.1L412.5 193.3L413.5 192.5L414.5 191.8L415.5 191.1L416.5 190.3L417.5 189.6L418.5 189.2L419.5 188.9L420.5 188.4L421.5 187.8L422.5 187.1L423.5 186.3L424.5 185.4L425.5 184.4L426.5 183.4L427.5 182.6L428.5 181.9L429.5 181.2L430.5 180.5L431.5 180.0L432.5 179.4L433.5 178.7L434.5 178.1L435.5 177.5L436.5 177.1L437.5 176.6L438.5 176.0L439.5 175.3L440.5 174.5L441.5 173.5L442.5 172.5L443.5 171.6L444.5 170.8L445.5 170.0L446.5 169.3L447.5 168.6L448.5 168.0L449.5 167.5L450.5 166.9L451.5 166.2L452.5 165.5L453.5 164.8L454.5 164.2L455.5 163.7L456.5 163.1L457.5 162.5L458.5 162.0L459.5 161.3L460.5 160.6L461.5 159.8L462.5 159.1L463.5 158.4L464.5 157.6L465.5 156.7L466.5 155.7L467.5 155.1L468.5 154.9L469.5 154.7L470.5 154.3L471.5 153.6L472.5 152.7L473.5 151.9L474.5 151.1L475.5 150.5L476.5 149.9L477.5 149.4L478.5 148.8L479.5 148.1L480.5 147.4L481.5 146.5L482.5 145.7L483.5 145.1L484.5 144.6L485.5 144.1L486.5 143.6L487.5 143.0L488.5 142.4L489.5 141.6L490.5 140.8L491.5 140.0L492.5 139.4L493.5 138.7L494.5 137.9L495.5 137.1L496.5 136.3L497.5 135.7L498.5 135.1L499.5 134.4L500.5 133.7L501.5 133.1L502.5 132.6L503.5 132.1L504.5 131.3L505.5 130.5L506.5 129.7L507.5 129.1L508.5 128.5L509.5 127.9L510.5 127.2L511.5 126.3L512.5 125.6L513.5 124.9L514.5 124.4L515.5 123.7L516.5 122.9L517.5 122.2L518.5 121.6L519.5 120.8L520.5 120.0L521.5 119.0L522.5 118.2L523.5 117.5L524.5 116.9L525.5 116.3L526.5 115.8L527.5 115.1L528.5 114.4L529.5 113.6L530.5 112.9L531.5 112.3L532.5 111.6L533.5 110.9L534.5 110.3L535.5 109.7L536.5 109.0L537.5 108.5L538.5 107.9L539.5 107.4L540.5 106.8L541.5 106.2L542.5 105.4L543.5 104.5L544.5 103.6L545.5 102.9L546.5 102.4L547.5 101.8L548.5 101.1L549.5 100.4L550.5 99.6L551.5 98.8L552.5 98.1L553.5 97.5L554.5 96.9L555.5 96.4L556.5 95.9L557.5 95.3L558.5 94.6L559.5 94.0L560.5 93.4L561.5 92.9L562.5 92.4L563.5 91.7L564.5 91.1L565.5 90.6L566.5 90.0L567.5 89.3L568.5 88.4L569.5 87.5L570.5 86.7L571.5 86.2L572.5 85.8L573.5 85.4L574.5 84.7L575.5 83.9L576.5 83.1L577.5 82.3L578.5 81.6L579.5 80.9L580.5 80.3L581.5 79.7L582.5 79.2L583.5 78.6L584.5 78.0L585.5 77.4L586.5 76.7L587.5 75.9L588.5 75.0L589.5 74.4L590.5 74.0L591.5 73.7L592.5 73.2L593.5 72.5L594.5 71.6L595.5 70.8L596.5 70.0L597.5 69.2L598.5 68.4L599.5 67.6L600.5 66.8L601.5 66.1L602.5 65.4L603.5 64.8L604.5 64.4L605.5 63.9L606.5 63.2L607.5 62.5L608.5 61.8L609.5 61.0L610.5 60.3L611.5 59.7L612.5 59.0L613.5 58.3L614.5 57.4L615.5 56.5L616.5 56.0L617.5 55.6L618.5 54.9L619.5 54.1L620.5 53.2L621.5 52.3L622.5 51.6L623.5 51.0L624.5 50.3L625.5 49.6L626.5 49.2L627.5 48.7L628.5 48.3L629.5 47.9L630.5 47.5L631.5 47.0L632.5 46.2L633.5 45.3L634.5 44.4L635.5 43.6L636.5 42.9L637.5 42.1L638.5 41.1L639.5 40.2L640.5 39.5L641.5 39.0L642.5 38.4L643.5 37.7L644.5 36.9L645.5 36.3L646.5 35.9L647.5 35.5L648.5 35.0L649.5 34.3L650.5 33.6L651.5 33.1L652.5 32.6L653.5 32.0L654.5 31.4L655.5 30.9L655.6 30.8" fill="none" stroke="#377EB8" stroke-width="3.5" stroke-linejoin="round" stroke-linecap="round"/>
<path d="M99.5 526.6L100.5 525.0L101.5 523.5L102.5 522.1L103.5 520.9L104.5 519.7L105.5 518.6L106.5 517.5L107.5 516.2L108.5 514.9L109.5 513.5L110.5 512.2L111.5 511.0L112.5 509.9L113.5 509.0L114.5 508.0L115.5 507.0L116.5 505.8L117.5 504.5L118.5 503.0L119.5 501.6L120.5 500.3L121.5 499.1L122.5 497.8L123.5 496.5L124.5 495.3L125.5 494.3L126.5 493.4L127.5 492.5L128.5 491.5L129.5 490.4L130.5 488.5L131.5 487.4L132.5 486.2L133.5 484.9L134.5 483.7L135.5 482.4L136.5 481.3L137.5 480.2L138.5 479.1L139.5 478.1L140.5 477.0L141.5 475.9L142.5 474.8L143.5 473.8L144.5 472.7L145.5 471.5L146.5 470.3L147.5 469.0L148.5 467.9L149.5 466.9L150.5 465.9L151.5 464.6L152.5 463.3L153.5 462.0L154.5 461.0L155.5 460.1L156.5 459.2L157.5 458.3L158.5 457.4L159.5 456.4L160.5 455.4L161.5 454.4L162.5 453.3L163.5 452.0L164.5 450.8L165.5 449.8L166.5 448.8L167.5 447.8L168.5 446.7L169.5 445.7L170.5 444.7L171.5 443.8L172.5 442.8L173.5 441.8L174.5 440.8L175.5 439.8L176.5 438.9L177.5 438.0L178.5 437.0L179.5 436.1L180.5 435.1L181.5 434.2L182.5 433.2L183.5 432.2L184.5 431.3L185.5 430.4L186.5 429.6L187.5 428.6L188.5 427.8L189.5 427.0L190.5 426.0L191.5 425.0L192.5 423.9L193.5 422.8L194.5 421.8L195.5 420.9L196.5 420.2L197.5 419.4L198.5 418.7L199.5 417.9L200.5 417.0L201.5 416.0L202.5 414.9L203.5 413.7L204.5 412.6L205.5 411.6L206.5 410.7L207.5 409.8L208.5 409.0L209.5 408.3L210.5 407.8L211.5 407.3L212.5 406.8L213.5 406.0L214.5 405.0L215.5 403.9L216.5 403.0L217.5 402.2L218.5 401.4L219.5 400.7L220.5 400.1L221.5 399.4L222.5 398.5L223.5 397.5L224.5 396.4L225.5 395.4L226.5 394.6L227.5 394.0L228.5 393.3L229.5 392.6L230.5 391.8L231.5 391.0L232.5 390.1L233.5 389.2L234.5 388.4L235.5 387.6L236.5 386.8L237.5 385.9L238.5 385.0L239.5 384.1L240.5 383.0L241.5 382.0L242.5 380.9L243.5 379.8L244.5 378.9L245.5 377.9L246.5 377.1L247.5 376.3L248.5 375.4L249.5 374.5L250.5 373.6L251.5 372.8L252.5 371.8L253.5 370.7L254.5 369.6L255.5 368.3L256.5 367.1L257.5 366.1L258.5 365.2L259.5 364.2L260.5 363.2L261.5 362.3L262.5 361.5L263.5 360.6L264.5 359.6L265.5 358.6L266.5 357.7L267.5 357.0L268.5 356.3L269.5 355.5L270.5 354.4L271.5 353.2L272.5 352.1L273.5 351.1L274.5 350.1L275.5 349.0L276.5 347.9L277.5 347.0L278.5 346.1L279.5 345.3L280.5 344.5L281.5 343.6L282.5 342.6L283.5 341.6L284.5 340.6L285.5 339.6L286.5 338.7L287.5 337.8L288.5 336.8L289.5 335.8L290.5 335.0L291.5 334.1L292.5 333.1L293.5 332.1L294.5 331.0L295.5 329.9L296.5 328.8L297.5 327.8L298.5 326.8L299.5 325.9L300.5 325.0L301.5 324.2L302.5 323.2L303.5 322.2L304.5 321.3L305.5 320.6L306.5 320.1L307.5 319.6L308.5 318.8L309.5 317.9L310.5 316.8L311.5 315.6L312.5 314.5L313.5 313.4L314.5 312.5L315.5 311.7L316.5 310.9L317.5 310.1L318.5 309.2L319.5 308.2L320.5 307.3L321.5 306.4L322.5 305.4L323.5 304.3L324.5 303.3L325.5 302.4L326.5 301.6L327.5 301.0L328.5 300.3L329.5 299.4L330.5 298.4L331.5 297.5L332.5 296.7L333.5 295.9L334.5 295.0L335.5 294.1L336.5 293.3L337.5 292.4L338.5 291.5L339.5 290.6L340.5 289.9L341.5 289.1L342.5 288.3L343.5 287.3L344.5 286.5L345.5 285.8L346.5 285.1L347.5 284.1L348.5 282.9L349.5 281.7L350.5 280.7L351.5 279.9L352.5 279.2L353.5 278.3L354.5 277.4L355.5 276.5L356.5 275.7L357.5 274.9L358.5 274.1L359.5 273.3L360.5 272.6L361.5 271.8L362.5 270.8L363.5 269.7L364.5 268.7L365.5 267.9L366.5 267.1L367.5 266.4L368.5 265.6L369.5 264.8L370.5 263.9L371.5 262.9L372.5 261.9L373.5 261.1L374.5 260.4L375.5 259.5L376.5 258.6L377.5 257.7L378.5 257.0L379.5 256.4L380.5 255.7L381.5 254.9L382.5 254.0L383.5 253.2L384.5 252.5L385.5 251.7L386.5 250.7L387.5 249.6L388.5 248.5L389.5 247.6L390.5 246.9L391.5 246.3L392.5 245.7L393.5 245.1L394.5 244.4L395.5 243.6L396.5 242.7L397.5 241.7L398.5 240.8L399.5 240.0L400.5 239.4L401.5 238.7L402.5 238.0L403.5 237.2L404.5 236.2L405.5 235.1L406.5 234.2L407.5 233.2L408.5 232.3L409.5 231.4L410.5 230.6L411.5 229.8L412.5 229.0L413.5 228.2L414.5 227.4L415.5 226.7L416.5 226.1L417.5 225.2L418.5 224.2L419.5 223.0L420.5 222.0L421.5 221.1L422.5 220.1L423.5 219.0L424.5 217.9L425.5 217.0L426.5 216.2L427.5 215.4L428.5 214.5L429.5 213.7L430.5 212.9L431.5 212.2L432.5 211.2L433.5 210.1L434.5 209.3L435.5 208.5L436.5 207.5L437.5 206.5L438.5 205.4L439.5 204.5L440.5 203.8L441.5 203.1L442.5 202.3L443.5 201.4L444.5 200.3L445.5 199.3L446.5 198.4L447.5 197.6L448.5 196.9L449.5 196.1L450.5 195.3L451.5 194.3L452.5 193.3L453.5 192.2L454.5 191.2L455.5 190.4L456.5 189.7L457.5 189.1L458.5 188.3L459.5 187.5L460.5 186.7L461.5 186.0L462.5 185.2L463.5 184.5L464.5 183.8L465.5 182.9L466.5 181.9L467.5 180.8L468.5 179.7L469.5 178.7L470.5 177.9L471.5 177.3L472.5 176.6L473.5 175.7L474.5 174.9L475.5 174.2L476.5 173.5L477.5 172.8L478.5 172.1L479.5 171.2L480.5 170.4L481.5 169.5L482.5 168.8L483.5 168.3L484.5 167.9L485.5 167.3L486.5 166.3L487.5 165.2L488.5 164.2L489.5 163.3L490.5 162.3L491.5 161.4L492.5 160.6L493.5 159.9L494.5 159.2L495.5 158.5L496.5 157.8L497.5 157.0L498.5 156.2L499.5 155.2L500.5 154.4L501.5 153.8L502.5 153.1L503.5 152.2L504.5 151.2L505.5 150.2L506.5 149.5L507.5 148.9L508.5 148.1L509.5 147.1L510.5 145.9L511.5 144.8L512.5 143.9L513.5 143.1L514.5 142.4L515.5 141.6L516.5 140.9L517.5 140.2L518.5 139.4L519.5 138.5L520.5 137.4L521.5 136.4L522.5 135.3L523.5 134.4L524.5 133.6L525.5 132.9L526.5 132.1L527.5 131.3L528.5 130.5L529.5 129.6L530.5 128.7L531.5 127.8L532.5 127.0L533.5 126.1L534.5 125.2L535.5 124.2L536.5 123.1L537.5 122.0L538.5 121.0L539.5 120.1L540.5 119.1L541.5 118.2L542.5 117.4L543.5 116.7L544.5 116.1L545.5 115.5L546.5 114.7L547.5 113.8L548.5 112.8L549.5 112.0L550.5 111.4L551.5 110.8L552.5 110.1L553.5 109.3L554.5 108.4L555.5 107.6L556.5 106.7L557.5 105.9L558.5 105.1L559.5 104.4L560.5 103.6L561.5 102.9L562.5 102.1L563.5 101.2L564.5 100.3L565.5 99.6L566.5 98.9L567.5 98.3L568.5 97.5L569.5 96.7L570.5 95.9L571.5 95.1L572.5 94.3L573.5 93.5L574.5 92.6L575.5 91.7L576.5 90.8L577.5 89.9L578.5 89.0L579.5 88.2L580.5 87.4L581.5 86.8L582.5 86.3L583.5 85.8L584.5 85.3L585.5 84.7L586.5 84.0L587.5 83.1L588.5 82.1L589.5 80.8L590.5 79.8L591.5 79.0L592.5 78.5L593.5 78.0L594.5 77.3L595.5 76.6L596.5 75.7L597.5 74.8L598.5 73.9L599.5 73.1L600.5 72.5L601.5 72.0L602.5 71.3L603.5 70.5L604.5 69.7L605.5 69.0L606.5 68.4L607.5 67.8L608.5 67.0L609.5 66.0L610.5 65.0L611.5 64.1L612.5 63.4L613.5 62.6L614.5 61.9L615.5 61.0L616.5 60.3L617.5 59.7L618.5 59.3L619.5 58.8L620.5 58.1L621.5 57.3L622.5 56.4L623.5 55.6L624.5 54.8L625.5 53.8L626.5 52.7L627.5 51.9L628.5 51.1L629.5 50.3L630.5 49.4L631.5 48.7L632.5 48.0L633.5 47.3L634.5 46.6L635.5 45.8L636.5 44.9L637.5 44.2L638.5 43.6L639.5 43.0L640.5 42.3L641.5 41.6L642.5 40.9L643.5 40.2L644.5 39.4L645.5 38.7L646.5 37.9L647.5 37.1L648.5 36.4L649.5 35.7L650.5 34.9L651.5 34.2L652.5 33.4L653.5 32.5L654.5 31.7L655.5 30.9L655.6 30.8" fill="none" stroke="#55B24F" stroke-width="3.5" stroke-linejoin="round" stroke-linecap="round"/>
</g>
<rect x="72.45" y="5.8" width="610.45" height="570.6" fill="none" stroke="#111" stroke-width="1.45"/>
<g fill="#1a1a1a">
<text x="63.6" y="37.7" text-anchor="end" font-size="19.4">1.00</text><text x="63.6" y="161.7" text-anchor="end" font-size="19.4">0.75</text><text x="63.6" y="285.6" text-anchor="end" font-size="19.4">0.50</text><text x="63.6" y="409.6" text-anchor="end" font-size="19.4">0.25</text><text x="63.6" y="533.5" text-anchor="end" font-size="19.4">0.00</text>
<text x="99.5" y="598.7" text-anchor="middle" font-size="19.4">0.00</text><text x="238.5" y="598.7" text-anchor="middle" font-size="19.4">0.25</text><text x="377.6" y="598.7" text-anchor="middle" font-size="19.4">0.50</text><text x="516.6" y="598.7" text-anchor="middle" font-size="19.4">0.75</text><text x="655.6" y="598.7" text-anchor="middle" font-size="19.4">1.00</text>
<text x="378" y="619.7" text-anchor="middle" font-size="17.5">1 &#8722; Specificity</text>
<text transform="translate(17.8 291.4) rotate(-90)" text-anchor="middle" font-size="17.5">Sensitivity</text>
</g>
<text x="516.5" y="434.2" font-size="17.6" fill="#D7262B">CALLY: 0.595</text><text x="516.5" y="458.8" font-size="17.6" fill="#F0862A">SII: 0.533</text><text x="516.5" y="483.5" font-size="17.6" fill="#F06EAE">NHR: 0.555</text><text x="516.5" y="508.0" font-size="17.6" fill="#7A3B3D">LHR: 0.530</text><text x="516.5" y="532.6" font-size="17.6" fill="#4A7AB5">MHR: 0.575</text><text x="516.5" y="557.2" font-size="17.6" fill="#6DAE5E">PHR: 0.531</text>
</svg>
</body></html>
